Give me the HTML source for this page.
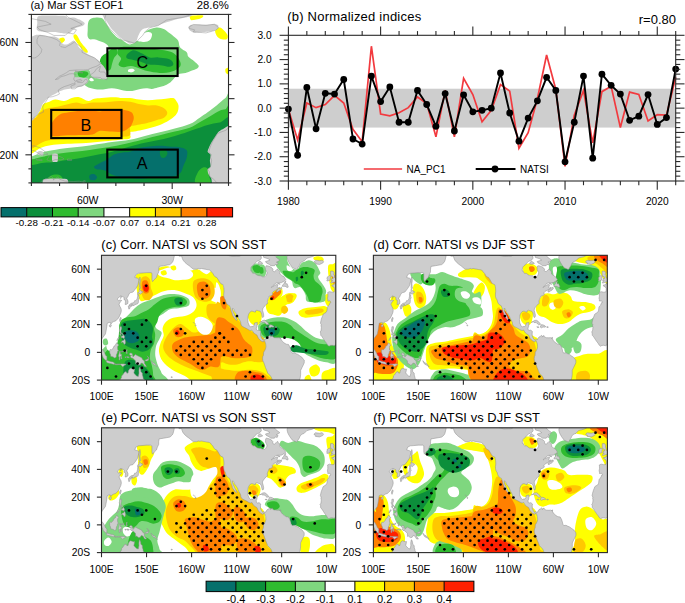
<!DOCTYPE html><html><head><meta charset="utf-8"><style>html,body{margin:0;padding:0;background:#fff;width:685px;height:603px;overflow:hidden}svg{display:block}text{font-family:"Liberation Sans",sans-serif}</style></head><body>
<svg width="685" height="603" viewBox="0 0 685 603">
<rect x="0" y="0" width="685" height="603" fill="#fff"/>
<svg x="31.4" y="14.4" width="197.1" height="168.5" viewBox="280 -70 70 60" preserveAspectRatio="none" overflow="hidden"><rect x="275" y="-75" width="80" height="70" fill="#fff"/><path d="M284.26,-38.09 C284.79,-38.58 285.68,-38.65 286.39,-38.91 C287.1,-39.18 287.64,-39.66 288.52,-39.7 C289.41,-39.74 290.71,-39.07 291.68,-39.16 C292.66,-39.25 293.46,-40.01 294.35,-40.23 C295.24,-40.46 296.04,-40.69 297.01,-40.52 C297.98,-40.34 299.29,-39.25 300.17,-39.16 C301.05,-39.07 301.51,-39.8 302.3,-39.98 C303.1,-40.16 303.78,-40.14 304.93,-40.23 C306.08,-40.32 307.96,-40.52 309.19,-40.52 C310.43,-40.52 311.38,-40.28 312.35,-40.23 C313.32,-40.18 314.04,-40.32 315.02,-40.23 C315.99,-40.14 317.15,-39.83 318.21,-39.7 C319.27,-39.57 320.32,-39.45 321.37,-39.45 C322.43,-39.45 323.51,-39.61 324.57,-39.7 C325.63,-39.79 326.76,-39.89 327.73,-39.98 C328.7,-40.07 329.77,-40.37 330.4,-40.23 C331.02,-40.09 331.15,-39.6 331.46,-39.16 C331.77,-38.72 332.15,-38.21 332.24,-37.6 C332.33,-36.98 332.21,-36.08 331.99,-35.46 C331.77,-34.84 331.46,-34.39 330.93,-33.86 C330.4,-33.32 329.68,-32.79 328.8,-32.26 C327.92,-31.72 326.7,-31.09 325.64,-30.65 C324.58,-30.21 323.51,-29.93 322.44,-29.62 C321.37,-29.31 320.21,-29.03 319.24,-28.8 C318.27,-28.58 317.32,-28.4 316.62,-28.27 C315.91,-28.14 315.28,-28.42 315.02,-28.02 C314.75,-27.62 315.63,-26.33 315.02,-25.88 C314.4,-25.44 312.83,-25.53 311.32,-25.35 C309.82,-25.17 307.77,-24.99 306,-24.81 C304.23,-24.64 302.47,-24.41 300.71,-24.28 C298.94,-24.15 297.18,-24.12 295.41,-24.03 C293.65,-23.94 291.71,-23.88 290.12,-23.74 C288.53,-23.61 287.1,-23.51 285.86,-23.25 C284.62,-22.99 283.63,-22.62 282.7,-22.18 C281.77,-21.73 280.94,-20.83 280.28,-20.58 C279.63,-20.32 279.04,-18.74 278.79,-20.65 C278.54,-22.56 278.46,-30.02 278.79,-32.04 C279.13,-34.07 280.25,-32.4 280.82,-32.79 C281.38,-33.18 281.77,-33.86 282.17,-34.39 C282.56,-34.93 282.85,-35.38 283.2,-35.99 C283.55,-36.61 283.73,-37.61 284.26,-38.09Z" fill="#ffff00"/><path d="M295.06,-62.7 C295.23,-62.87 295.7,-63.09 296.09,-62.7 C296.48,-62.31 297.05,-60.91 297.4,-60.35 C297.75,-59.79 297.8,-59.79 298.18,-59.32 C298.57,-58.84 299.41,-57.98 299.71,-57.5 C300.01,-57.03 300.13,-56.64 299.99,-56.47 C299.86,-56.3 299.32,-56.21 298.93,-56.47 C298.54,-56.73 298.12,-57.43 297.65,-58.04 C297.18,-58.64 296.52,-59.5 296.09,-60.1 C295.66,-60.71 295.23,-61.23 295.06,-61.67 C294.89,-62.1 294.89,-62.53 295.06,-62.7Z" fill="#ffff00"/><path d="M289.8,-61.24 C290.01,-61.51 290.87,-61.83 291.22,-61.77 C291.58,-61.72 291.99,-61.21 291.93,-60.88 C291.87,-60.56 291.19,-59.93 290.87,-59.82 C290.54,-59.7 290.16,-59.93 289.98,-60.17 C289.8,-60.41 289.59,-60.97 289.8,-61.24Z" fill="#ffff00"/><path d="M336.33,-69.43 C336.56,-69.7 337.33,-69.58 338.1,-69.61 C338.87,-69.64 340.56,-69.76 340.94,-69.61 C341.33,-69.46 340.83,-68.96 340.41,-68.72 C340,-68.48 339.08,-68.3 338.46,-68.18 C337.84,-68.07 337.04,-67.8 336.68,-68.01 C336.33,-68.21 336.09,-69.16 336.33,-69.43Z" fill="#ffff00"/><path d="M345.38,-64.45 C345.64,-64.77 346.41,-65.33 346.91,-65.3 C347.41,-65.27 347.95,-64.71 348.4,-64.27 C348.86,-63.83 349.47,-63.17 349.64,-62.66 C349.82,-62.16 349.79,-61.5 349.47,-61.24 C349.14,-60.99 348.25,-61.01 347.69,-61.13 C347.14,-61.25 346.51,-61.58 346.13,-61.95 C345.74,-62.33 345.51,-62.96 345.38,-63.38 C345.26,-63.79 345.13,-64.12 345.38,-64.45Z" fill="#ffff00"/><path d="M348.93,-50.56 C349.11,-50.85 349.97,-51.21 350.18,-50.91 C350.38,-50.62 350.36,-49.07 350.18,-48.78 C350,-48.48 349.32,-48.84 349.11,-49.13 C348.9,-49.43 348.76,-50.26 348.93,-50.56Z" fill="#ffff00"/><path d="M300.24,-67.36 C300.55,-68.1 301.03,-68.46 301.81,-68.68 C302.58,-68.9 304.12,-68.99 304.9,-68.68 C305.67,-68.38 305.85,-67.69 306.46,-66.87 C307.07,-66.04 307.86,-64.6 308.55,-63.73 C309.25,-62.87 310.01,-62.14 310.61,-61.67 C311.22,-61.19 311.44,-61.28 312.18,-60.88 C312.91,-60.49 314.02,-59.28 315.02,-59.32 C316.01,-59.36 317.19,-60.35 318.14,-61.13 C319.1,-61.92 319.7,-63.32 320.74,-64.02 C321.77,-64.71 323.32,-65.18 324.36,-65.3 C325.39,-65.42 326.26,-65.03 326.95,-64.77 C327.64,-64.5 327.91,-64.17 328.51,-63.73 C329.12,-63.3 329.97,-62.68 330.57,-62.17 C331.18,-61.65 331.79,-61.24 332.14,-60.64 C332.48,-60.03 332.37,-59.06 332.63,-58.53 C332.89,-58.01 333.27,-57.85 333.7,-57.5 C334.13,-57.16 334.88,-56.9 335.23,-56.47 C335.57,-56.04 335.33,-55.42 335.76,-54.9 C336.19,-54.38 337.21,-53.86 337.82,-53.34 C338.42,-52.81 339.2,-52.2 339.38,-51.77 C339.56,-51.34 339.32,-51.04 338.88,-50.74 C338.45,-50.43 337.48,-50.21 336.79,-49.95 C336.1,-49.69 335.5,-49.38 334.73,-49.17 C333.95,-48.96 332.83,-49.01 332.14,-48.67 C331.44,-48.33 331.09,-47.63 330.57,-47.1 C330.05,-46.58 329.61,-45.97 329.01,-45.54 C328.41,-45.1 327.64,-44.77 326.95,-44.5 C326.26,-44.24 325.55,-44.14 324.86,-43.97 C324.16,-43.8 323.48,-43.51 322.8,-43.47 C322.11,-43.43 321.43,-43.72 320.74,-43.72 C320.04,-43.72 319.33,-43.6 318.64,-43.47 C317.95,-43.34 317.18,-43.07 316.58,-42.94 C315.98,-42.81 315.67,-42.69 315.02,-42.69 C314.37,-42.69 313.41,-42.81 312.67,-42.94 C311.94,-43.07 311.3,-43.34 310.61,-43.47 C309.93,-43.6 309.25,-43.72 308.55,-43.72 C307.86,-43.72 307.15,-43.55 306.46,-43.47 C305.77,-43.39 305.09,-43.22 304.4,-43.22 C303.71,-43.22 303,-43.35 302.3,-43.47 C301.61,-43.6 300.85,-43.71 300.24,-43.97 C299.64,-44.23 299.07,-44.69 298.68,-45.04 C298.29,-45.39 297.98,-45.73 297.9,-46.07 C297.82,-46.42 298.65,-46.89 298.18,-47.1 C297.72,-47.32 295.64,-46.9 295.13,-47.35 C294.62,-47.81 294.18,-49.43 295.13,-49.85 C296.08,-50.26 299.27,-49.26 300.81,-49.85 C302.36,-50.43 303.72,-52.49 304.4,-53.34 C305.08,-54.18 304.55,-54.47 304.9,-54.9 C305.24,-55.34 306.03,-55.5 306.46,-55.93 C306.89,-56.37 307.4,-56.98 307.49,-57.5 C307.58,-58.02 307.33,-58.64 306.99,-59.07 C306.65,-59.5 305.95,-59.84 305.43,-60.1 C304.91,-60.36 304.39,-60.46 303.87,-60.64 C303.35,-60.81 302.82,-61.05 302.3,-61.13 C301.79,-61.22 301.16,-60.96 300.78,-61.13 C300.39,-61.31 300.13,-61.64 299.99,-62.17 C299.86,-62.69 299.95,-63.4 299.99,-64.27 C300.04,-65.13 299.94,-66.63 300.24,-67.36Z" fill="#7fd77f"/><path d="M295.31,-49.95 C296.22,-50.43 299.86,-50.5 300.78,-49.95 C301.69,-49.4 301.04,-47.34 300.81,-46.64 C300.58,-45.94 300.1,-45.87 299.39,-45.75 C298.68,-45.63 297.23,-45.7 296.55,-45.93 C295.87,-46.15 295.51,-46.43 295.31,-47.1 C295.1,-47.77 294.4,-49.48 295.31,-49.95Z" fill="#7fd77f"/><path d="M278.79,-19.51 C279.04,-21.28 279.46,-19.29 280.28,-19.51 C281.11,-19.73 282.53,-20.47 283.73,-20.82 C284.92,-21.18 285.95,-21.38 287.46,-21.64 C288.96,-21.91 290.99,-22.21 292.75,-22.43 C294.51,-22.65 296.27,-22.74 298.04,-22.96 C299.81,-23.18 301.6,-23.48 303.37,-23.74 C305.14,-24.01 306.72,-24.3 308.66,-24.56 C310.6,-24.83 313.08,-24.99 315.02,-25.35 C316.96,-25.7 318.54,-26.26 320.31,-26.7 C322.08,-27.15 323.87,-27.58 325.64,-28.02 C327.41,-28.46 329.16,-28.85 330.93,-29.34 C332.69,-29.82 334.72,-30.27 336.22,-30.94 C337.72,-31.6 338.85,-32.62 339.91,-33.32 C340.97,-34.03 341.6,-34.46 342.58,-35.18 C343.55,-35.89 344.71,-36.75 345.77,-37.6 C346.83,-38.44 348.02,-39.61 348.93,-40.23 C349.85,-40.85 350.86,-46.52 351.24,-41.3 C351.63,-36.08 363.32,-14.3 351.24,-8.9 C339.17,-3.5 290.87,-7.13 278.79,-8.9 C266.72,-10.66 278.54,-17.74 278.79,-19.51Z" fill="#7fd77f"/><path d="M317.15,-60.88 C316.91,-61.3 317.86,-62.19 318.57,-62.66 C319.28,-63.14 320.7,-63.67 321.41,-63.73 C322.12,-63.79 322.71,-63.5 322.83,-63.02 C322.95,-62.55 322.59,-61.36 322.12,-60.88 C321.65,-60.41 320.82,-60.17 319.99,-60.17 C319.16,-60.17 317.39,-60.47 317.15,-60.88Z" fill="#ffffff"/><path d="M300.53,-46.82 C300.56,-47.02 301.07,-47.48 301.34,-47.42 C301.62,-47.36 302.23,-46.66 302.2,-46.46 C302.17,-46.26 301.45,-46.15 301.17,-46.21 C300.89,-46.27 300.5,-46.62 300.53,-46.82Z" fill="#ffffff"/><path d="M283.48,-35.46 C283.83,-35.73 284.22,-36.02 284.79,-36.24 C285.37,-36.46 286.04,-36.6 286.93,-36.78 C287.81,-36.96 289.06,-37.09 290.12,-37.31 C291.18,-37.53 292.31,-37.88 293.28,-38.09 C294.25,-38.31 295.06,-38.63 295.95,-38.63 C296.83,-38.63 297.6,-38.09 298.57,-38.09 C299.55,-38.09 300.71,-38.54 301.77,-38.63 C302.83,-38.72 303.87,-38.58 304.93,-38.63 C305.99,-38.68 307.06,-38.82 308.13,-38.91 C309.19,-39 310.18,-39.16 311.32,-39.16 C312.47,-39.16 313.87,-39.09 315.02,-38.91 C316.17,-38.74 317.15,-38.31 318.21,-38.09 C319.27,-37.88 320.32,-37.68 321.37,-37.6 C322.43,-37.51 323.6,-37.77 324.57,-37.6 C325.54,-37.42 326.58,-36.97 327.2,-36.53 C327.81,-36.08 328.26,-35.46 328.26,-34.93 C328.26,-34.39 327.73,-33.72 327.2,-33.32 C326.67,-32.93 325.9,-32.81 325.1,-32.54 C324.31,-32.27 323.42,-31.99 322.44,-31.72 C321.46,-31.45 320.21,-31.16 319.24,-30.94 C318.27,-30.72 317.32,-30.58 316.62,-30.4 C315.91,-30.23 315.28,-30.48 315.02,-29.91 C314.75,-29.33 315.46,-27.53 315.02,-26.95 C314.57,-26.37 313.41,-26.55 312.35,-26.42 C311.29,-26.28 310.16,-26.21 308.66,-26.17 C307.16,-26.12 305.14,-26.21 303.37,-26.17 C301.6,-26.12 299.81,-25.97 298.04,-25.88 C296.27,-25.79 294.42,-25.72 292.75,-25.63 C291.07,-25.54 289.32,-25.48 287.99,-25.35 C286.66,-25.21 285.68,-25.08 284.79,-24.81 C283.91,-24.55 283.31,-24.09 282.7,-23.74 C282.08,-23.39 281.75,-22.93 281.1,-22.71 C280.45,-22.49 279.18,-20.93 278.79,-22.43 C278.41,-23.92 278.32,-29.87 278.79,-31.69 C279.27,-33.5 280.98,-32.83 281.63,-33.32 C282.28,-33.82 282.39,-34.28 282.7,-34.64 C283.01,-35 283.13,-35.19 283.48,-35.46Z" fill="#ffc800"/><path d="M311.43,-58.25 C312.24,-58.65 314.05,-58.46 315.37,-58.46 C316.69,-58.46 318.1,-58.36 319.35,-58.25 C320.6,-58.14 321.69,-57.93 322.87,-57.79 C324.04,-57.64 325.28,-57.54 326.38,-57.36 C327.48,-57.18 328.59,-57.05 329.47,-56.68 C330.35,-56.31 331.08,-55.85 331.67,-55.15 C332.27,-54.45 332.95,-53.22 333.02,-52.48 C333.1,-51.74 332.8,-51.25 332.14,-50.74 C331.47,-50.22 330.15,-49.64 329.05,-49.38 C327.95,-49.12 326.85,-49.09 325.53,-49.17 C324.21,-49.25 322.3,-49.58 321.13,-49.85 C319.95,-50.11 319.42,-50.45 318.46,-50.74 C317.5,-51.03 316.33,-51.52 315.37,-51.59 C314.42,-51.66 313.48,-51.09 312.74,-51.16 C312.01,-51.24 311.12,-51.54 310.97,-52.05 C310.82,-52.57 311.93,-53.6 311.86,-54.26 C311.79,-54.93 310.61,-55.38 310.54,-56.04 C310.47,-56.71 310.63,-57.85 311.43,-58.25Z" fill="#2fbb2f"/><path d="M304.4,-53.87 C304.57,-54.48 305,-55 305.43,-55.44 C305.86,-55.87 306.47,-56.08 306.99,-56.47 C307.51,-56.85 308.04,-57.52 308.55,-57.75 C309.06,-57.98 309.71,-58.14 310.05,-57.86 C310.38,-57.57 310.66,-56.61 310.54,-56.04 C310.42,-55.48 309.65,-55.09 309.34,-54.47 C309.02,-53.86 308.86,-53.05 308.63,-52.34 C308.39,-51.63 308.39,-50.56 307.91,-50.2 C307.44,-49.85 306.37,-49.94 305.78,-50.2 C305.2,-50.46 304.63,-51.16 304.4,-51.77 C304.17,-52.38 304.23,-53.26 304.4,-53.87Z" fill="#2fbb2f"/><path d="M296.62,-49.56 C297.04,-49.86 298.79,-49.83 299.39,-49.7 C299.99,-49.57 300.3,-49.12 300.24,-48.78 C300.18,-48.43 299.59,-47.79 299.04,-47.64 C298.48,-47.49 297.31,-47.57 296.91,-47.89 C296.5,-48.21 296.21,-49.26 296.62,-49.56Z" fill="#2fbb2f"/><path d="M278.79,-18.44 C279.04,-20.03 279.46,-18.3 280.28,-18.44 C281.11,-18.58 282.53,-18.99 283.73,-19.26 C284.92,-19.53 285.95,-19.78 287.46,-20.04 C288.96,-20.3 290.99,-20.61 292.75,-20.82 C294.51,-21.04 296.27,-21.13 298.04,-21.36 C299.81,-21.58 301.6,-21.91 303.37,-22.18 C305.14,-22.45 306.72,-22.61 308.66,-22.96 C310.6,-23.31 313.08,-23.83 315.02,-24.28 C316.96,-24.72 318.54,-25.19 320.31,-25.63 C322.08,-26.08 323.87,-26.51 325.64,-26.95 C327.41,-27.39 329.16,-27.82 330.93,-28.27 C332.69,-28.71 334.72,-29.04 336.22,-29.62 C337.72,-30.2 338.68,-31.01 339.91,-31.72 C341.15,-32.43 342.49,-33.19 343.64,-33.86 C344.8,-34.52 345.96,-35.31 346.84,-35.71 C347.72,-36.11 348.2,-36.08 348.93,-36.24 C349.67,-36.4 350.86,-41.23 351.24,-36.67 C351.63,-32.11 363.32,-13.53 351.24,-8.9 C339.17,-4.27 290.87,-7.31 278.79,-8.9 C266.72,-10.49 278.54,-16.85 278.79,-18.44Z" fill="#2fbb2f"/><path d="M287.46,-31.72 C287.95,-32.61 289.15,-33.82 290.12,-34.39 C291.09,-34.97 292.13,-34.96 293.28,-35.18 C294.43,-35.39 295.77,-35.57 297.01,-35.71 C298.25,-35.85 299.47,-36.04 300.71,-35.99 C301.94,-35.95 303.34,-35.42 304.4,-35.46 C305.46,-35.5 305.91,-36.11 307.06,-36.24 C308.22,-36.37 310,-36.37 311.32,-36.24 C312.65,-36.11 314.22,-35.77 315.02,-35.46 C315.81,-35.15 315.86,-34.84 316.08,-34.39 C316.3,-33.95 316.42,-33.41 316.33,-32.79 C316.24,-32.17 315.77,-31.13 315.55,-30.65 C315.33,-30.17 315.55,-30.3 315.02,-29.91 C314.49,-29.51 313.41,-28.54 312.35,-28.27 C311.29,-27.99 309.99,-28.22 308.66,-28.27 C307.33,-28.31 305.55,-28.73 304.4,-28.55 C303.25,-28.37 302.83,-27.45 301.77,-27.2 C300.71,-26.95 299.55,-27.1 298.04,-27.06 C296.54,-27.01 294.51,-27.01 292.75,-26.95 C290.99,-26.89 288.39,-26.34 287.46,-26.7 C286.53,-27.06 287.17,-28.25 287.17,-29.09 C287.17,-29.92 286.97,-30.84 287.46,-31.72Z" fill="#ff8000"/><path d="M313.85,-55.58 C314.14,-56.06 315.21,-56.93 315.83,-57.15 C316.46,-57.36 316.99,-57.08 317.57,-56.9 C318.16,-56.71 318.62,-56.41 319.35,-56.04 C320.08,-55.67 321.03,-54.91 321.98,-54.69 C322.93,-54.46 324.04,-54.76 325.07,-54.69 C326.1,-54.62 327.35,-54.48 328.16,-54.26 C328.97,-54.04 329.57,-53.74 329.93,-53.37 C330.3,-53 330.51,-52.39 330.36,-52.05 C330.21,-51.72 329.71,-51.41 329.05,-51.38 C328.38,-51.34 327.26,-51.73 326.38,-51.84 C325.5,-51.95 324.63,-51.98 323.75,-52.05 C322.88,-52.12 321.93,-52.08 321.13,-52.27 C320.32,-52.45 319.74,-52.9 318.92,-53.16 C318.11,-53.41 317.07,-53.61 316.26,-53.8 C315.45,-53.98 314.46,-53.96 314.06,-54.26 C313.66,-54.56 313.55,-55.1 313.85,-55.58Z" fill="#0c8f3b"/><path d="M278.79,-16.34 C279.04,-17.58 279.46,-16.21 280.28,-16.34 C281.11,-16.47 282.53,-16.95 283.73,-17.12 C284.92,-17.29 285.95,-17.19 287.46,-17.37 C288.96,-17.55 290.99,-17.92 292.75,-18.19 C294.51,-18.46 296.27,-18.66 298.04,-18.97 C299.81,-19.28 301.6,-19.69 303.37,-20.04 C305.14,-20.4 306.72,-20.62 308.66,-21.11 C310.6,-21.6 313.08,-22.43 315.02,-22.96 C316.96,-23.49 318.54,-23.88 320.31,-24.28 C322.08,-24.68 323.87,-24.94 325.64,-25.35 C327.41,-25.75 329.34,-26.26 330.93,-26.7 C332.51,-27.15 333.83,-27.58 335.15,-28.02 C336.48,-28.46 337.65,-28.9 338.88,-29.34 C340.12,-29.77 341.25,-30.3 342.58,-30.65 C343.9,-31.01 345.39,-31.27 346.84,-31.47 C348.28,-31.67 350.51,-35.63 351.24,-31.86 C351.98,-28.1 363.32,-12.72 351.24,-8.9 C339.17,-5.07 290.87,-7.66 278.79,-8.9 C266.72,-10.14 278.54,-15.1 278.79,-16.34Z" fill="#0c8f3b"/><path d="M314.49,-50.38 C314.73,-50.56 315.54,-50.69 315.91,-50.63 C316.27,-50.57 316.72,-50.23 316.69,-50.02 C316.66,-49.82 316.11,-49.46 315.73,-49.38 C315.35,-49.31 314.62,-49.39 314.41,-49.56 C314.21,-49.73 314.24,-50.2 314.49,-50.38Z" fill="#ffffff"/><path d="M285.54,-9.96 C284.71,-10.32 285.78,-11.6 286.25,-12.1 C286.72,-12.61 287.67,-12.93 288.38,-12.99 C289.09,-13.05 290.04,-12.96 290.51,-12.46 C290.99,-11.95 292.05,-10.38 291.22,-9.96 C290.39,-9.55 286.37,-9.61 285.54,-9.96Z" fill="#2fbb2f"/><path d="M338.28,-9.96 C337.54,-10.56 338.55,-12.61 338.99,-13.53 C339.43,-14.45 340.32,-15.25 340.94,-15.48 C341.57,-15.72 342.36,-15.45 342.72,-14.95 C343.07,-14.45 342.96,-13.29 343.07,-12.46 C343.19,-11.63 344.23,-10.38 343.43,-9.96 C342.63,-9.55 339.02,-9.37 338.28,-9.96Z" fill="#2fbb2f"/><path d="M302.3,-15.8 C302.56,-16.16 303.61,-16.68 304.4,-17.12 C305.19,-17.56 306.26,-17.95 307.06,-18.44 C307.86,-18.93 308.31,-19.64 309.19,-20.04 C310.08,-20.44 311.38,-20.65 312.35,-20.82 C313.32,-21 314.04,-20.84 315.02,-21.11 C315.99,-21.38 317.07,-22.12 318.21,-22.43 C319.36,-22.74 320.67,-22.82 321.91,-22.96 C323.14,-23.1 324.49,-23.25 325.64,-23.25 C326.79,-23.25 327.65,-23.05 328.8,-22.96 C329.95,-22.87 331.47,-22.93 332.53,-22.71 C333.59,-22.49 334.72,-22.27 335.15,-21.64 C335.59,-21.02 335.33,-19.86 335.15,-18.97 C334.98,-18.09 334.44,-17.22 334.09,-16.34 C333.73,-15.45 333.55,-14.33 333.02,-13.67 C332.5,-13 331.72,-12.62 330.93,-12.35 C330.14,-12.08 329.59,-12.15 328.26,-12.07 C326.94,-11.98 324.65,-11.91 322.97,-11.82 C321.3,-11.73 319.54,-11.53 318.21,-11.53 C316.89,-11.53 315.99,-11.73 315.02,-11.82 C314.04,-11.91 313.15,-11.98 312.35,-12.07 C311.56,-12.15 310.96,-12.17 310.26,-12.35 C309.55,-12.53 308.75,-12.82 308.13,-13.13 C307.51,-13.44 307.15,-13.93 306.53,-14.2 C305.91,-14.47 305.01,-14.61 304.4,-14.74 C303.78,-14.87 303.19,-14.81 302.84,-14.99 C302.49,-15.16 302.04,-15.45 302.3,-15.8Z" fill="#05706c"/><path d="M300.71,-12.81 C300.94,-13.14 301.8,-13.29 302.23,-13.17 C302.66,-13.05 303.24,-12.46 303.3,-12.1 C303.36,-11.74 303,-11.18 302.59,-11.03 C302.17,-10.88 301.13,-10.91 300.81,-11.21 C300.5,-11.51 300.47,-12.49 300.71,-12.81Z" fill="#05706c"/><path d="M325.67,-21.36 C325.91,-21.77 327,-21.83 327.45,-21.72 C327.89,-21.6 328.34,-21.09 328.34,-20.65 C328.34,-20.2 327.83,-19.28 327.45,-19.04 C327.06,-18.81 326.32,-18.84 326.03,-19.22 C325.73,-19.61 325.44,-20.94 325.67,-21.36Z" fill="#0c8f3b"/><path d="M282.63,-69.47 C283.61,-69.73 290.9,-69.54 291.93,-69.47 C292.97,-69.39 292.69,-68.74 293,-68.68 C293.31,-68.63 294.65,-68.99 295.06,-68.93 C295.47,-68.88 296.73,-68.35 297.12,-68.15 C297.51,-67.94 298.82,-67.1 298.93,-66.87 C299.04,-66.64 298.47,-65.99 298.18,-65.83 C297.9,-65.68 296.45,-65.46 296.09,-65.3 C295.72,-65.14 294.78,-64.47 294.53,-64.27 C294.27,-64.06 293.8,-63.34 293.5,-63.23 C293.19,-63.13 291.95,-63.18 291.44,-63.23 C290.92,-63.28 288.93,-63.68 288.31,-63.73 C287.69,-63.78 285.79,-63.7 285.22,-63.73 C284.65,-63.76 282.97,-63.91 282.63,-64.02 C282.29,-64.12 281.9,-64.48 281.85,-64.77 C281.79,-65.05 282.02,-66.4 282.1,-66.87 C282.17,-67.34 281.64,-69.21 282.63,-69.47Z" fill="#cdcdcd"/><path d="M280.14,-62.17 C280.53,-62.22 281.21,-62.65 281.56,-62.7 C281.91,-62.75 283.19,-62.75 283.66,-62.7 C284.13,-62.65 285.79,-62.23 286.25,-62.17 C286.72,-62.11 287.95,-62.19 288.31,-62.09 C288.67,-62 289.65,-61.44 289.87,-61.24 C290.09,-61.04 290.35,-60.29 290.51,-60.1 C290.68,-59.91 291.29,-59.38 291.54,-59.32 C291.8,-59.26 292.76,-59.37 293.07,-59.5 C293.38,-59.62 294.42,-60.41 294.63,-60.53 C294.84,-60.64 295.02,-60.74 295.16,-60.64 C295.31,-60.53 295.89,-59.76 296.09,-59.5 C296.28,-59.24 296.86,-58.3 297.12,-58.04 C297.38,-57.78 298.37,-57.13 298.68,-56.9 C298.99,-56.66 299.88,-55.91 300.24,-55.69 C300.61,-55.46 301.94,-54.86 302.3,-54.65 C302.67,-54.45 303.63,-53.8 303.87,-53.62 C304.1,-53.44 304.59,-52.99 304.65,-52.84 C304.7,-52.68 304.53,-52.21 304.4,-52.05 C304.27,-51.9 303.63,-51.43 303.37,-51.27 C303.11,-51.11 302.07,-50.59 301.81,-50.49 C301.55,-50.38 301.04,-50.27 300.78,-50.24 C300.52,-50.2 299.58,-50.17 299.21,-50.13 C298.85,-50.09 297.51,-49.88 297.12,-49.81 C296.73,-49.74 295.51,-49.57 295.31,-49.45 C295.1,-49.34 295.03,-48.85 295.06,-48.67 C295.09,-48.49 295.39,-47.74 295.59,-47.64 C295.8,-47.53 296.81,-47.67 297.12,-47.64 C297.43,-47.61 298.39,-47.4 298.68,-47.35 C298.97,-47.31 299.84,-47.32 299.99,-47.21 C300.15,-47.1 300.3,-46.41 300.24,-46.21 C300.18,-46.01 299.62,-45.41 299.39,-45.22 C299.16,-45.03 298.29,-44.45 297.97,-44.33 C297.65,-44.2 296.59,-44.04 296.19,-43.97 C295.8,-43.9 294.49,-43.69 294.06,-43.61 C293.64,-43.54 292.35,-43.36 291.93,-43.26 C291.51,-43.15 290.23,-42.74 289.87,-42.58 C289.52,-42.42 288.71,-41.84 288.38,-41.66 C288.05,-41.47 286.91,-40.96 286.61,-40.77 C286.3,-40.57 285.59,-39.96 285.33,-39.7 C285.07,-39.43 284.23,-38.47 284.01,-38.09 C283.8,-37.72 283.38,-36.36 283.2,-35.99 C283.01,-35.62 282.4,-34.71 282.17,-34.39 C281.93,-34.07 281.01,-33 280.82,-32.79 C280.63,-32.58 280.59,-32.33 280.28,-32.26 C279.98,-32.18 277.98,-29.05 277.73,-32.04 C277.47,-35.03 277.49,-59.15 277.73,-62.17 C277.97,-65.18 279.76,-62.11 280.14,-62.17Z" fill="#cdcdcd"/><path d="M300.78,-49.95 C300.87,-50.16 301.55,-51.04 301.81,-51.27 C302.07,-51.51 303.08,-52.17 303.37,-52.3 C303.65,-52.43 304.44,-52.61 304.65,-52.55 C304.85,-52.5 305.25,-52 305.43,-51.77 C305.61,-51.54 306.3,-50.55 306.46,-50.24 C306.61,-49.93 306.97,-48.98 306.99,-48.67 C307.02,-48.36 306.86,-47.29 306.71,-47.1 C306.55,-46.92 305.71,-46.85 305.43,-46.85 C305.14,-46.85 304.18,-47.05 303.87,-47.1 C303.55,-47.15 302.56,-47.25 302.3,-47.35 C302.04,-47.46 301.42,-47.95 301.27,-48.14 C301.13,-48.32 300.9,-48.99 300.85,-49.17 C300.8,-49.35 300.68,-49.74 300.78,-49.95Z" fill="#cdcdcd"/><path d="M305.43,-69.47 C305.53,-69.1 306.25,-68.21 306.46,-67.9 C306.66,-67.59 307.28,-66.65 307.49,-66.33 C307.7,-66.02 308.29,-65.08 308.55,-64.77 C308.81,-64.46 309.77,-63.54 310.08,-63.23 C310.39,-62.92 311.33,-61.92 311.64,-61.67 C311.96,-61.41 312.9,-60.91 313.21,-60.71 C313.51,-60.5 314.41,-59.74 314.66,-59.64 C314.91,-59.53 315.54,-59.62 315.73,-59.64 C315.92,-59.66 316.42,-59.75 316.58,-59.85 C316.74,-59.95 317.23,-60.4 317.36,-60.64 C317.49,-60.87 317.73,-61.86 317.86,-62.17 C317.99,-62.48 318.46,-63.47 318.64,-63.73 C318.82,-63.99 319.36,-64.61 319.67,-64.77 C319.98,-64.92 321.3,-65.19 321.77,-65.3 C322.23,-65.41 323.84,-65.68 324.36,-65.83 C324.88,-65.99 326.43,-66.68 326.95,-66.87 C327.47,-67.05 329.02,-67.49 329.54,-67.65 C330.06,-67.81 331.62,-68.31 332.14,-68.43 C332.65,-68.56 334.26,-68.83 334.73,-68.93 C335.19,-69.04 336.58,-69.2 336.79,-69.47 C336.99,-69.73 339.92,-71.36 336.79,-71.57 C333.65,-71.78 308.56,-71.78 305.43,-71.57 C302.29,-71.36 305.33,-69.83 305.43,-69.47Z" fill="#cdcdcd"/><path d="M335.76,-65.55 C335.81,-65.76 336.43,-66.24 336.79,-66.33 C337.15,-66.42 338.86,-66.44 339.38,-66.44 C339.9,-66.44 341.4,-66.31 341.97,-66.33 C342.55,-66.35 344.66,-66.64 345.1,-66.62 C345.54,-66.59 346.27,-66.27 346.38,-66.08 C346.48,-65.9 346.36,-64.97 346.13,-64.77 C345.9,-64.56 344.59,-64.12 344.07,-64.02 C343.55,-63.91 341.57,-63.79 340.94,-63.73 C340.32,-63.68 338.28,-63.43 337.82,-63.48 C337.35,-63.54 336.5,-64.06 336.29,-64.27 C336.09,-64.47 335.71,-65.34 335.76,-65.55Z" fill="#cdcdcd"/><path d="M282.17,-21 C282.24,-21.15 282.84,-21.36 283.05,-21.36 C283.26,-21.36 284.16,-21.16 284.26,-21 C284.37,-20.85 284.31,-19.9 284.12,-19.79 C283.93,-19.69 282.54,-19.81 282.34,-19.93 C282.15,-20.06 282.1,-20.86 282.17,-21Z" fill="#cdcdcd"/><path d="M287.46,-20.29 C287.64,-20.55 289.12,-20.55 289.3,-20.29 C289.49,-20.03 289.49,-17.92 289.3,-17.66 C289.12,-17.39 287.64,-17.39 287.46,-17.66 C287.27,-17.92 287.27,-20.03 287.46,-20.29Z" fill="#cdcdcd"/><path d="M284.55,-11.39 C285.34,-11.64 291.71,-11.64 292.5,-11.39 C293.3,-11.14 293.3,-9.15 292.5,-8.9 C291.71,-8.65 285.34,-8.65 284.55,-8.9 C283.75,-9.15 283.75,-11.14 284.55,-11.39Z" fill="#cdcdcd"/><path d="M351.24,-29.62 C350.91,-31.64 348.36,-29.25 347.87,-29.09 C347.38,-28.93 346.57,-28.28 346.31,-28.02 C346.04,-27.75 345.48,-26.79 345.24,-26.42 C345,-26.04 344.1,-24.65 343.89,-24.28 C343.68,-23.91 343.24,-23.03 343.11,-22.71 C342.98,-22.4 342.52,-21.38 342.58,-21.11 C342.63,-20.84 343.56,-20.36 343.64,-20.04 C343.72,-19.72 343.39,-18.33 343.39,-17.91 C343.39,-17.48 343.72,-16.12 343.64,-15.8 C343.56,-15.49 342.66,-15 342.58,-14.74 C342.5,-14.47 342.73,-13.45 342.86,-13.13 C342.99,-12.81 343.71,-11.95 343.89,-11.53 C344.08,-11.11 343.97,-9.16 344.71,-8.9 C345.44,-8.63 350.59,-6.82 351.24,-8.9 C351.9,-10.97 351.58,-27.6 351.24,-29.62Z" fill="#cdcdcd"/><g fill="none" stroke="#8c8c8c" stroke-width="0.45" vector-effect="non-scaling-stroke" stroke-linejoin="round"><path d="M95,-75 L180,-75 L180.8,-69.4 L179.5,-66 L178.5,-64.8 L176,-63.3 L169,-62.5 L164,-62 L163.5,-60 L163.5,-58 L162,-56 L161,-54 L158.5,-52.5 L156.7,-51 L156,-52.5 L156,-57 L155,-57.5 L150,-57.5 L145,-57.2 L141,-57 L138,-56 L137,-54 L140,-53.5 L141.2,-53 L141.5,-52 L140.5,-49 L140,-48 L138,-46 L135,-43.5 L132,-43 L130.7,-42.3 L129.7,-40.8 L129.5,-40.5 L128,-39 L129.4,-37 L129.3,-35.3 L127.5,-34.6 L126.3,-34.5 L126.5,-36 L126.6,-37.5 L125,-38 L125,-39.5 L124.5,-39.9 L122,-40.5 L121.2,-38.8 L121.7,-39.8 L121.5,-40.8 L119.5,-39.8 L118,-39 L117.7,-38.3 L119,-37.2 L120.5,-37.8 L122.5,-37.4 L121,-36.5 L120,-35.5 L119.5,-34.5 L120.5,-33 L121.5,-32 L121.9,-30.9 L122,-30 L121.5,-28.5 L120.5,-27 L119.5,-25.5 L118.5,-24.5 L117,-23.5 L116,-22.8 L114,-22.3 L113.5,-22.2 L111.5,-21.5 L110.5,-20.4 L110,-21.5 L108.5,-21.6 L106.4,-21 L105.5,-17 L104.4,-13.3 L101.1,-10.4 L99,-8 L95,-8 L95,-75Z" vector-effect="non-scaling-stroke"/><path d="M108.6,-19.1 L109.5,-18.2 L110.5,-18.6 L111,-19.6 L110.5,-20.1 L109.6,-20 L108.7,-19.5Z" vector-effect="non-scaling-stroke"/><path d="M120.1,-23 L120.7,-22 L121,-22.5 L121.9,-24.5 L121.5,-25.3 L121,-25 L120.2,-23.8Z" vector-effect="non-scaling-stroke"/><path d="M129.8,-33.3 L130.3,-31.2 L131,-31.3 L131.8,-32.5 L132,-33.5 L131,-33.9 L130.5,-33.9Z" vector-effect="non-scaling-stroke"/><path d="M132.4,-33.3 L133.5,-33.2 L134.7,-33.8 L134.2,-34.3 L133,-34.1Z" vector-effect="non-scaling-stroke"/><path d="M131,-34.3 L132.5,-35.3 L135,-35.7 L136,-35.9 L136.8,-37.3 L138,-37.2 L139.5,-38.5 L140,-40 L140.3,-41.3 L141.4,-41.4 L141.5,-40 L142,-39.4 L141,-38.3 L141,-37 L140.8,-35.7 L140,-35 L139.2,-35.2 L138.7,-34.6 L137,-34.6 L136.8,-34.3 L135.8,-33.5 L135.1,-34.3 L134,-34.6 L132.5,-34.1 L131.2,-33.9Z" vector-effect="non-scaling-stroke"/><path d="M140,-41.6 L141,-41.8 L141.5,-42.6 L143.3,-41.9 L144.5,-42.9 L145.8,-43.3 L145.2,-44.1 L144,-44.1 L142.5,-45.4 L141.7,-45.4 L141.8,-44 L141.3,-43.2 L140.3,-43.3 L140.1,-42.3Z" vector-effect="non-scaling-stroke"/><path d="M142,-46 L143.5,-46.2 L143,-47.5 L142.7,-49.5 L143.2,-51.5 L143,-53.5 L142.6,-54.3 L142.2,-53.4 L141.7,-51 L142,-48 L141.9,-46.6Z" vector-effect="non-scaling-stroke"/><path d="M120.6,-18.5 L122.2,-18.5 L122.3,-17 L121.6,-15.8 L121.6,-14.3 L122.5,-14 L124,-13 L124.2,-12.6 L123.3,-12.9 L122,-13.7 L120.7,-13.8 L120.6,-14.5 L120,-15.3 L119.8,-16.3 L120.4,-16.7Z" vector-effect="non-scaling-stroke"/><path d="M122,-7 L123.5,-7.5 L124,-7.1 L125.4,-5.7 L126.3,-6.3 L126.6,-7.3 L126.2,-9 L125.5,-9.8 L124.5,-8.6 L123.5,-8.6 L122.2,-7.6Z" vector-effect="non-scaling-stroke"/><path d="M124.5,-12.5 L125.7,-11.2 L125,-10 L124.3,-10.2 L123.3,-10.6 L122,-10.5 L121.9,-11.8 L123,-11.7 L124,-12.5Z" vector-effect="non-scaling-stroke"/><path d="M117.2,-8.4 L118.5,-9.3 L119.6,-10.5 L119.3,-11 L118,-10 L117.1,-8.6Z" vector-effect="non-scaling-stroke"/><path d="M120.3,-13.5 L121.5,-13.2 L121.2,-12.2 L120.4,-12.6Z" vector-effect="non-scaling-stroke"/><path d="M109,-1.5 L109.6,-2 L111,-1.7 L113,-3.1 L114,-4.6 L115.3,-5 L116,-6 L117,-7 L117.7,-6.2 L119.2,-5.3 L118,-4.5 L117.8,-3.5 L118,-2 L118.9,-1 L117.8,-0.8 L117.5,0.5 L116.6,1.5 L116.3,3.5 L114.5,4 L113,3.3 L111.5,3 L110.3,2.9 L110,1.5 L109.2,0.5Z" vector-effect="non-scaling-stroke"/><path d="M119.5,5.5 L120.5,5.5 L120.4,3 L121.2,2.8 L121.5,4.6 L122.8,4.7 L122,3 L122.5,1.5 L121,1.4 L120.7,-0.5 L123,-0.5 L124.5,-1 L125.2,-1.5 L124.3,-0.3 L121.5,-0.5 L120,-0.8 L119.7,0.5 L118.8,2.7 L119.5,3.5Z" vector-effect="non-scaling-stroke"/><path d="M95.3,-5.6 L97.5,-5.2 L98.7,-3.8 L100.4,-2.2 L101.5,-1.7 L103.5,0.5 L104.5,2 L106,3 L105.9,5.8 L104.5,5.7 L102,4 L100.5,1.5 L99,-0.2 L97.5,-2.2 L96,-4Z" vector-effect="non-scaling-stroke"/><path d="M105.2,6.8 L106,5.9 L108.3,6.3 L110.5,6.8 L112.6,6.9 L114.5,7.7 L114.4,8.7 L112,8.3 L108.5,7.8 L106.4,7.4 L105.5,6.9Z" vector-effect="non-scaling-stroke"/><path d="M115,8.2 L116.5,8.5 L119,8.3 L121,8.4 L123,8.3 L125,8.3 L127,8.5 L127.2,8.9 L125,9.5 L124,10.2 L123.5,10.3 L121,8.8 L119,8.8 L116.5,9 L115,8.8Z" vector-effect="non-scaling-stroke"/><path d="M127.5,-1.5 L128.5,-2 L128.2,-0.5 L128.7,0.7 L127.5,0.8 L127.7,-0.8Z" vector-effect="non-scaling-stroke"/><path d="M128,3 L130.8,3.3 L130.5,3.8 L128.2,3.7Z" vector-effect="non-scaling-stroke"/><path d="M126,3.2 L127.2,3.3 L127,3.8 L126.1,3.7Z" vector-effect="non-scaling-stroke"/><path d="M131,1 L132.5,0.4 L134,0.8 L135,3.3 L137.5,1.5 L140,2.4 L144.5,3.8 L146,5.5 L147.5,6 L147.7,8 L150,10.2 L148,10.2 L146,8 L144,7.7 L143,9 L141,9.2 L139,8.1 L138,8.4 L137.7,6 L135,4.4 L134,4 L133,4.1 L132,2.9 L133.5,2.2 L132,2 L131,1.4Z" vector-effect="non-scaling-stroke"/><path d="M148.5,5.5 L151,5 L152,4.2 L152.4,5.5 L150.5,6.2 L148.8,6.2Z" vector-effect="non-scaling-stroke"/><path d="M150.5,2.5 L152,3.5 L153,4.6 L152.5,4.5 L151,3Z" vector-effect="non-scaling-stroke"/><path d="M155,6 L157,7.5 L159,8 L161,9.5 L162,10.5 L160,9.5 L157,8.5 L155.5,7Z" vector-effect="non-scaling-stroke"/><path d="M177.5,17.5 L178.6,17.7 L178.4,18.2 L177.3,18.1Z" vector-effect="non-scaling-stroke"/><path d="M113.5,22 L114,21.8 L116.7,20.6 L119,20 L121,19.5 L122.3,18 L122.2,17 L123.5,16.3 L124.5,15.3 L126,14 L127.5,14 L128.2,15 L129.5,14.8 L129.8,13.5 L130.6,12.4 L132,11.5 L133,11.6 L134,11.9 L135.5,12.1 L136.7,12 L136.5,13.3 L135.9,14.8 L137,15.8 L139,17 L140.8,17.4 L141.6,15 L141.5,13 L142,11 L142.5,10.7 L143.5,12.5 L143.7,14 L145.3,14.9 L145.4,16.4 L146.1,17.8 L146.3,19 L148.8,20.3 L149.5,22 L150,23 L145,25 L113,25Z" vector-effect="non-scaling-stroke"/><path d="M204.2,-19.9 L205,-19.5 L204.5,-18.9 L204,-19.3Z" vector-effect="non-scaling-stroke"/><path d="M203.4,-21 L204,-20.7 L203.6,-20.5Z" vector-effect="non-scaling-stroke"/><path d="M201.8,-21.6 L202.3,-21.4 L201.9,-21.3Z" vector-effect="non-scaling-stroke"/><path d="M186,-69.4 L186,-75 L266,-75 L277,-75 L275,-70 L277,-69.5 L277.5,-68 L276.5,-67 L275.3,-66.6 L274.5,-66 L273,-65.8 L272,-65.3 L270.5,-64.5 L269.5,-63.5 L267.5,-62.5 L266,-61.5 L265.5,-60 L265.5,-58.8 L266.5,-58.7 L267,-57.5 L268,-57 L270,-57 L272,-56 L273.5,-55.4 L275,-55.3 L277,-55.2 L278.5,-54.5 L281.3,-54.5 L282.5,-55.3 L283.5,-56.5 L283.7,-57.5 L283,-58.5 L282,-59.7 L282,-61 L282.5,-62.3 L283,-62.5 L285,-62.3 L287,-61.8 L289,-61 L290.3,-60 L290,-59 L290.5,-58.5 L292,-58.2 L293,-58.8 L294,-59.3 L295.5,-60.3 L296,-59.5 L297.5,-58.5 L298,-57.5 L298,-56.5 L299,-56 L300.5,-55.3 L302.5,-54.5 L303.5,-53.5 L304.5,-52.5 L304,-52 L303,-51.5 L301.5,-51 L300,-50.3 L298.5,-50.2 L296,-50.2 L293.5,-50 L292.5,-49.3 L291.5,-48.7 L290,-48 L289,-47.2 L288.5,-46.8 L289.5,-47 L290.5,-47.8 L292,-48.2 L293.5,-48.8 L294.5,-48.9 L295.8,-48.7 L295.3,-47.8 L295,-47 L295.5,-46.2 L296,-46.2 L296.5,-45.8 L298,-45.7 L298.5,-46 L299,-46.8 L299.6,-47 L300,-46 L299,-45.2 L298,-44.6 L296.5,-44.3 L295.5,-43.5 L294.3,-43.5 L294,-44.5 L295.5,-45 L295.5,-45.7 L295,-45.3 L294.5,-45.3 L293.8,-45 L293,-44.7 L291.7,-44.3 L290.5,-43.7 L289.5,-43 L289.8,-42 L290,-41.7 L289,-41.2 L287.5,-40.7 L286,-40.5 L285.5,-39.5 L285,-38.8 L284.5,-38 L284,-37 L284.2,-36 L284.3,-35.2 L282.5,-34.5 L281.5,-33.7 L280,-32.5 L279,-31.5 L278.7,-30.3 L279.5,-28.5 L280,-27 L279.9,-25.8 L279.3,-25.2 L278.5,-25.3 L278,-26.5 L277.7,-27.5 L277.3,-28.5 L275.8,-29.8 L274,-30 L272.5,-30.4 L271,-30 L270.8,-29 L269,-29.3 L268,-29.6 L266.5,-29.7 L265.2,-29.3 L263.7,-28 L263,-27 L262.5,-25.5 L262.3,-23.5 L262.7,-21.3 L264,-19.3 L265.5,-18.3 L266.5,-18.6 L268.3,-18.6 L269.5,-19.8 L269.8,-21.2 L271.5,-21.4 L273,-21.5 L272.5,-18.5 L271.8,-17.5 L272,-16.2 L273,-15.8 L275,-16 L276.8,-15 L276.5,-14 L276.5,-12 L277.5,-10.5 L279,-9 L280,-9.5 L281,-9.2 L282.5,-9.2 L283,-10 L284,-11 L285.5,-11.5 L287,-12.3 L288,-11.5 L287.7,-11 L288.5,-11.6 L289.5,-12.2 L290,-11.3 L292,-10.6 L295,-10.5 L297,-10.6 L298.5,-10.2 L300,-8.6 L301,-7.7 L303,-6.7 L305,-5.9 L307.5,-5.7 L309,-4 L310,-2 L310.5,-0.5 L311.5,0.5 L314,0.3 L316,1 L318,1.5 L320,2.5 L322.7,3.7 L324,5 L325,5.5 L325,7.5 L324,9 L322.5,11 L321,13 L321,16 L320.5,18.5 L319.5,20 L320,25 L289.8,25 L289.7,20 L288.5,18 L287.5,17 L286,16 L284.5,15 L283.5,13.3 L282,11 L281,9 L280.2,7.5 L279,6 L278.7,4.5 L279,3 L279.7,2.2 L279.9,0 L281,-1.2 L282,-2.5 L282.5,-4 L282.3,-6 L281.5,-7.5 L280.8,-8.5 L280,-8.5 L279.5,-7.5 L278,-8 L277,-8.2 L275.5,-9.2 L274.3,-10 L273.5,-11 L272.5,-12.5 L270.5,-13.3 L269,-14 L268,-15 L267,-16.1 L265.5,-15.8 L264,-16 L262,-16.8 L260,-17.5 L258.5,-18 L257,-18.5 L255.5,-19.2 L254.6,-20.5 L254.5,-21.5 L253.5,-23 L252.5,-24 L251.5,-25.5 L251,-26.5 L250,-27.5 L249,-28.5 L248,-29 L247.5,-30 L246.5,-31.5 L245.2,-31.7 L245.5,-30.5 L246.2,-29 L247.5,-27.5 L248,-26.5 L249,-25.5 L249.5,-24.5 L250.5,-23.5 L249.8,-23 L248,-24.3 L246,-26 L245.2,-27 L245,-28 L244,-29.5 L243.5,-31 L242.8,-32.5 L242,-33.7 L241,-34 L239,-35 L238,-36.5 L237.5,-37.8 L236.3,-39 L235.7,-40.4 L235.6,-42 L236,-44 L235.8,-46.2 L235.3,-48.2 L235,-48.8 L232.5,-49.5 L231,-50.8 L229.5,-52.5 L228,-54 L226,-54.5 L224.8,-55.5 L223.5,-57 L222,-58 L221,-59 L219.5,-59.5 L217,-59.7 L215,-60 L213,-60.2 L211,-60.5 L209,-60.2 L208,-60.5 L205.5,-60 L202,-60 L199,-61.5 L197.3,-62.5 L195,-63.5 L192.7,-64.8 L190.5,-66.5 L189.5,-68 L189,-69.4Z" vector-effect="non-scaling-stroke"/><path d="M240,-70 L245,-69.2 L250,-69.3 L253,-69.3 L255,-70 L255,-72 L240,-72Z" vector-effect="non-scaling-stroke"/><path d="M273.5,-64 L275,-65.5 L276,-65.8 L277,-65.2 L279,-64.2 L277.5,-63.8 L276,-63.5 L274,-63.7Z" vector-effect="non-scaling-stroke"/><path d="M279.5,-70 L279.5,-72 L292,-72 L292,-70 L293,-69 L296,-67.5 L298,-66.5 L297,-66 L294,-65 L296,-64.5 L295,-63 L293,-63.5 L292,-62.5 L288,-62.5 L286,-63.5 L283,-64.5 L282,-65.5 L287,-66.5 L285,-67.5 L280,-68.5Z" vector-effect="non-scaling-stroke"/><path d="M300.6,-47.6 L301,-48.5 L302.4,-49.5 L303,-50.5 L304.5,-51.6 L304.4,-51 L304,-49.8 L304.5,-49.5 L306,-49.5 L306.5,-48.5 L307.2,-47.6 L306.8,-46.7 L306,-47 L305.1,-47 L304.5,-47.5 L303.5,-47.6 L302,-47.6Z" vector-effect="non-scaling-stroke"/><path d="M295.5,-49.9 L298.2,-49.3 L298.2,-49.1 L295.6,-49.6Z" vector-effect="non-scaling-stroke"/><path d="M296,-46.5 L297.5,-46.9 L298,-46.4 L296.5,-46.1Z" vector-effect="non-scaling-stroke"/><path d="M306.5,-70 L306,-68.5 L306.5,-67 L307,-66 L308,-64.8 L309.2,-63.5 L310.3,-62.5 L312,-61 L314,-60.5 L316.5,-59.8 L317.5,-60.3 L318,-61 L319.5,-62.5 L320.5,-64 L322,-65.2 L323,-65.5 L325,-66 L328,-68 L331,-68.5 L334,-69 L337,-70 L337,-75 L306,-75Z" vector-effect="non-scaling-stroke"/><path d="M336,-65.5 L337.5,-66.4 L342,-66.1 L345,-66.5 L346.5,-65.3 L345.5,-64.4 L342,-63.4 L337.5,-63.8 L338,-64.5 L336,-65Z" vector-effect="non-scaling-stroke"/><path d="M354.3,-58.6 L356.8,-58.6 L358,-57.6 L358,-57 L357.8,-56 L358.5,-55.5 L358.5,-54 L359.5,-53.5 L360.3,-53 L361.7,-52.8 L361.4,-51.5 L361,-51 L359.5,-50.8 L358,-50.6 L355,-50 L354.3,-50.2 L355.5,-51.3 L356.5,-51.6 L355.5,-51.8 L354.8,-51.7 L355.7,-53 L355.4,-53.4 L357,-53.3 L357,-54 L356.6,-54.5 L355,-54.8 L354.4,-55.8 L354.2,-56.6 L354.2,-57.6Z" vector-effect="non-scaling-stroke"/><path d="M350,-51.7 L351,-51.5 L353.7,-52.1 L354,-53.3 L354.1,-54 L354.4,-54.6 L354,-55.2 L352.5,-55.3 L351.5,-54.6 L350.3,-54.2 L350.7,-53.5 L350,-53.3 L350.6,-52.5Z" vector-effect="non-scaling-stroke"/><path d="M361,-51 L360,-49.7 L358.5,-49.5 L358,-48.7 L355.5,-48.5 L356,-47.7 L357.8,-47.2 L358.8,-46 L358.7,-44.5 L358.2,-43.5 L356,-43.4 L353,-43.8 L351,-43.2 L351.2,-42 L351.2,-40.5 L350.8,-39 L351.2,-38 L351.2,-37 L352,-37 L353.5,-37.2 L354.5,-36.2 L354.6,-36 L354.4,-35.9 L353.5,-35.8 L353.2,-35 L352.5,-34 L351.5,-33.4 L350.7,-32.5 L350.5,-31.5 L350.3,-30.5 L350.2,-30 L349.2,-28.8 L347,-28 L346,-27.5 L345.3,-26.2 L344.5,-25 L344,-24 L343.4,-22.5 L343,-21 L343.9,-20 L343.6,-19.2 L344,-18 L343.8,-16.5 L343.5,-15.5 L342.6,-14.7 L343.2,-14 L343.3,-12.3 L344.5,-11.5 L345.5,-10.5 L346.5,-9.5 L347,-9 L348,-8 L349.5,-6.8 L351,-5.2 L352.5,-4.4 L354,-5 L356,-5.1 L358,-4.8 L360,-5.5 L362,-6 L365,-6 L365,-60 L361,-60Z" vector-effect="non-scaling-stroke"/><path d="M275.5,-21.8 L277,-22 L279,-23 L281,-23.2 L283,-22.5 L285,-21 L285.9,-20.2 L283.5,-19.9 L282.5,-20.5 L281,-21.5 L278.5,-21.5 L277.5,-22.3 L275.6,-21.5Z" vector-effect="non-scaling-stroke"/><path d="M285.5,-18.2 L286.5,-19.9 L288,-19.9 L289.5,-19.6 L291,-19 L291.6,-18.5 L290.5,-18.2 L288.5,-18.3 L287,-17.7 L286,-18Z" vector-effect="non-scaling-stroke"/><path d="M281.6,-18.4 L283.7,-18.4 L283.8,-17.9 L282,-18.1Z" vector-effect="non-scaling-stroke"/><path d="M292.8,-18.5 L294.3,-18.4 L294.3,-18 L292.8,-18Z" vector-effect="non-scaling-stroke"/><path d="M298.4,-10.7 L299.1,-10.8 L299,-10.1 L298.3,-10.1Z" vector-effect="non-scaling-stroke"/></g></svg>
<rect x="107.4" y="48.3" width="70.2" height="27.7" fill="none" stroke="#000" stroke-width="2.1" />
<text x="142.3" y="68.1" font-size="16.2" text-anchor="middle" fill="#000" >C</text>
<rect x="51.2" y="109.9" width="70.3" height="28.2" fill="none" stroke="#000" stroke-width="2.1" />
<text x="85.8" y="130.8" font-size="16.2" text-anchor="middle" fill="#000" >B</text>
<rect x="107.3" y="149.6" width="70.5" height="27.8" fill="none" stroke="#000" stroke-width="2.1" />
<text x="142.2" y="168.7" font-size="16.2" text-anchor="middle" fill="#000" >A</text>
<rect x="31.4" y="14.4" width="197.1" height="168.5" fill="none" stroke="#2a2a2a" stroke-width="1.1" />
<line x1="28.4" y1="182.9" x2="31.4" y2="182.9" stroke="#2a2a2a" stroke-width="1.1" />
<line x1="228.5" y1="182.9" x2="231.5" y2="182.9" stroke="#2a2a2a" stroke-width="1.1" />
<line x1="28.4" y1="168.86" x2="31.4" y2="168.86" stroke="#2a2a2a" stroke-width="1.1" />
<line x1="228.5" y1="168.86" x2="231.5" y2="168.86" stroke="#2a2a2a" stroke-width="1.1" />
<line x1="25.4" y1="154.82" x2="31.4" y2="154.82" stroke="#2a2a2a" stroke-width="1.1" />
<line x1="228.5" y1="154.82" x2="234.5" y2="154.82" stroke="#2a2a2a" stroke-width="1.1" />
<line x1="28.4" y1="140.78" x2="31.4" y2="140.78" stroke="#2a2a2a" stroke-width="1.1" />
<line x1="228.5" y1="140.78" x2="231.5" y2="140.78" stroke="#2a2a2a" stroke-width="1.1" />
<line x1="28.4" y1="126.73" x2="31.4" y2="126.73" stroke="#2a2a2a" stroke-width="1.1" />
<line x1="228.5" y1="126.73" x2="231.5" y2="126.73" stroke="#2a2a2a" stroke-width="1.1" />
<line x1="28.4" y1="112.69" x2="31.4" y2="112.69" stroke="#2a2a2a" stroke-width="1.1" />
<line x1="228.5" y1="112.69" x2="231.5" y2="112.69" stroke="#2a2a2a" stroke-width="1.1" />
<line x1="25.4" y1="98.65" x2="31.4" y2="98.65" stroke="#2a2a2a" stroke-width="1.1" />
<line x1="228.5" y1="98.65" x2="234.5" y2="98.65" stroke="#2a2a2a" stroke-width="1.1" />
<line x1="28.4" y1="84.61" x2="31.4" y2="84.61" stroke="#2a2a2a" stroke-width="1.1" />
<line x1="228.5" y1="84.61" x2="231.5" y2="84.61" stroke="#2a2a2a" stroke-width="1.1" />
<line x1="28.4" y1="70.57" x2="31.4" y2="70.57" stroke="#2a2a2a" stroke-width="1.1" />
<line x1="228.5" y1="70.57" x2="231.5" y2="70.57" stroke="#2a2a2a" stroke-width="1.1" />
<line x1="28.4" y1="56.52" x2="31.4" y2="56.52" stroke="#2a2a2a" stroke-width="1.1" />
<line x1="228.5" y1="56.52" x2="231.5" y2="56.52" stroke="#2a2a2a" stroke-width="1.1" />
<line x1="25.4" y1="42.48" x2="31.4" y2="42.48" stroke="#2a2a2a" stroke-width="1.1" />
<line x1="228.5" y1="42.48" x2="234.5" y2="42.48" stroke="#2a2a2a" stroke-width="1.1" />
<line x1="28.4" y1="28.44" x2="31.4" y2="28.44" stroke="#2a2a2a" stroke-width="1.1" />
<line x1="228.5" y1="28.44" x2="231.5" y2="28.44" stroke="#2a2a2a" stroke-width="1.1" />
<line x1="28.4" y1="14.4" x2="31.4" y2="14.4" stroke="#2a2a2a" stroke-width="1.1" />
<line x1="228.5" y1="14.4" x2="231.5" y2="14.4" stroke="#2a2a2a" stroke-width="1.1" />
<line x1="31.4" y1="182.9" x2="31.4" y2="185.9" stroke="#2a2a2a" stroke-width="1.1" />
<line x1="59.56" y1="182.9" x2="59.56" y2="185.9" stroke="#2a2a2a" stroke-width="1.1" />
<line x1="87.71" y1="182.9" x2="87.71" y2="188.9" stroke="#2a2a2a" stroke-width="1.1" />
<line x1="115.87" y1="182.9" x2="115.87" y2="185.9" stroke="#2a2a2a" stroke-width="1.1" />
<line x1="144.03" y1="182.9" x2="144.03" y2="185.9" stroke="#2a2a2a" stroke-width="1.1" />
<line x1="172.19" y1="182.9" x2="172.19" y2="188.9" stroke="#2a2a2a" stroke-width="1.1" />
<line x1="200.34" y1="182.9" x2="200.34" y2="185.9" stroke="#2a2a2a" stroke-width="1.1" />
<line x1="228.5" y1="182.9" x2="228.5" y2="185.9" stroke="#2a2a2a" stroke-width="1.1" />
<text x="18.3" y="46.18" font-size="10.3" text-anchor="end" fill="#000" >60N</text>
<text x="18.3" y="102.35" font-size="10.3" text-anchor="end" fill="#000" >40N</text>
<text x="18.3" y="158.52" font-size="10.3" text-anchor="end" fill="#000" >20N</text>
<text x="87.71" y="204.3" font-size="10.5" text-anchor="middle" fill="#000" >60W</text>
<text x="172.19" y="204.3" font-size="10.5" text-anchor="middle" fill="#000" >30W</text>
<text x="30.4" y="8.8" font-size="11.2" text-anchor="start" fill="#000" >(a) Mar SST EOF1</text>
<text x="228.8" y="8.8" font-size="11.3" text-anchor="end" fill="#000" >28.6%</text>
<rect x="1" y="207.6" width="25.73" height="9.3" fill="#05706c" stroke="none" stroke-width="1" />
<rect x="26.73" y="207.6" width="25.73" height="9.3" fill="#0c8f3b" stroke="none" stroke-width="1" />
<rect x="52.47" y="207.6" width="25.73" height="9.3" fill="#2fbb2f" stroke="none" stroke-width="1" />
<rect x="78.2" y="207.6" width="25.73" height="9.3" fill="#7fd77f" stroke="none" stroke-width="1" />
<rect x="103.93" y="207.6" width="25.73" height="9.3" fill="#ffffff" stroke="none" stroke-width="1" />
<rect x="129.67" y="207.6" width="25.73" height="9.3" fill="#ffff00" stroke="none" stroke-width="1" />
<rect x="155.4" y="207.6" width="25.73" height="9.3" fill="#ffc800" stroke="none" stroke-width="1" />
<rect x="181.13" y="207.6" width="25.73" height="9.3" fill="#ff8000" stroke="none" stroke-width="1" />
<rect x="206.87" y="207.6" width="25.73" height="9.3" fill="#ff2000" stroke="none" stroke-width="1" />
<line x1="26.73" y1="207.6" x2="26.73" y2="216.9" stroke="#000" stroke-width="1" />
<line x1="52.47" y1="207.6" x2="52.47" y2="216.9" stroke="#000" stroke-width="1" />
<line x1="78.2" y1="207.6" x2="78.2" y2="216.9" stroke="#000" stroke-width="1" />
<line x1="103.93" y1="207.6" x2="103.93" y2="216.9" stroke="#000" stroke-width="1" />
<line x1="129.67" y1="207.6" x2="129.67" y2="216.9" stroke="#000" stroke-width="1" />
<line x1="155.4" y1="207.6" x2="155.4" y2="216.9" stroke="#000" stroke-width="1" />
<line x1="181.13" y1="207.6" x2="181.13" y2="216.9" stroke="#000" stroke-width="1" />
<line x1="206.87" y1="207.6" x2="206.87" y2="216.9" stroke="#000" stroke-width="1" />
<rect x="1" y="207.6" width="231.6" height="9.3" fill="none" stroke="#000" stroke-width="1" />
<text x="26.73" y="226.3" font-size="9.8" text-anchor="middle" fill="#000" >-0.28</text>
<text x="52.47" y="226.3" font-size="9.8" text-anchor="middle" fill="#000" >-0.21</text>
<text x="78.2" y="226.3" font-size="9.8" text-anchor="middle" fill="#000" >-0.14</text>
<text x="103.93" y="226.3" font-size="9.8" text-anchor="middle" fill="#000" >-0.07</text>
<text x="129.67" y="226.3" font-size="9.8" text-anchor="middle" fill="#000" >0.07</text>
<text x="155.4" y="226.3" font-size="9.8" text-anchor="middle" fill="#000" >0.14</text>
<text x="181.13" y="226.3" font-size="9.8" text-anchor="middle" fill="#000" >0.21</text>
<text x="206.87" y="226.3" font-size="9.8" text-anchor="middle" fill="#000" >0.28</text>
<rect x="288.4" y="88.72" width="387.3" height="38.85" fill="#cecece" stroke="none" stroke-width="1" />
<polyline fill="none" stroke="#f23a3f" stroke-width="1.7" stroke-linejoin="miter" points="288.4,109.12 297.62,139.96 306.84,103.05 316.06,107.66 325.29,104.51 334.51,95.28 343.73,103.05 352.95,129.28 362.17,141.66 371.39,46.23 380.61,113.98 389.84,115.92 399.06,112.76 408.28,107.66 417.5,96.98 426.72,103.54 435.94,136.8 445.16,90.42 454.39,136.8 463.61,78.28 472.83,94.55 482.05,121.75 491.27,110.34 500.49,84.6 509.71,91.15 518.94,148.22 528.16,132.68 537.38,98.68 546.6,54.97 555.82,89.45 565.04,166.43 574.26,115.19 583.49,90.42 592.71,142.88 601.93,91.64 611.15,86.29 620.37,127.58 629.59,92.12 638.81,94.55 648.04,121.02 657.26,114.71 666.48,115.19 675.7,77.31"/>
<polyline fill="none" stroke="#000" stroke-width="1.9" stroke-linejoin="miter" points="288.4,109.12 297.62,155.26 306.84,87.51 316.06,128.79 325.29,93.34 334.51,94.07 343.73,79.5 352.95,138.99 362.17,144.09 371.39,76.1 380.61,101.59 389.84,87.02 399.06,122.23 408.28,122.23 417.5,90.42 426.72,104.51 435.94,126.36 445.16,93.58 454.39,130.98 463.61,94.79 472.83,111.79 482.05,110.34 491.27,108.15 500.49,72.94 509.71,113.01 518.94,141.18 528.16,118.11 537.38,100.86 546.6,77.31 555.82,90.42 565.04,161.82 574.26,122.23 583.49,76.1 592.71,158.17 601.93,74.15 611.15,85.32 620.37,94.07 629.59,120.29 638.81,116.16 648.04,94.55 657.26,124.42 666.48,117.62 675.7,69.05"/>
<circle cx="288.4" cy="109.12" r="3.4" fill="#000"/>
<circle cx="297.62" cy="155.26" r="3.4" fill="#000"/>
<circle cx="306.84" cy="87.51" r="3.4" fill="#000"/>
<circle cx="316.06" cy="128.79" r="3.4" fill="#000"/>
<circle cx="325.29" cy="93.34" r="3.4" fill="#000"/>
<circle cx="334.51" cy="94.07" r="3.4" fill="#000"/>
<circle cx="343.73" cy="79.5" r="3.4" fill="#000"/>
<circle cx="352.95" cy="138.99" r="3.4" fill="#000"/>
<circle cx="362.17" cy="144.09" r="3.4" fill="#000"/>
<circle cx="371.39" cy="76.1" r="3.4" fill="#000"/>
<circle cx="380.61" cy="101.59" r="3.4" fill="#000"/>
<circle cx="389.84" cy="87.02" r="3.4" fill="#000"/>
<circle cx="399.06" cy="122.23" r="3.4" fill="#000"/>
<circle cx="408.28" cy="122.23" r="3.4" fill="#000"/>
<circle cx="417.5" cy="90.42" r="3.4" fill="#000"/>
<circle cx="426.72" cy="104.51" r="3.4" fill="#000"/>
<circle cx="435.94" cy="126.36" r="3.4" fill="#000"/>
<circle cx="445.16" cy="93.58" r="3.4" fill="#000"/>
<circle cx="454.39" cy="130.98" r="3.4" fill="#000"/>
<circle cx="463.61" cy="94.79" r="3.4" fill="#000"/>
<circle cx="472.83" cy="111.79" r="3.4" fill="#000"/>
<circle cx="482.05" cy="110.34" r="3.4" fill="#000"/>
<circle cx="491.27" cy="108.15" r="3.4" fill="#000"/>
<circle cx="500.49" cy="72.94" r="3.4" fill="#000"/>
<circle cx="509.71" cy="113.01" r="3.4" fill="#000"/>
<circle cx="518.94" cy="141.18" r="3.4" fill="#000"/>
<circle cx="528.16" cy="118.11" r="3.4" fill="#000"/>
<circle cx="537.38" cy="100.86" r="3.4" fill="#000"/>
<circle cx="546.6" cy="77.31" r="3.4" fill="#000"/>
<circle cx="555.82" cy="90.42" r="3.4" fill="#000"/>
<circle cx="565.04" cy="161.82" r="3.4" fill="#000"/>
<circle cx="574.26" cy="122.23" r="3.4" fill="#000"/>
<circle cx="583.49" cy="76.1" r="3.4" fill="#000"/>
<circle cx="592.71" cy="158.17" r="3.4" fill="#000"/>
<circle cx="601.93" cy="74.15" r="3.4" fill="#000"/>
<circle cx="611.15" cy="85.32" r="3.4" fill="#000"/>
<circle cx="620.37" cy="94.07" r="3.4" fill="#000"/>
<circle cx="629.59" cy="120.29" r="3.4" fill="#000"/>
<circle cx="638.81" cy="116.16" r="3.4" fill="#000"/>
<circle cx="648.04" cy="94.55" r="3.4" fill="#000"/>
<circle cx="657.26" cy="124.42" r="3.4" fill="#000"/>
<circle cx="666.48" cy="117.62" r="3.4" fill="#000"/>
<circle cx="675.7" cy="69.05" r="3.4" fill="#000"/>
<rect x="288.4" y="35.3" width="387.3" height="145.7" fill="none" stroke="#2a2a2a" stroke-width="1.1" />
<line x1="279.6" y1="181" x2="288.4" y2="181" stroke="#2a2a2a" stroke-width="1.1" />
<line x1="675.7" y1="181" x2="684.5" y2="181" stroke="#2a2a2a" stroke-width="1.1" />
<line x1="283.8" y1="176.14" x2="288.4" y2="176.14" stroke="#2a2a2a" stroke-width="1.1" />
<line x1="675.7" y1="176.14" x2="680.3" y2="176.14" stroke="#2a2a2a" stroke-width="1.1" />
<line x1="283.8" y1="171.29" x2="288.4" y2="171.29" stroke="#2a2a2a" stroke-width="1.1" />
<line x1="675.7" y1="171.29" x2="680.3" y2="171.29" stroke="#2a2a2a" stroke-width="1.1" />
<line x1="283.8" y1="166.43" x2="288.4" y2="166.43" stroke="#2a2a2a" stroke-width="1.1" />
<line x1="675.7" y1="166.43" x2="680.3" y2="166.43" stroke="#2a2a2a" stroke-width="1.1" />
<line x1="283.8" y1="161.57" x2="288.4" y2="161.57" stroke="#2a2a2a" stroke-width="1.1" />
<line x1="675.7" y1="161.57" x2="680.3" y2="161.57" stroke="#2a2a2a" stroke-width="1.1" />
<line x1="279.6" y1="156.72" x2="288.4" y2="156.72" stroke="#2a2a2a" stroke-width="1.1" />
<line x1="675.7" y1="156.72" x2="684.5" y2="156.72" stroke="#2a2a2a" stroke-width="1.1" />
<line x1="283.8" y1="151.86" x2="288.4" y2="151.86" stroke="#2a2a2a" stroke-width="1.1" />
<line x1="675.7" y1="151.86" x2="680.3" y2="151.86" stroke="#2a2a2a" stroke-width="1.1" />
<line x1="283.8" y1="147" x2="288.4" y2="147" stroke="#2a2a2a" stroke-width="1.1" />
<line x1="675.7" y1="147" x2="680.3" y2="147" stroke="#2a2a2a" stroke-width="1.1" />
<line x1="283.8" y1="142.15" x2="288.4" y2="142.15" stroke="#2a2a2a" stroke-width="1.1" />
<line x1="675.7" y1="142.15" x2="680.3" y2="142.15" stroke="#2a2a2a" stroke-width="1.1" />
<line x1="283.8" y1="137.29" x2="288.4" y2="137.29" stroke="#2a2a2a" stroke-width="1.1" />
<line x1="675.7" y1="137.29" x2="680.3" y2="137.29" stroke="#2a2a2a" stroke-width="1.1" />
<line x1="279.6" y1="132.43" x2="288.4" y2="132.43" stroke="#2a2a2a" stroke-width="1.1" />
<line x1="675.7" y1="132.43" x2="684.5" y2="132.43" stroke="#2a2a2a" stroke-width="1.1" />
<line x1="283.8" y1="127.58" x2="288.4" y2="127.58" stroke="#2a2a2a" stroke-width="1.1" />
<line x1="675.7" y1="127.58" x2="680.3" y2="127.58" stroke="#2a2a2a" stroke-width="1.1" />
<line x1="283.8" y1="122.72" x2="288.4" y2="122.72" stroke="#2a2a2a" stroke-width="1.1" />
<line x1="675.7" y1="122.72" x2="680.3" y2="122.72" stroke="#2a2a2a" stroke-width="1.1" />
<line x1="283.8" y1="117.86" x2="288.4" y2="117.86" stroke="#2a2a2a" stroke-width="1.1" />
<line x1="675.7" y1="117.86" x2="680.3" y2="117.86" stroke="#2a2a2a" stroke-width="1.1" />
<line x1="283.8" y1="113.01" x2="288.4" y2="113.01" stroke="#2a2a2a" stroke-width="1.1" />
<line x1="675.7" y1="113.01" x2="680.3" y2="113.01" stroke="#2a2a2a" stroke-width="1.1" />
<line x1="279.6" y1="108.15" x2="288.4" y2="108.15" stroke="#2a2a2a" stroke-width="1.1" />
<line x1="675.7" y1="108.15" x2="684.5" y2="108.15" stroke="#2a2a2a" stroke-width="1.1" />
<line x1="283.8" y1="103.29" x2="288.4" y2="103.29" stroke="#2a2a2a" stroke-width="1.1" />
<line x1="675.7" y1="103.29" x2="680.3" y2="103.29" stroke="#2a2a2a" stroke-width="1.1" />
<line x1="283.8" y1="98.44" x2="288.4" y2="98.44" stroke="#2a2a2a" stroke-width="1.1" />
<line x1="675.7" y1="98.44" x2="680.3" y2="98.44" stroke="#2a2a2a" stroke-width="1.1" />
<line x1="283.8" y1="93.58" x2="288.4" y2="93.58" stroke="#2a2a2a" stroke-width="1.1" />
<line x1="675.7" y1="93.58" x2="680.3" y2="93.58" stroke="#2a2a2a" stroke-width="1.1" />
<line x1="283.8" y1="88.72" x2="288.4" y2="88.72" stroke="#2a2a2a" stroke-width="1.1" />
<line x1="675.7" y1="88.72" x2="680.3" y2="88.72" stroke="#2a2a2a" stroke-width="1.1" />
<line x1="279.6" y1="83.87" x2="288.4" y2="83.87" stroke="#2a2a2a" stroke-width="1.1" />
<line x1="675.7" y1="83.87" x2="684.5" y2="83.87" stroke="#2a2a2a" stroke-width="1.1" />
<line x1="283.8" y1="79.01" x2="288.4" y2="79.01" stroke="#2a2a2a" stroke-width="1.1" />
<line x1="675.7" y1="79.01" x2="680.3" y2="79.01" stroke="#2a2a2a" stroke-width="1.1" />
<line x1="283.8" y1="74.15" x2="288.4" y2="74.15" stroke="#2a2a2a" stroke-width="1.1" />
<line x1="675.7" y1="74.15" x2="680.3" y2="74.15" stroke="#2a2a2a" stroke-width="1.1" />
<line x1="283.8" y1="69.3" x2="288.4" y2="69.3" stroke="#2a2a2a" stroke-width="1.1" />
<line x1="675.7" y1="69.3" x2="680.3" y2="69.3" stroke="#2a2a2a" stroke-width="1.1" />
<line x1="283.8" y1="64.44" x2="288.4" y2="64.44" stroke="#2a2a2a" stroke-width="1.1" />
<line x1="675.7" y1="64.44" x2="680.3" y2="64.44" stroke="#2a2a2a" stroke-width="1.1" />
<line x1="279.6" y1="59.58" x2="288.4" y2="59.58" stroke="#2a2a2a" stroke-width="1.1" />
<line x1="675.7" y1="59.58" x2="684.5" y2="59.58" stroke="#2a2a2a" stroke-width="1.1" />
<line x1="283.8" y1="54.73" x2="288.4" y2="54.73" stroke="#2a2a2a" stroke-width="1.1" />
<line x1="675.7" y1="54.73" x2="680.3" y2="54.73" stroke="#2a2a2a" stroke-width="1.1" />
<line x1="283.8" y1="49.87" x2="288.4" y2="49.87" stroke="#2a2a2a" stroke-width="1.1" />
<line x1="675.7" y1="49.87" x2="680.3" y2="49.87" stroke="#2a2a2a" stroke-width="1.1" />
<line x1="283.8" y1="45.01" x2="288.4" y2="45.01" stroke="#2a2a2a" stroke-width="1.1" />
<line x1="675.7" y1="45.01" x2="680.3" y2="45.01" stroke="#2a2a2a" stroke-width="1.1" />
<line x1="283.8" y1="40.16" x2="288.4" y2="40.16" stroke="#2a2a2a" stroke-width="1.1" />
<line x1="675.7" y1="40.16" x2="680.3" y2="40.16" stroke="#2a2a2a" stroke-width="1.1" />
<line x1="279.6" y1="35.3" x2="288.4" y2="35.3" stroke="#2a2a2a" stroke-width="1.1" />
<line x1="675.7" y1="35.3" x2="684.5" y2="35.3" stroke="#2a2a2a" stroke-width="1.1" />
<line x1="288.4" y1="181" x2="288.4" y2="189.8" stroke="#2a2a2a" stroke-width="1.1" />
<line x1="288.4" y1="26.5" x2="288.4" y2="35.3" stroke="#2a2a2a" stroke-width="1.1" />
<line x1="306.84" y1="181" x2="306.84" y2="185.2" stroke="#2a2a2a" stroke-width="1.1" />
<line x1="306.84" y1="31.1" x2="306.84" y2="35.3" stroke="#2a2a2a" stroke-width="1.1" />
<line x1="325.29" y1="181" x2="325.29" y2="185.2" stroke="#2a2a2a" stroke-width="1.1" />
<line x1="325.29" y1="31.1" x2="325.29" y2="35.3" stroke="#2a2a2a" stroke-width="1.1" />
<line x1="343.73" y1="181" x2="343.73" y2="185.2" stroke="#2a2a2a" stroke-width="1.1" />
<line x1="343.73" y1="31.1" x2="343.73" y2="35.3" stroke="#2a2a2a" stroke-width="1.1" />
<line x1="362.17" y1="181" x2="362.17" y2="185.2" stroke="#2a2a2a" stroke-width="1.1" />
<line x1="362.17" y1="31.1" x2="362.17" y2="35.3" stroke="#2a2a2a" stroke-width="1.1" />
<line x1="380.61" y1="181" x2="380.61" y2="189.8" stroke="#2a2a2a" stroke-width="1.1" />
<line x1="380.61" y1="26.5" x2="380.61" y2="35.3" stroke="#2a2a2a" stroke-width="1.1" />
<line x1="399.06" y1="181" x2="399.06" y2="185.2" stroke="#2a2a2a" stroke-width="1.1" />
<line x1="399.06" y1="31.1" x2="399.06" y2="35.3" stroke="#2a2a2a" stroke-width="1.1" />
<line x1="417.5" y1="181" x2="417.5" y2="185.2" stroke="#2a2a2a" stroke-width="1.1" />
<line x1="417.5" y1="31.1" x2="417.5" y2="35.3" stroke="#2a2a2a" stroke-width="1.1" />
<line x1="435.94" y1="181" x2="435.94" y2="185.2" stroke="#2a2a2a" stroke-width="1.1" />
<line x1="435.94" y1="31.1" x2="435.94" y2="35.3" stroke="#2a2a2a" stroke-width="1.1" />
<line x1="454.39" y1="181" x2="454.39" y2="185.2" stroke="#2a2a2a" stroke-width="1.1" />
<line x1="454.39" y1="31.1" x2="454.39" y2="35.3" stroke="#2a2a2a" stroke-width="1.1" />
<line x1="472.83" y1="181" x2="472.83" y2="189.8" stroke="#2a2a2a" stroke-width="1.1" />
<line x1="472.83" y1="26.5" x2="472.83" y2="35.3" stroke="#2a2a2a" stroke-width="1.1" />
<line x1="491.27" y1="181" x2="491.27" y2="185.2" stroke="#2a2a2a" stroke-width="1.1" />
<line x1="491.27" y1="31.1" x2="491.27" y2="35.3" stroke="#2a2a2a" stroke-width="1.1" />
<line x1="509.71" y1="181" x2="509.71" y2="185.2" stroke="#2a2a2a" stroke-width="1.1" />
<line x1="509.71" y1="31.1" x2="509.71" y2="35.3" stroke="#2a2a2a" stroke-width="1.1" />
<line x1="528.16" y1="181" x2="528.16" y2="185.2" stroke="#2a2a2a" stroke-width="1.1" />
<line x1="528.16" y1="31.1" x2="528.16" y2="35.3" stroke="#2a2a2a" stroke-width="1.1" />
<line x1="546.6" y1="181" x2="546.6" y2="185.2" stroke="#2a2a2a" stroke-width="1.1" />
<line x1="546.6" y1="31.1" x2="546.6" y2="35.3" stroke="#2a2a2a" stroke-width="1.1" />
<line x1="565.04" y1="181" x2="565.04" y2="189.8" stroke="#2a2a2a" stroke-width="1.1" />
<line x1="565.04" y1="26.5" x2="565.04" y2="35.3" stroke="#2a2a2a" stroke-width="1.1" />
<line x1="583.49" y1="181" x2="583.49" y2="185.2" stroke="#2a2a2a" stroke-width="1.1" />
<line x1="583.49" y1="31.1" x2="583.49" y2="35.3" stroke="#2a2a2a" stroke-width="1.1" />
<line x1="601.93" y1="181" x2="601.93" y2="185.2" stroke="#2a2a2a" stroke-width="1.1" />
<line x1="601.93" y1="31.1" x2="601.93" y2="35.3" stroke="#2a2a2a" stroke-width="1.1" />
<line x1="620.37" y1="181" x2="620.37" y2="185.2" stroke="#2a2a2a" stroke-width="1.1" />
<line x1="620.37" y1="31.1" x2="620.37" y2="35.3" stroke="#2a2a2a" stroke-width="1.1" />
<line x1="638.81" y1="181" x2="638.81" y2="185.2" stroke="#2a2a2a" stroke-width="1.1" />
<line x1="638.81" y1="31.1" x2="638.81" y2="35.3" stroke="#2a2a2a" stroke-width="1.1" />
<line x1="657.26" y1="181" x2="657.26" y2="189.8" stroke="#2a2a2a" stroke-width="1.1" />
<line x1="657.26" y1="26.5" x2="657.26" y2="35.3" stroke="#2a2a2a" stroke-width="1.1" />
<line x1="675.7" y1="181" x2="675.7" y2="185.2" stroke="#2a2a2a" stroke-width="1.1" />
<line x1="675.7" y1="31.1" x2="675.7" y2="35.3" stroke="#2a2a2a" stroke-width="1.1" />
<text x="271.6" y="38.9" font-size="10.2" text-anchor="end" fill="#000" >3.0</text>
<text x="271.6" y="63.18" font-size="10.2" text-anchor="end" fill="#000" >2.0</text>
<text x="271.6" y="87.47" font-size="10.2" text-anchor="end" fill="#000" >1.0</text>
<text x="271.6" y="111.75" font-size="10.2" text-anchor="end" fill="#000" >0.0</text>
<text x="271.6" y="136.03" font-size="10.2" text-anchor="end" fill="#000" >-1.0</text>
<text x="271.6" y="160.32" font-size="10.2" text-anchor="end" fill="#000" >-2.0</text>
<text x="271.6" y="184.6" font-size="10.2" text-anchor="end" fill="#000" >-3.0</text>
<text x="288.4" y="205.1" font-size="10.2" text-anchor="middle" fill="#000" >1980</text>
<text x="380.61" y="205.1" font-size="10.2" text-anchor="middle" fill="#000" >1990</text>
<text x="472.83" y="205.1" font-size="10.2" text-anchor="middle" fill="#000" >2000</text>
<text x="565.04" y="205.1" font-size="10.2" text-anchor="middle" fill="#000" >2010</text>
<text x="657.26" y="205.1" font-size="10.2" text-anchor="middle" fill="#000" >2020</text>
<text x="287.2" y="20.9" font-size="13" text-anchor="start" fill="#000" letter-spacing="0.22">(b) Normalized indices</text>
<text x="676" y="23.6" font-size="13" text-anchor="end" fill="#000" >r=0.80</text>
<line x1="363.8" y1="169" x2="402.1" y2="169" stroke="#f23a3f" stroke-width="1.7" />
<text x="406.6" y="172.6" font-size="10" text-anchor="start" fill="#000" >NA_PC1</text>
<line x1="475.7" y1="169" x2="515.5" y2="169" stroke="#000" stroke-width="1.9" />
<circle cx="495" cy="169" r="3.4" fill="#000"/>
<text x="520" y="172.6" font-size="10" text-anchor="start" fill="#000" >NATSI</text>
<svg x="101.5" y="255.3" width="234.3" height="124.8" viewBox="100 -70 260 90" preserveAspectRatio="none" overflow="hidden"><rect x="95" y="-75" width="270" height="100" fill="#fff"/><path d="M138.38,-55.63 C139.44,-56.7 141.91,-57.08 144.27,-57.47 C146.62,-57.85 150.16,-57.52 152.51,-57.93 C154.87,-58.33 156.24,-59.33 158.4,-59.92 C160.56,-60.5 162.92,-61.09 165.47,-61.45 C168.02,-61.8 171.36,-62.21 173.71,-62.06 C176.07,-61.91 177.25,-60.63 179.6,-60.53 C181.96,-60.43 184.9,-61.7 187.85,-61.45 C190.79,-61.19 194.13,-59.25 197.27,-59 C200.41,-58.74 203.55,-60.35 206.69,-59.92 C209.83,-59.48 211.99,-57.24 216.11,-56.39 C220.24,-55.55 228.87,-67.82 231.42,-54.86 C233.98,-41.9 235.94,8.66 231.42,21.37 C226.91,34.08 210.81,22.08 204.34,21.37 C197.86,20.66 196.88,18.56 192.56,17.08 C188.24,15.6 182.55,14.28 178.42,12.49 C174.3,10.71 170.26,8.54 167.82,6.37 C165.39,4.2 164.21,1.65 163.82,-0.52 C163.43,-2.69 164.61,-4.73 165.47,-6.64 C166.33,-8.56 168.61,-10.22 169,-12 C169.39,-13.79 167.43,-15.7 167.82,-17.36 C168.22,-19.02 169.39,-20.68 171.36,-21.95 C173.32,-23.23 176.07,-24.3 179.6,-25.01 C183.14,-25.73 188.83,-25.52 192.56,-26.24 C196.29,-26.95 199.82,-27.97 201.98,-29.3 C204.14,-30.63 205.51,-32.49 205.51,-34.2 C205.51,-35.91 204.14,-38.15 201.98,-39.56 C199.82,-40.96 196.09,-41.72 192.56,-42.62 C189.02,-43.51 184.71,-44.66 180.78,-44.91 C176.85,-45.17 172.73,-44.79 169,-44.15 C165.27,-43.51 161.35,-42.03 158.4,-41.09 C155.46,-40.14 153.69,-39.17 151.34,-38.48 C148.98,-37.8 146.04,-36.65 144.27,-36.95 C142.5,-37.26 141.64,-38.74 140.74,-40.32 C139.83,-41.9 139.32,-44.66 138.85,-46.44 C138.38,-48.23 137.99,-49.51 137.91,-51.04 C137.83,-52.57 137.32,-54.56 138.38,-55.63Z" fill="#ffff00"/><path d="M131.31,-28.07 C133.28,-29.35 136.02,-31.39 138.38,-32.67 C140.74,-33.94 142.7,-34.84 145.45,-35.73 C148.19,-36.62 151.73,-37.26 154.87,-38.03 C158.01,-38.79 161.15,-39.68 164.29,-40.32 C167.43,-40.96 170.57,-41.6 173.71,-41.85 C176.85,-42.11 179.99,-42.11 183.14,-41.85 C186.28,-41.6 190.2,-40.96 192.56,-40.32 C194.91,-39.68 196.48,-39.05 197.27,-38.03 C198.05,-37 198.05,-35.09 197.27,-34.2 C196.48,-33.31 194.52,-33.05 192.56,-32.67 C190.59,-32.28 188.24,-32.16 185.49,-31.9 C182.74,-31.65 178.82,-31.77 176.07,-31.14 C173.32,-30.5 171.36,-29.1 169,-28.07 C166.65,-27.05 163.51,-26.29 161.94,-25.01 C160.37,-23.74 159.78,-21.7 159.58,-20.42 C159.38,-19.15 159.58,-18.38 160.76,-17.36 C161.94,-16.34 166.06,-15.57 166.65,-14.3 C167.24,-13.02 165.27,-11.24 164.29,-9.71 C163.31,-8.17 161.54,-6.9 160.76,-5.11 C159.97,-3.33 159.58,-0.78 159.58,1.01 C159.58,2.8 160.17,4.07 160.76,5.6 C161.35,7.13 162.13,8.66 163.11,10.2 C164.09,11.73 165.67,12.93 166.65,14.79 C167.63,16.65 180.39,20.27 169,21.37 C157.62,22.47 110.11,24.51 98.34,21.37 C86.56,18.23 97.55,6.7 98.34,2.54 C99.12,-1.62 101.28,-2.05 103.05,-3.58 C104.81,-5.11 107.37,-5.11 108.94,-6.64 C110.51,-8.17 111.09,-10.98 112.47,-12.77 C113.84,-14.55 115.61,-15.83 117.18,-17.36 C118.75,-18.89 120.32,-20.68 121.89,-21.95 C123.46,-23.23 125.03,-23.99 126.6,-25.01 C128.17,-26.03 129.35,-26.8 131.31,-28.07Z" fill="#7fd77f"/><path d="M227.06,-55.63 C228.24,-67.44 232.36,-51.8 234.13,-49.51 C235.89,-47.21 236.48,-44.15 237.66,-41.85 C238.84,-39.56 239.43,-37.9 241.19,-35.73 C242.96,-33.56 245.71,-31.14 248.26,-28.84 C250.81,-26.54 253.76,-23.99 256.5,-21.95 C259.25,-19.91 261.8,-18.07 264.75,-16.59 C267.69,-15.11 271.62,-14.09 274.17,-13.07 C276.72,-12.05 278.29,-12.05 280.06,-10.47 C281.83,-8.89 283.79,-6.26 284.77,-3.58 C285.75,-0.9 285.36,2.54 285.95,5.6 C286.54,8.66 287.52,12.16 288.3,14.79 C289.09,17.42 300.87,20.27 290.66,21.37 C280.45,22.47 237.66,34.2 227.06,21.37 C216.46,8.54 225.88,-43.82 227.06,-55.63Z" fill="#ffff00"/><path d="M282.41,-34.2 C283,-35.73 285.75,-37.13 288.3,-38.03 C290.86,-38.92 294.98,-38.92 297.73,-39.56 C300.47,-40.19 302.04,-41.34 304.79,-41.85 C307.54,-42.36 312.25,-42.87 314.21,-42.62 C316.18,-42.36 316.96,-41.47 316.57,-40.32 C316.18,-39.17 313.82,-36.75 311.86,-35.73 C309.9,-34.71 306.36,-34.96 304.79,-34.2 C303.22,-33.43 303.61,-32.41 302.44,-31.14 C301.26,-29.86 299.69,-27.18 297.73,-26.54 C295.76,-25.91 292.82,-26.93 290.66,-27.31 C288.5,-27.69 286.14,-27.69 284.77,-28.84 C283.4,-29.99 281.83,-32.67 282.41,-34.2Z" fill="#ffff00"/><path d="M318.93,-29.61 C319.91,-30.5 322.85,-31.39 325.99,-31.9 C329.13,-32.41 334.24,-32.41 337.77,-32.67 C341.3,-32.92 344.84,-33.69 347.19,-33.43 C349.55,-33.18 351.9,-32.16 351.9,-31.14 C351.9,-30.12 349.55,-28.2 347.19,-27.31 C344.84,-26.42 341.3,-26.16 337.77,-25.78 C334.24,-25.4 328.94,-24.89 325.99,-25.01 C323.05,-25.14 321.28,-25.78 320.1,-26.54 C318.93,-27.31 317.94,-28.71 318.93,-29.61Z" fill="#ffff00"/><path d="M347.19,-40.32 C347.78,-41.85 352.3,-42.49 354.26,-42.62 C356.22,-42.75 358.38,-42.49 358.97,-41.09 C359.56,-39.68 359.17,-35.47 357.79,-34.2 C356.42,-32.92 352.49,-32.41 350.73,-33.43 C348.96,-34.45 346.6,-38.79 347.19,-40.32Z" fill="#ffff00"/><path d="M330.7,11.73 C331.49,10.32 335.81,8.66 337.77,8.66 C339.73,8.66 342.09,10.45 342.48,11.73 C342.87,13 341.7,15.43 340.13,16.32 C338.56,17.21 334.63,17.85 333.06,17.08 C331.49,16.32 329.92,13.13 330.7,11.73Z" fill="#ffff00"/><path d="M344.84,14.79 C345.82,13.31 349.35,13 351.9,12.49 C354.46,11.98 358.77,10.25 360.15,11.73 C361.52,13.21 362.5,19.76 360.15,21.37 C357.79,22.98 348.57,22.47 346.01,21.37 C343.46,20.27 343.86,16.27 344.84,14.79Z" fill="#ffff00"/><path d="M325.99,17.85 C326.78,17.01 329.53,15.73 330.7,16.32 C331.88,16.91 333.84,20.53 333.06,21.37 C332.27,22.21 327.17,21.96 325.99,21.37 C324.81,20.78 325.21,18.69 325.99,17.85Z" fill="#ffff00"/><path d="M262.39,-29.91 C263.57,-30.68 267.03,-30.42 269.46,-30.37 C271.89,-30.32 275.62,-30.5 277,-29.61 C278.37,-28.71 277.98,-26.54 277.7,-25.01 C277.43,-23.48 276.72,-21.31 275.35,-20.42 C273.97,-19.53 271.23,-19.4 269.46,-19.66 C267.69,-19.91 265.93,-20.93 264.75,-21.95 C263.57,-22.97 262.79,-24.45 262.39,-25.78 C262,-27.11 261.21,-29.15 262.39,-29.91Z" fill="#ffff00"/><path d="M265.93,-62.52 C266.91,-63.41 269.85,-64.05 271.81,-64.05 C273.78,-64.05 275.94,-63.28 277.7,-62.52 C279.47,-61.75 281.83,-60.6 282.41,-59.46 C283,-58.31 282.41,-56.39 281.24,-55.63 C280.06,-54.86 277.31,-54.74 275.35,-54.86 C273.39,-54.99 271.03,-55.76 269.46,-56.39 C267.89,-57.03 266.51,-57.67 265.93,-58.69 C265.34,-59.71 264.94,-61.63 265.93,-62.52Z" fill="#7fd77f"/><path d="M274.17,-19.66 C274.96,-20.73 276.92,-21.49 278.88,-22.26 C280.84,-23.02 283.2,-23.74 285.95,-24.25 C288.7,-24.76 292.23,-25.19 295.37,-25.32 C298.51,-25.45 301.65,-25.52 304.79,-25.01 C307.93,-24.5 311.47,-23.28 314.21,-22.26 C316.96,-21.24 318.93,-20.17 321.28,-18.89 C323.64,-17.61 325.6,-16.01 328.35,-14.6 C331.1,-13.2 334.24,-11.41 337.77,-10.47 C341.3,-9.53 345.82,-9.27 349.55,-8.94 C353.28,-8.61 358.38,-11.16 360.15,-8.48 C361.91,-5.8 361.91,4.53 360.15,7.13 C358.38,9.74 352.89,7.39 349.55,7.13 C346.21,6.88 343.27,6.32 340.13,5.6 C336.99,4.89 333.26,3.74 330.7,2.85 C328.15,1.95 326.39,1.32 324.81,0.25 C323.24,-0.83 322.26,-2.43 321.28,-3.58 C320.3,-4.73 320.5,-5.62 318.93,-6.64 C317.36,-7.66 315.39,-9.07 311.86,-9.71 C308.33,-10.34 302.44,-10.47 297.73,-10.47 C293.01,-10.47 287.13,-9.45 283.59,-9.71 C280.06,-9.96 278.1,-10.98 276.53,-12 C274.96,-13.02 274.56,-14.55 274.17,-15.83 C273.78,-17.1 273.39,-18.58 274.17,-19.66Z" fill="#7fd77f"/><path d="M293.58,-69.3 C295.05,-69.91 299.16,-69.68 301.16,-69.71 C303.16,-69.73 304.74,-70.08 305.58,-69.46 C306.42,-68.84 305.58,-67.27 306.21,-66.01 C306.84,-64.75 308.11,-62.93 309.37,-61.9 C310.63,-60.88 312.42,-60.19 313.79,-59.85 C315.16,-59.51 316.53,-59.37 317.58,-59.85 C318.64,-60.33 319.27,-61.9 320.11,-62.73 C320.95,-63.55 321.59,-64.3 322.64,-64.78 C323.69,-65.26 325.17,-65.33 326.43,-65.6 C327.69,-65.87 328.75,-66.49 330.22,-66.42 C331.69,-66.35 333.8,-65.81 335.27,-65.19 C336.75,-64.57 338.01,-63.68 339.06,-62.73 C340.12,-61.77 340.96,-60.4 341.59,-59.44 C342.22,-58.48 343.07,-57.8 342.86,-56.98 C342.65,-56.16 340.33,-55.47 340.33,-54.51 C340.33,-53.56 341.8,-52.32 342.86,-51.23 C343.91,-50.13 345.59,-49.04 346.65,-47.94 C347.7,-46.85 348.86,-45.76 349.17,-44.66 C349.49,-43.57 348.96,-42.74 348.54,-41.38 C348.12,-40.01 349.91,-37.27 346.65,-36.45 C343.38,-35.63 332.33,-35.63 328.96,-36.45 C325.59,-37.27 327.27,-40.01 326.43,-41.38 C325.59,-42.74 324.95,-43.7 323.9,-44.66 C322.85,-45.62 321.59,-46.85 320.11,-47.12 C318.64,-47.4 316.32,-46.17 315.06,-46.3 C313.79,-46.44 313.16,-47.12 312.53,-47.94 C311.9,-48.77 312.11,-50.41 311.27,-51.23 C310.42,-52.05 308.74,-52.32 307.48,-52.87 C306.21,-53.42 304.95,-53.83 303.68,-54.51 C302.42,-55.2 301.16,-56.02 299.89,-56.98 C298.63,-57.94 297.16,-59.3 296.1,-60.26 C295.05,-61.22 294.21,-61.77 293.58,-62.73 C292.94,-63.68 292.31,-64.92 292.31,-66.01 C292.31,-67.11 292.1,-68.68 293.58,-69.3Z" fill="#7fd77f"/><path d="M335.27,-68.47 C335.8,-68.88 337.59,-69.23 339.06,-69.3 C340.54,-69.36 342.86,-69.3 344.12,-68.88 C345.38,-68.47 346.65,-67.45 346.65,-66.83 C346.65,-66.22 345.38,-65.26 344.12,-65.19 C342.86,-65.12 340.43,-66.15 339.06,-66.42 C337.7,-66.69 336.54,-66.49 335.91,-66.83 C335.27,-67.17 334.75,-68.06 335.27,-68.47Z" fill="#ffff00"/><path d="M351.7,-62.73 C352.54,-63.96 355.07,-63.48 356.76,-63.55 C358.44,-63.62 360.97,-66.42 361.81,-63.14 C362.65,-59.85 362.86,-46.92 361.81,-43.84 C360.76,-40.76 356.97,-43.57 355.49,-44.66 C354.02,-45.76 353.6,-48.49 352.96,-50.41 C352.33,-52.32 351.91,-54.1 351.7,-56.16 C351.49,-58.21 350.86,-61.49 351.7,-62.73Z" fill="#ffff00"/><path d="M303.68,-41.38 C304.21,-42.4 306,-42.47 307.48,-42.61 C308.95,-42.74 311.48,-42.68 312.53,-42.2 C313.58,-41.72 313.79,-40.69 313.79,-39.73 C313.79,-38.78 314.11,-37 312.53,-36.45 C310.95,-35.9 305.79,-35.63 304.32,-36.45 C302.84,-37.27 303.16,-40.35 303.68,-41.38Z" fill="#ffff00"/><path d="M284.73,-37.76 C285.57,-38.99 287.89,-42.42 289.79,-43.84 C291.68,-45.26 294.31,-46.03 296.1,-46.3 C297.89,-46.58 299.79,-46.3 300.53,-45.48 C301.26,-44.66 301.26,-42.61 300.53,-41.38 C299.79,-40.14 297.26,-38.91 296.1,-38.09 C294.94,-37.27 295.47,-36.72 293.58,-36.45 C291.68,-36.17 286.2,-36.23 284.73,-36.45 C283.26,-36.67 283.89,-36.53 284.73,-37.76Z" fill="#ffff00"/><path d="M275.89,-62.73 C276.52,-64.03 278.62,-63.55 279.68,-63.14 C280.73,-62.73 281.89,-61.56 282.2,-60.26 C282.52,-58.96 282.2,-56.29 281.57,-55.34 C280.94,-54.38 279.36,-54.51 278.41,-54.51 C277.47,-54.51 276.31,-53.97 275.89,-55.34 C275.46,-56.7 275.25,-61.43 275.89,-62.73Z" fill="#7fd77f"/><path d="M227.06,-49.51 C227.65,-52.06 229.73,-49.25 230.59,-47.98 C231.46,-46.7 232.24,-44.15 232.24,-41.85 C232.24,-39.56 231.46,-35.73 230.59,-34.2 C229.73,-32.67 227.65,-30.12 227.06,-32.67 C226.47,-35.22 226.47,-46.95 227.06,-49.51Z" fill="#ffffff"/><path d="M305.58,-62.73 C306,-63.14 307.58,-62.38 308.74,-61.9 C309.9,-61.43 312.32,-60.4 312.53,-59.85 C312.74,-59.3 311.06,-58.69 310,-58.62 C308.95,-58.55 306.95,-58.76 306.21,-59.44 C305.47,-60.13 305.16,-62.32 305.58,-62.73Z" fill="#ffffff"/><path d="M162.16,-58.3 C164.11,-59.22 170.8,-60.62 175.12,-61.25 C179.44,-61.88 184.19,-62.45 188.08,-62.09 C191.97,-61.74 196.18,-60.2 198.45,-59.15 C200.72,-58.09 201.91,-56.83 201.69,-55.78 C201.47,-54.72 199.42,-53.42 197.15,-52.83 C194.89,-52.24 190.67,-52.38 188.08,-52.24 C185.49,-52.1 183.76,-51.82 181.6,-51.99 C179.44,-52.16 177.28,-52.9 175.12,-53.25 C172.96,-53.6 170.59,-53.67 168.64,-54.09 C166.7,-54.51 164.54,-55.08 163.46,-55.78 C162.38,-56.48 160.22,-57.39 162.16,-58.3Z" fill="#ffffff"/><path d="M219.19,-45.67 C220.05,-46.93 223.61,-46.51 225.67,-46.51 C227.72,-46.51 230.53,-47.21 231.5,-45.67 C232.47,-44.13 232.47,-38.79 231.5,-37.25 C230.53,-35.7 227.5,-36.13 225.67,-36.41 C223.83,-36.69 221.56,-37.39 220.48,-38.93 C219.4,-40.48 218.32,-44.41 219.19,-45.67Z" fill="#ffffff"/><path d="M166.05,-58.3 C166.76,-58.75 169.51,-59.43 170.59,-59.15 C171.67,-58.87 172.85,-57.25 172.53,-56.62 C172.21,-55.99 169.68,-55.38 168.64,-55.36 C167.61,-55.33 166.74,-55.96 166.31,-56.45 C165.88,-56.94 165.34,-57.85 166.05,-58.3Z" fill="#ffff00"/><path d="M176.42,-61.67 C176.85,-62.23 180.52,-62.8 181.6,-62.52 C182.68,-62.23 183.33,-60.55 182.9,-59.99 C182.47,-59.43 180.09,-58.87 179.01,-59.15 C177.93,-59.43 175.99,-61.11 176.42,-61.67Z" fill="#ffff00"/><path d="M144.27,-53.33 C145.25,-54.48 147.41,-54.99 148.98,-54.86 C150.55,-54.74 152.71,-53.97 153.69,-52.57 C154.67,-51.16 154.28,-48.23 154.87,-46.44 C155.46,-44.66 157.42,-43.26 157.22,-41.85 C157.03,-40.45 155.26,-38.66 153.69,-38.03 C152.12,-37.39 149.37,-37.26 147.8,-38.03 C146.23,-38.79 145.05,-40.96 144.27,-42.62 C143.48,-44.28 143.09,-46.19 143.09,-47.98 C143.09,-49.76 143.29,-52.19 144.27,-53.33Z" fill="#ffc800"/><path d="M201.98,-51.04 C203.16,-52.57 206.3,-53.08 209.05,-53.33 C211.79,-53.59 215.92,-53.33 218.47,-52.57 C221.02,-51.8 223.18,-50.4 224.36,-48.74 C225.54,-47.08 225.93,-44.4 225.54,-42.62 C225.14,-40.83 223.97,-39.05 222,-38.03 C220.04,-37 216.51,-36.37 213.76,-36.49 C211.01,-36.62 207.48,-37.51 205.51,-38.79 C203.55,-40.07 202.57,-42.11 201.98,-44.15 C201.39,-46.19 200.8,-49.51 201.98,-51.04Z" fill="#ffc800"/><path d="M217.29,-34.2 C218.67,-35.6 223.18,-34.96 225.54,-34.96 C227.89,-34.96 230.44,-36.62 231.42,-34.2 C232.41,-31.77 232.8,-22.46 231.42,-20.42 C230.05,-18.38 225.54,-20.93 223.18,-21.95 C220.82,-22.97 218.27,-24.5 217.29,-26.54 C216.31,-28.59 215.92,-32.79 217.29,-34.2Z" fill="#ffc800"/><path d="M169,-6.64 C169.79,-8.43 171.75,-10.85 173.71,-12.77 C175.68,-14.68 178.42,-16.85 180.78,-18.12 C183.14,-19.4 185.49,-20.55 187.85,-20.42 C190.2,-20.29 192.56,-18.38 194.91,-17.36 C197.27,-16.34 199.23,-14.55 201.98,-14.3 C204.73,-14.04 208.26,-15.32 211.4,-15.83 C214.54,-16.34 217.49,-16.85 220.82,-17.36 C224.16,-17.87 229.66,-25.01 231.42,-18.89 C233.19,-12.77 233.19,13.38 231.42,19.38 C229.66,25.38 224.16,17.85 220.82,17.08 C217.49,16.32 214.54,15.55 211.4,14.79 C208.26,14.02 205.12,13.26 201.98,12.49 C198.84,11.73 195.7,11.09 192.56,10.2 C189.42,9.3 186.28,8.41 183.14,7.13 C179.99,5.86 176.07,4.07 173.71,2.54 C171.36,1.01 169.79,-0.52 169,-2.05 C168.22,-3.58 168.22,-4.86 169,-6.64Z" fill="#ffc800"/><path d="M120.71,-21.95 C121.89,-23.74 124.05,-24.38 126.6,-25.01 C129.15,-25.65 133.28,-25.27 136.02,-25.78 C138.77,-26.29 140.34,-27.18 143.09,-28.07 C145.84,-28.97 149.77,-29.99 152.51,-31.14 C155.26,-32.28 156.83,-33.69 159.58,-34.96 C162.33,-36.24 165.47,-37.9 169,-38.79 C172.54,-39.68 177.25,-40.19 180.78,-40.32 C184.31,-40.45 187.85,-40.19 190.2,-39.56 C192.56,-38.92 194.72,-37.51 194.91,-36.49 C195.11,-35.47 193.74,-34.07 191.38,-33.43 C189.02,-32.79 184.12,-33.1 180.78,-32.67 C177.44,-32.23 174.11,-31.85 171.36,-30.83 C168.61,-29.81 165.86,-28.02 164.29,-26.54 C162.72,-25.06 162.92,-23.48 161.94,-21.95 C160.95,-20.42 158.79,-18.89 158.4,-17.36 C158.01,-15.83 159.58,-14.55 159.58,-12.77 C159.58,-10.98 159.19,-8.43 158.4,-6.64 C157.62,-4.86 155.65,-3.84 154.87,-2.05 C154.08,-0.27 153.49,2.03 153.69,4.07 C153.89,6.11 155.46,8.15 156.05,10.2 C156.64,12.24 157.42,14.46 157.22,16.32 C157.03,18.18 164.68,20.53 154.87,21.37 C145.05,22.21 107.76,24 98.34,21.37 C88.91,18.74 97.55,9 98.34,5.6 C99.12,2.21 101.48,2.29 103.05,1.01 C104.62,-0.27 105.79,-1.29 107.76,-2.05 C109.72,-2.82 113.06,-2.56 114.82,-3.58 C116.59,-4.6 117.57,-6.39 118.36,-8.17 C119.14,-9.96 119.14,-12 119.54,-14.3 C119.93,-16.59 119.54,-20.17 120.71,-21.95Z" fill="#2fbb2f"/><path d="M227.06,-32.67 C227.84,-39.56 230.2,-34.71 231.77,-35.73 C233.34,-36.75 235.11,-39.05 236.48,-38.79 C237.86,-38.54 238.64,-35.73 240.01,-34.2 C241.39,-32.67 243.16,-31.14 244.73,-29.61 C246.3,-28.07 247.67,-26.54 249.44,-25.01 C251.2,-23.48 253.17,-21.82 255.33,-20.42 C257.49,-19.02 259.84,-17.74 262.39,-16.59 C264.94,-15.45 268.09,-14.43 270.64,-13.53 C273.19,-12.64 275.94,-12.13 277.7,-11.24 C279.47,-10.34 280.45,-9.96 281.24,-8.17 C282.02,-6.39 282.41,-2.82 282.41,-0.52 C282.41,1.78 282.61,4.33 281.24,5.6 C279.86,6.88 276.92,7.01 274.17,7.13 C271.42,7.26 267.5,6.37 264.75,6.37 C262,6.37 260.04,6.75 257.68,7.13 C255.33,7.52 253.36,8.41 250.61,8.66 C247.87,8.92 243.94,8.92 241.19,8.66 C238.44,8.41 236.48,7.64 234.13,7.13 C231.77,6.62 228.24,12.24 227.06,5.6 C225.88,-1.03 226.27,-25.78 227.06,-32.67Z" fill="#ffc800"/><path d="M227.06,11.73 C229.02,10.25 234.91,12.24 238.84,12.49 C242.76,12.75 246.69,13.26 250.61,13.26 C254.54,13.26 258.47,12.49 262.39,12.49 C266.32,12.49 270.64,12.62 274.17,13.26 C277.7,13.89 281.63,14.97 283.59,16.32 C285.56,17.67 295.37,20.53 285.95,21.37 C276.53,22.21 236.87,22.98 227.06,21.37 C217.24,19.76 225.1,13.21 227.06,11.73Z" fill="#ffc800"/><path d="M300.08,-32.67 C300.95,-33.36 303.61,-33.82 304.79,-33.43 C305.97,-33.05 307.34,-31.32 307.15,-30.37 C306.95,-29.43 304.87,-27.95 303.61,-27.77 C302.36,-27.59 300.2,-28.48 299.61,-29.3 C299.02,-30.12 299.22,-31.98 300.08,-32.67Z" fill="#ffc800"/><path d="M304.79,-41.09 C305.46,-41.65 308.13,-42.29 309.5,-42.16 C310.88,-42.03 313.04,-41.01 313.04,-40.32 C313.04,-39.63 310.76,-38.28 309.5,-38.03 C308.25,-37.77 306.28,-38.28 305.5,-38.79 C304.71,-39.3 304.13,-40.53 304.79,-41.09Z" fill="#ffc800"/><path d="M325.99,-29.91 C327.17,-30.55 332.27,-30.88 335.41,-31.14 C338.56,-31.39 343.07,-31.75 344.84,-31.44 C346.6,-31.14 347.19,-29.94 346.01,-29.3 C344.84,-28.66 340.71,-27.95 337.77,-27.62 C334.83,-27.28 330.31,-26.93 328.35,-27.31 C326.39,-27.69 324.81,-29.27 325.99,-29.91Z" fill="#ffc800"/><path d="M267.57,-61.75 C268.09,-62.59 271.42,-63.13 272.99,-62.98 C274.56,-62.82 276.6,-61.75 277,-60.83 C277.39,-59.92 276.53,-57.95 275.35,-57.47 C274.17,-56.98 271.23,-57.21 269.93,-57.93 C268.63,-58.64 267.06,-60.91 267.57,-61.75Z" fill="#2fbb2f"/><path d="M276.53,-18.89 C277.51,-20.17 280.84,-20.62 283.59,-21.19 C286.34,-21.75 289.87,-22.13 293.01,-22.26 C296.16,-22.39 299.69,-22.39 302.44,-21.95 C305.19,-21.52 307.54,-20.55 309.5,-19.66 C311.47,-18.76 312.25,-17.61 314.21,-16.59 C316.18,-15.57 318.53,-14.68 321.28,-13.53 C324.03,-12.38 327.56,-10.85 330.7,-9.71 C333.84,-8.56 336.99,-7.28 340.13,-6.64 C343.27,-6.01 346.21,-6.01 349.55,-5.88 C352.89,-5.75 358.38,-7.54 360.15,-5.88 C361.91,-4.22 361.91,2.29 360.15,4.07 C358.38,5.86 352.89,4.97 349.55,4.84 C346.21,4.71 343.27,3.94 340.13,3.31 C336.99,2.67 333.45,1.9 330.7,1.01 C327.96,0.12 325.4,-0.9 323.64,-2.05 C321.87,-3.2 321.67,-4.73 320.1,-5.88 C318.53,-7.03 316.77,-8.17 314.21,-8.94 C311.66,-9.71 308.33,-10.22 304.79,-10.47 C301.26,-10.73 296.55,-10.47 293.01,-10.47 C289.48,-10.47 286.14,-9.96 283.59,-10.47 C281.04,-10.98 278.88,-12.13 277.7,-13.53 C276.53,-14.94 275.54,-17.61 276.53,-18.89Z" fill="#2fbb2f"/><path d="M301.16,-58.62 C301.79,-59.03 304.32,-58.76 306.21,-58.62 C308.11,-58.48 310.84,-57.66 312.53,-57.8 C314.21,-57.94 314.85,-58.89 316.32,-59.44 C317.79,-59.99 319.69,-60.74 321.37,-61.08 C323.06,-61.43 324.74,-61.49 326.43,-61.49 C328.11,-61.49 329.8,-61.43 331.48,-61.08 C333.17,-60.74 335.91,-60.4 336.54,-59.44 C337.17,-58.48 335.27,-56.57 335.27,-55.34 C335.27,-54.1 335.7,-53.01 336.54,-52.05 C337.38,-51.09 339.06,-50.41 340.33,-49.59 C341.59,-48.77 343.28,-48.08 344.12,-47.12 C344.96,-46.17 345.38,-44.93 345.38,-43.84 C345.38,-42.74 344.75,-41.79 344.12,-40.55 C343.49,-39.32 343.7,-37.13 341.59,-36.45 C339.49,-35.76 333.59,-35.9 331.48,-36.45 C329.38,-37 329.8,-38.64 328.96,-39.73 C328.11,-40.83 327.48,-41.92 326.43,-43.02 C325.38,-44.11 323.9,-45.34 322.64,-46.3 C321.37,-47.26 320.11,-48.22 318.85,-48.77 C317.58,-49.31 316.11,-49.18 315.06,-49.59 C314,-50 313.58,-50.68 312.53,-51.23 C311.48,-51.78 310,-52.32 308.74,-52.87 C307.48,-53.42 306,-53.97 304.95,-54.51 C303.9,-55.06 303.05,-55.47 302.42,-56.16 C301.79,-56.84 300.53,-58.21 301.16,-58.62Z" fill="#2fbb2f"/><path d="M305.58,-40.14 C306,-40.96 307.69,-41.31 308.74,-41.38 C309.79,-41.44 311.48,-41.38 311.9,-40.55 C312.32,-39.73 312.21,-37.13 311.27,-36.45 C310.32,-35.76 307.16,-35.83 306.21,-36.45 C305.26,-37.06 305.16,-39.32 305.58,-40.14Z" fill="#ffc800"/><path d="M275.89,-61.08 C276.41,-61.77 278.41,-61.7 279.04,-61.08 C279.68,-60.47 280.2,-58.07 279.68,-57.39 C279.15,-56.7 276.52,-56.36 275.89,-56.98 C275.25,-57.59 275.36,-60.4 275.89,-61.08Z" fill="#2fbb2f"/><path d="M203.61,-23.56 C204.16,-25.17 207.75,-25.71 210.23,-25.71 C212.72,-25.71 216.3,-24.63 218.51,-23.56 C220.72,-22.48 223.21,-20.87 223.48,-19.25 C223.76,-17.64 221.83,-14.95 220.17,-13.87 C218.51,-12.79 215.75,-12.43 213.54,-12.79 C211.34,-13.15 208.58,-14.23 206.92,-16.02 C205.26,-17.82 203.05,-21.94 203.61,-23.56Z" fill="#ffffff"/><path d="M107.39,-18.15 C108.7,-19.62 111.54,-20.77 113.43,-21.09 C115.31,-21.42 117.7,-21.09 118.71,-20.11 C119.71,-19.13 119.59,-17.17 119.46,-15.21 C119.34,-13.25 118.58,-10.47 117.95,-8.34 C117.32,-6.22 116.7,-3.77 115.69,-2.46 C114.68,-1.15 113.3,-0.66 111.92,-0.5 C110.53,-0.34 108.52,-0.66 107.39,-1.48 C106.26,-2.3 105.43,-3.6 105.13,-5.4 C104.82,-7.2 105.2,-10.14 105.58,-12.27 C105.96,-14.39 106.08,-16.68 107.39,-18.15Z" fill="#ffffff"/><path d="M102.11,-9.32 C102.81,-9.9 105,-10.31 105.88,-9.82 C106.76,-9.32 107.64,-7.2 107.39,-6.38 C107.14,-5.57 105.33,-4.91 104.37,-4.91 C103.42,-4.91 102.03,-5.65 101.66,-6.38 C101.28,-7.12 101.4,-8.75 102.11,-9.32Z" fill="#7fd77f"/><path d="M206.69,-49.51 C207.95,-50.65 211.6,-51.29 213.76,-51.04 C215.92,-50.78 218.47,-49.51 219.65,-47.98 C220.82,-46.44 221.41,-43.38 220.82,-41.85 C220.24,-40.32 218.08,-39.17 216.11,-38.79 C214.15,-38.41 210.7,-38.66 209.05,-39.56 C207.4,-40.45 206.61,-42.49 206.22,-44.15 C205.83,-45.81 205.43,-48.36 206.69,-49.51Z" fill="#ff8000"/><path d="M179.6,-6.64 C181.17,-7.79 184.9,-8.94 187.85,-9.71 C190.79,-10.47 193.74,-10.85 197.27,-11.24 C200.8,-11.62 205.12,-11.75 209.05,-12 C212.97,-12.26 217.09,-12.51 220.82,-12.77 C224.55,-13.02 229.66,-17.1 231.42,-13.53 C233.19,-9.96 233.19,4.71 231.42,8.66 C229.66,12.62 223.77,9.56 220.82,10.2 C217.88,10.83 216.11,12.24 213.76,12.49 C211.4,12.75 209.44,12.49 206.69,11.73 C203.94,10.96 200.41,9.05 197.27,7.9 C194.13,6.75 190.59,5.99 187.85,4.84 C185.1,3.69 182.35,2.29 180.78,1.01 C179.21,-0.27 178.62,-1.54 178.42,-2.82 C178.23,-4.09 178.03,-5.5 179.6,-6.64Z" fill="#ff8000"/><path d="M179.6,-15.83 C179.99,-16.98 183.53,-18.12 185.49,-18.12 C187.45,-18.12 190.59,-16.85 191.38,-15.83 C192.17,-14.81 191.58,-12.77 190.2,-12 C188.83,-11.24 184.9,-10.6 183.14,-11.24 C181.37,-11.87 179.21,-14.68 179.6,-15.83Z" fill="#ff8000"/><path d="M145.45,-51.04 C146.31,-51.93 148.9,-52.31 150.16,-51.8 C151.41,-51.29 152.59,-49.38 152.98,-47.98 C153.38,-46.57 153.38,-44.28 152.51,-43.38 C151.65,-42.49 149.06,-42.11 147.8,-42.62 C146.55,-43.13 145.37,-45.04 144.98,-46.44 C144.58,-47.85 144.58,-50.14 145.45,-51.04Z" fill="#ff8000"/><path d="M121.89,-20.42 C123.07,-22.08 126.21,-22.21 128.96,-22.72 C131.71,-23.23 135.24,-23.23 138.38,-23.48 C141.52,-23.74 145.25,-24.5 147.8,-24.25 C150.35,-23.99 152.12,-23.1 153.69,-21.95 C155.26,-20.8 156.83,-19.15 157.22,-17.36 C157.62,-15.57 156.05,-13.02 156.05,-11.24 C156.05,-9.45 157.81,-8.17 157.22,-6.64 C156.64,-5.11 154.48,-3.07 152.51,-2.05 C150.55,-1.03 147.8,-0.52 145.45,-0.52 C143.09,-0.52 140.74,-1.54 138.38,-2.05 C136.02,-2.56 133.67,-2.82 131.31,-3.58 C128.96,-4.35 125.82,-5.11 124.25,-6.64 C122.68,-8.17 122.28,-10.47 121.89,-12.77 C121.5,-15.06 120.71,-18.76 121.89,-20.42Z" fill="#0c8f3b"/><path d="M180.78,-38.03 C181.17,-38.92 183.92,-39.56 185.49,-39.56 C187.06,-39.56 189.61,-38.92 190.2,-38.03 C190.79,-37.13 190.2,-34.84 189.02,-34.2 C187.85,-33.56 184.51,-33.56 183.14,-34.2 C181.76,-34.84 180.39,-37.13 180.78,-38.03Z" fill="#0c8f3b"/><path d="M126.6,6.37 C128.57,4.84 133.28,5.22 136.02,5.6 C138.77,5.99 140.74,7.64 143.09,8.66 C145.45,9.69 148.19,10.45 150.16,11.73 C152.12,13 153.89,14.71 154.87,16.32 C155.85,17.93 160.76,20.53 156.05,21.37 C151.34,22.21 131.9,22.47 126.6,21.37 C121.3,20.27 124.25,17.29 124.25,14.79 C124.25,12.29 124.64,7.9 126.6,6.37Z" fill="#0c8f3b"/><path d="M227.06,-21.95 C228.24,-26.54 231.77,-25.01 234.13,-25.01 C236.48,-25.01 238.84,-22.97 241.19,-21.95 C243.55,-20.93 246.3,-19.91 248.26,-18.89 C250.22,-17.87 251.4,-17.36 252.97,-15.83 C254.54,-14.3 256.11,-11.24 257.68,-9.71 C259.25,-8.17 260.82,-7.66 262.39,-6.64 C263.96,-5.62 266.51,-5.11 267.1,-3.58 C267.69,-2.05 267.89,1.27 265.93,2.54 C263.96,3.82 258.66,3.82 255.33,4.07 C251.99,4.33 249.04,4.33 245.9,4.07 C242.76,3.82 239.62,2.8 236.48,2.54 C233.34,2.29 228.63,6.62 227.06,2.54 C225.49,-1.54 225.88,-17.36 227.06,-21.95Z" fill="#ff8000"/><path d="M250.61,14.79 C252.19,13.44 256.9,13.38 260.04,13.26 C263.18,13.13 266.32,13.64 269.46,14.02 C272.6,14.41 276.53,14.66 278.88,15.55 C281.24,16.45 282.81,18.41 283.59,19.38 C284.38,20.35 289.09,21.04 283.59,21.37 C278.1,21.7 256.11,22.47 250.61,21.37 C245.12,20.27 249.04,16.14 250.61,14.79Z" fill="#ff8000"/><path d="M231.77,-39.56 C232.24,-40.83 235.3,-40.96 236.48,-40.32 C237.66,-39.68 238.64,-37.26 238.84,-35.73 C239.03,-34.2 238.52,-31.65 237.66,-31.14 C236.8,-30.63 234.64,-31.26 233.65,-32.67 C232.67,-34.07 231.3,-38.28 231.77,-39.56Z" fill="#ff8000"/><path d="M280.06,-18.12 C281.04,-18.89 283.79,-19.53 285.95,-19.66 C288.11,-19.78 291.05,-19.4 293.01,-18.89 C294.98,-18.38 297.33,-17.61 297.73,-16.59 C298.12,-15.57 296.94,-13.66 295.37,-12.77 C293.8,-11.87 290.46,-11.36 288.3,-11.24 C286.14,-11.11 283.79,-11.36 282.41,-12 C281.04,-12.64 280.45,-14.04 280.06,-15.06 C279.67,-16.08 279.08,-17.36 280.06,-18.12Z" fill="#0c8f3b"/><path d="M309.5,-3.58 C310.29,-4.35 313.82,-5.24 316.57,-5.11 C319.32,-4.99 322.85,-3.33 325.99,-2.82 C329.13,-2.31 332.27,-2.31 335.41,-2.05 C338.56,-1.8 342.09,-1.54 344.84,-1.29 C347.59,-1.03 351.12,-1.03 351.9,-0.52 C352.69,-0.01 351.51,1.39 349.55,1.78 C347.59,2.16 343.27,1.9 340.13,1.78 C336.99,1.65 333.84,1.27 330.7,1.01 C327.56,0.76 324.42,0.5 321.28,0.25 C318.14,-0.01 313.82,0.12 311.86,-0.52 C309.9,-1.16 308.72,-2.82 309.5,-3.58Z" fill="#0c8f3b"/><path d="M321.37,-58.21 C321.75,-58.72 323.12,-58.99 323.65,-58.78 C324.18,-58.58 324.66,-57.58 324.53,-56.98 C324.41,-56.38 323.42,-55.38 322.89,-55.17 C322.36,-54.97 321.63,-55.24 321.37,-55.75 C321.12,-56.25 321,-57.7 321.37,-58.21Z" fill="#0c8f3b"/><path d="M315.69,-54.1 C316,-54.49 317.16,-54.79 317.58,-54.51 C318.01,-54.24 318.38,-53.04 318.22,-52.46 C318.05,-51.89 316.99,-51.11 316.57,-51.07 C316.15,-51.02 315.84,-51.71 315.69,-52.21 C315.54,-52.72 315.37,-53.72 315.69,-54.1Z" fill="#0c8f3b"/><path d="M355.74,-55.34 C356.06,-56.29 358.06,-56.57 358.65,-55.75 C359.24,-54.92 359.6,-51.37 359.28,-50.41 C358.97,-49.45 357.34,-49.18 356.76,-50 C356.17,-50.82 355.43,-54.38 355.74,-55.34Z" fill="#ff8000"/><path d="M287.26,-39.73 C287.89,-40.61 289.57,-42.13 291.05,-43.02 C292.52,-43.91 294.73,-44.8 296.1,-45.07 C297.47,-45.34 298.84,-45.14 299.26,-44.66 C299.68,-44.18 299.37,-43.02 298.63,-42.2 C297.89,-41.38 296.1,-40.47 294.84,-39.73 C293.58,-38.99 292.31,-38.09 291.05,-37.76 C289.79,-37.43 287.89,-37.43 287.26,-37.76 C286.63,-38.09 286.63,-38.86 287.26,-39.73Z" fill="#ff8000"/><path d="M181.96,-15.06 C182.19,-15.62 184.23,-16.08 185.02,-15.83 C185.81,-15.57 186.9,-14.09 186.67,-13.53 C186.43,-12.97 184.39,-12.21 183.61,-12.46 C182.82,-12.72 181.72,-14.5 181.96,-15.06Z" fill="#ff2000"/><path d="M146.62,-47.98 C147.13,-48.79 149.18,-49.76 150.16,-49.51 C151.14,-49.25 152.43,-47.41 152.51,-46.44 C152.59,-45.48 151.53,-44 150.63,-43.69 C149.73,-43.38 147.76,-43.89 147.1,-44.61 C146.43,-45.32 146.11,-47.16 146.62,-47.98Z" fill="#ff2000"/><path d="M125.42,-14.3 C126.01,-15.57 129.15,-15.7 131.31,-15.83 C133.47,-15.96 136.61,-15.7 138.38,-15.06 C140.15,-14.43 141.52,-13.15 141.91,-12 C142.31,-10.85 142.11,-9.07 140.74,-8.17 C139.36,-7.28 135.83,-6.64 133.67,-6.64 C131.51,-6.64 129.15,-6.9 127.78,-8.17 C126.41,-9.45 124.84,-13.02 125.42,-14.3Z" fill="#05706c"/><path d="M265.93,17.08 C266.91,16.19 270.83,15.88 272.99,16.01 C275.15,16.14 277.7,16.96 278.88,17.85 C280.06,18.74 282.02,20.78 280.06,21.37 C278.1,21.96 269.46,22.08 267.1,21.37 C264.75,20.66 264.94,17.98 265.93,17.08Z" fill="#ff2000"/><path d="M285.48,-15.83 C285.99,-16.54 288.3,-17.18 289.48,-17.05 C290.66,-16.93 292.35,-15.83 292.54,-15.06 C292.74,-14.3 291.68,-12.84 290.66,-12.46 C289.64,-12.08 287.28,-12.21 286.42,-12.77 C285.56,-13.33 284.97,-15.11 285.48,-15.83Z" fill="#05706c"/><path d="M287.89,-38.5 C287.78,-38.88 289.15,-40.16 289.79,-40.39 C290.42,-40.62 291.58,-40.28 291.68,-39.9 C291.79,-39.51 291.05,-38.32 290.42,-38.09 C289.79,-37.86 287.99,-38.12 287.89,-38.5Z" fill="#ff2000"/><g fill="#cdcdcd" stroke="#8c8c8c" stroke-width="0.5" vector-effect="non-scaling-stroke" stroke-linejoin="round"><path d="M95,-75 L180,-75 L180.8,-69.4 L179.5,-66 L178.5,-64.8 L176,-63.3 L169,-62.5 L164,-62 L163.5,-60 L163.5,-58 L162,-56 L161,-54 L158.5,-52.5 L156.7,-51 L156,-52.5 L156,-57 L155,-57.5 L150,-57.5 L145,-57.2 L141,-57 L138,-56 L137,-54 L140,-53.5 L141.2,-53 L141.5,-52 L140.5,-49 L140,-48 L138,-46 L135,-43.5 L132,-43 L130.7,-42.3 L129.7,-40.8 L129.5,-40.5 L128,-39 L129.4,-37 L129.3,-35.3 L127.5,-34.6 L126.3,-34.5 L126.5,-36 L126.6,-37.5 L125,-38 L125,-39.5 L124.5,-39.9 L122,-40.5 L121.2,-38.8 L121.7,-39.8 L121.5,-40.8 L119.5,-39.8 L118,-39 L117.7,-38.3 L119,-37.2 L120.5,-37.8 L122.5,-37.4 L121,-36.5 L120,-35.5 L119.5,-34.5 L120.5,-33 L121.5,-32 L121.9,-30.9 L122,-30 L121.5,-28.5 L120.5,-27 L119.5,-25.5 L118.5,-24.5 L117,-23.5 L116,-22.8 L114,-22.3 L113.5,-22.2 L111.5,-21.5 L110.5,-20.4 L110,-21.5 L108.5,-21.6 L106.4,-21 L105.5,-17 L104.4,-13.3 L101.1,-10.4 L99,-8 L95,-8 L95,-75Z" vector-effect="non-scaling-stroke"/><path d="M108.6,-19.1 L109.5,-18.2 L110.5,-18.6 L111,-19.6 L110.5,-20.1 L109.6,-20 L108.7,-19.5Z" vector-effect="non-scaling-stroke"/><path d="M120.1,-23 L120.7,-22 L121,-22.5 L121.9,-24.5 L121.5,-25.3 L121,-25 L120.2,-23.8Z" vector-effect="non-scaling-stroke"/><path d="M129.8,-33.3 L130.3,-31.2 L131,-31.3 L131.8,-32.5 L132,-33.5 L131,-33.9 L130.5,-33.9Z" vector-effect="non-scaling-stroke"/><path d="M132.4,-33.3 L133.5,-33.2 L134.7,-33.8 L134.2,-34.3 L133,-34.1Z" vector-effect="non-scaling-stroke"/><path d="M131,-34.3 L132.5,-35.3 L135,-35.7 L136,-35.9 L136.8,-37.3 L138,-37.2 L139.5,-38.5 L140,-40 L140.3,-41.3 L141.4,-41.4 L141.5,-40 L142,-39.4 L141,-38.3 L141,-37 L140.8,-35.7 L140,-35 L139.2,-35.2 L138.7,-34.6 L137,-34.6 L136.8,-34.3 L135.8,-33.5 L135.1,-34.3 L134,-34.6 L132.5,-34.1 L131.2,-33.9Z" vector-effect="non-scaling-stroke"/><path d="M140,-41.6 L141,-41.8 L141.5,-42.6 L143.3,-41.9 L144.5,-42.9 L145.8,-43.3 L145.2,-44.1 L144,-44.1 L142.5,-45.4 L141.7,-45.4 L141.8,-44 L141.3,-43.2 L140.3,-43.3 L140.1,-42.3Z" vector-effect="non-scaling-stroke"/><path d="M142,-46 L143.5,-46.2 L143,-47.5 L142.7,-49.5 L143.2,-51.5 L143,-53.5 L142.6,-54.3 L142.2,-53.4 L141.7,-51 L142,-48 L141.9,-46.6Z" vector-effect="non-scaling-stroke"/><path d="M120.6,-18.5 L122.2,-18.5 L122.3,-17 L121.6,-15.8 L121.6,-14.3 L122.5,-14 L124,-13 L124.2,-12.6 L123.3,-12.9 L122,-13.7 L120.7,-13.8 L120.6,-14.5 L120,-15.3 L119.8,-16.3 L120.4,-16.7Z" vector-effect="non-scaling-stroke"/><path d="M122,-7 L123.5,-7.5 L124,-7.1 L125.4,-5.7 L126.3,-6.3 L126.6,-7.3 L126.2,-9 L125.5,-9.8 L124.5,-8.6 L123.5,-8.6 L122.2,-7.6Z" vector-effect="non-scaling-stroke"/><path d="M124.5,-12.5 L125.7,-11.2 L125,-10 L124.3,-10.2 L123.3,-10.6 L122,-10.5 L121.9,-11.8 L123,-11.7 L124,-12.5Z" vector-effect="non-scaling-stroke"/><path d="M117.2,-8.4 L118.5,-9.3 L119.6,-10.5 L119.3,-11 L118,-10 L117.1,-8.6Z" vector-effect="non-scaling-stroke"/><path d="M120.3,-13.5 L121.5,-13.2 L121.2,-12.2 L120.4,-12.6Z" vector-effect="non-scaling-stroke"/><path d="M109,-1.5 L109.6,-2 L111,-1.7 L113,-3.1 L114,-4.6 L115.3,-5 L116,-6 L117,-7 L117.7,-6.2 L119.2,-5.3 L118,-4.5 L117.8,-3.5 L118,-2 L118.9,-1 L117.8,-0.8 L117.5,0.5 L116.6,1.5 L116.3,3.5 L114.5,4 L113,3.3 L111.5,3 L110.3,2.9 L110,1.5 L109.2,0.5Z" vector-effect="non-scaling-stroke"/><path d="M119.5,5.5 L120.5,5.5 L120.4,3 L121.2,2.8 L121.5,4.6 L122.8,4.7 L122,3 L122.5,1.5 L121,1.4 L120.7,-0.5 L123,-0.5 L124.5,-1 L125.2,-1.5 L124.3,-0.3 L121.5,-0.5 L120,-0.8 L119.7,0.5 L118.8,2.7 L119.5,3.5Z" vector-effect="non-scaling-stroke"/><path d="M95.3,-5.6 L97.5,-5.2 L98.7,-3.8 L100.4,-2.2 L101.5,-1.7 L103.5,0.5 L104.5,2 L106,3 L105.9,5.8 L104.5,5.7 L102,4 L100.5,1.5 L99,-0.2 L97.5,-2.2 L96,-4Z" vector-effect="non-scaling-stroke"/><path d="M105.2,6.8 L106,5.9 L108.3,6.3 L110.5,6.8 L112.6,6.9 L114.5,7.7 L114.4,8.7 L112,8.3 L108.5,7.8 L106.4,7.4 L105.5,6.9Z" vector-effect="non-scaling-stroke"/><path d="M115,8.2 L116.5,8.5 L119,8.3 L121,8.4 L123,8.3 L125,8.3 L127,8.5 L127.2,8.9 L125,9.5 L124,10.2 L123.5,10.3 L121,8.8 L119,8.8 L116.5,9 L115,8.8Z" vector-effect="non-scaling-stroke"/><path d="M127.5,-1.5 L128.5,-2 L128.2,-0.5 L128.7,0.7 L127.5,0.8 L127.7,-0.8Z" vector-effect="non-scaling-stroke"/><path d="M128,3 L130.8,3.3 L130.5,3.8 L128.2,3.7Z" vector-effect="non-scaling-stroke"/><path d="M126,3.2 L127.2,3.3 L127,3.8 L126.1,3.7Z" vector-effect="non-scaling-stroke"/><path d="M131,1 L132.5,0.4 L134,0.8 L135,3.3 L137.5,1.5 L140,2.4 L144.5,3.8 L146,5.5 L147.5,6 L147.7,8 L150,10.2 L148,10.2 L146,8 L144,7.7 L143,9 L141,9.2 L139,8.1 L138,8.4 L137.7,6 L135,4.4 L134,4 L133,4.1 L132,2.9 L133.5,2.2 L132,2 L131,1.4Z" vector-effect="non-scaling-stroke"/><path d="M148.5,5.5 L151,5 L152,4.2 L152.4,5.5 L150.5,6.2 L148.8,6.2Z" vector-effect="non-scaling-stroke"/><path d="M150.5,2.5 L152,3.5 L153,4.6 L152.5,4.5 L151,3Z" vector-effect="non-scaling-stroke"/><path d="M155,6 L157,7.5 L159,8 L161,9.5 L162,10.5 L160,9.5 L157,8.5 L155.5,7Z" vector-effect="non-scaling-stroke"/><path d="M177.5,17.5 L178.6,17.7 L178.4,18.2 L177.3,18.1Z" vector-effect="non-scaling-stroke"/><path d="M113.5,22 L114,21.8 L116.7,20.6 L119,20 L121,19.5 L122.3,18 L122.2,17 L123.5,16.3 L124.5,15.3 L126,14 L127.5,14 L128.2,15 L129.5,14.8 L129.8,13.5 L130.6,12.4 L132,11.5 L133,11.6 L134,11.9 L135.5,12.1 L136.7,12 L136.5,13.3 L135.9,14.8 L137,15.8 L139,17 L140.8,17.4 L141.6,15 L141.5,13 L142,11 L142.5,10.7 L143.5,12.5 L143.7,14 L145.3,14.9 L145.4,16.4 L146.1,17.8 L146.3,19 L148.8,20.3 L149.5,22 L150,23 L145,25 L113,25Z" vector-effect="non-scaling-stroke"/><path d="M204.2,-19.9 L205,-19.5 L204.5,-18.9 L204,-19.3Z" vector-effect="non-scaling-stroke"/><path d="M203.4,-21 L204,-20.7 L203.6,-20.5Z" vector-effect="non-scaling-stroke"/><path d="M201.8,-21.6 L202.3,-21.4 L201.9,-21.3Z" vector-effect="non-scaling-stroke"/><path d="M186,-69.4 L186,-75 L266,-75 L277,-75 L275,-70 L277,-69.5 L277.5,-68 L276.5,-67 L275.3,-66.6 L274.5,-66 L273,-65.8 L272,-65.3 L270.5,-64.5 L269.5,-63.5 L267.5,-62.5 L266,-61.5 L265.5,-60 L265.5,-58.8 L266.5,-58.7 L267,-57.5 L268,-57 L270,-57 L272,-56 L273.5,-55.4 L275,-55.3 L277,-55.2 L278.5,-54.5 L281.3,-54.5 L282.5,-55.3 L283.5,-56.5 L283.7,-57.5 L283,-58.5 L282,-59.7 L282,-61 L282.5,-62.3 L283,-62.5 L285,-62.3 L287,-61.8 L289,-61 L290.3,-60 L290,-59 L290.5,-58.5 L292,-58.2 L293,-58.8 L294,-59.3 L295.5,-60.3 L296,-59.5 L297.5,-58.5 L298,-57.5 L298,-56.5 L299,-56 L300.5,-55.3 L302.5,-54.5 L303.5,-53.5 L304.5,-52.5 L304,-52 L303,-51.5 L301.5,-51 L300,-50.3 L298.5,-50.2 L296,-50.2 L293.5,-50 L292.5,-49.3 L291.5,-48.7 L290,-48 L289,-47.2 L288.5,-46.8 L289.5,-47 L290.5,-47.8 L292,-48.2 L293.5,-48.8 L294.5,-48.9 L295.8,-48.7 L295.3,-47.8 L295,-47 L295.5,-46.2 L296,-46.2 L296.5,-45.8 L298,-45.7 L298.5,-46 L299,-46.8 L299.6,-47 L300,-46 L299,-45.2 L298,-44.6 L296.5,-44.3 L295.5,-43.5 L294.3,-43.5 L294,-44.5 L295.5,-45 L295.5,-45.7 L295,-45.3 L294.5,-45.3 L293.8,-45 L293,-44.7 L291.7,-44.3 L290.5,-43.7 L289.5,-43 L289.8,-42 L290,-41.7 L289,-41.2 L287.5,-40.7 L286,-40.5 L285.5,-39.5 L285,-38.8 L284.5,-38 L284,-37 L284.2,-36 L284.3,-35.2 L282.5,-34.5 L281.5,-33.7 L280,-32.5 L279,-31.5 L278.7,-30.3 L279.5,-28.5 L280,-27 L279.9,-25.8 L279.3,-25.2 L278.5,-25.3 L278,-26.5 L277.7,-27.5 L277.3,-28.5 L275.8,-29.8 L274,-30 L272.5,-30.4 L271,-30 L270.8,-29 L269,-29.3 L268,-29.6 L266.5,-29.7 L265.2,-29.3 L263.7,-28 L263,-27 L262.5,-25.5 L262.3,-23.5 L262.7,-21.3 L264,-19.3 L265.5,-18.3 L266.5,-18.6 L268.3,-18.6 L269.5,-19.8 L269.8,-21.2 L271.5,-21.4 L273,-21.5 L272.5,-18.5 L271.8,-17.5 L272,-16.2 L273,-15.8 L275,-16 L276.8,-15 L276.5,-14 L276.5,-12 L277.5,-10.5 L279,-9 L280,-9.5 L281,-9.2 L282.5,-9.2 L283,-10 L284,-11 L285.5,-11.5 L287,-12.3 L288,-11.5 L287.7,-11 L288.5,-11.6 L289.5,-12.2 L290,-11.3 L292,-10.6 L295,-10.5 L297,-10.6 L298.5,-10.2 L300,-8.6 L301,-7.7 L303,-6.7 L305,-5.9 L307.5,-5.7 L309,-4 L310,-2 L310.5,-0.5 L311.5,0.5 L314,0.3 L316,1 L318,1.5 L320,2.5 L322.7,3.7 L324,5 L325,5.5 L325,7.5 L324,9 L322.5,11 L321,13 L321,16 L320.5,18.5 L319.5,20 L320,25 L289.8,25 L289.7,20 L288.5,18 L287.5,17 L286,16 L284.5,15 L283.5,13.3 L282,11 L281,9 L280.2,7.5 L279,6 L278.7,4.5 L279,3 L279.7,2.2 L279.9,0 L281,-1.2 L282,-2.5 L282.5,-4 L282.3,-6 L281.5,-7.5 L280.8,-8.5 L280,-8.5 L279.5,-7.5 L278,-8 L277,-8.2 L275.5,-9.2 L274.3,-10 L273.5,-11 L272.5,-12.5 L270.5,-13.3 L269,-14 L268,-15 L267,-16.1 L265.5,-15.8 L264,-16 L262,-16.8 L260,-17.5 L258.5,-18 L257,-18.5 L255.5,-19.2 L254.6,-20.5 L254.5,-21.5 L253.5,-23 L252.5,-24 L251.5,-25.5 L251,-26.5 L250,-27.5 L249,-28.5 L248,-29 L247.5,-30 L246.5,-31.5 L245.2,-31.7 L245.5,-30.5 L246.2,-29 L247.5,-27.5 L248,-26.5 L249,-25.5 L249.5,-24.5 L250.5,-23.5 L249.8,-23 L248,-24.3 L246,-26 L245.2,-27 L245,-28 L244,-29.5 L243.5,-31 L242.8,-32.5 L242,-33.7 L241,-34 L239,-35 L238,-36.5 L237.5,-37.8 L236.3,-39 L235.7,-40.4 L235.6,-42 L236,-44 L235.8,-46.2 L235.3,-48.2 L235,-48.8 L232.5,-49.5 L231,-50.8 L229.5,-52.5 L228,-54 L226,-54.5 L224.8,-55.5 L223.5,-57 L222,-58 L221,-59 L219.5,-59.5 L217,-59.7 L215,-60 L213,-60.2 L211,-60.5 L209,-60.2 L208,-60.5 L205.5,-60 L202,-60 L199,-61.5 L197.3,-62.5 L195,-63.5 L192.7,-64.8 L190.5,-66.5 L189.5,-68 L189,-69.4Z" vector-effect="non-scaling-stroke"/><path d="M240,-70 L245,-69.2 L250,-69.3 L253,-69.3 L255,-70 L255,-72 L240,-72Z" vector-effect="non-scaling-stroke"/><path d="M273.5,-64 L275,-65.5 L276,-65.8 L277,-65.2 L279,-64.2 L277.5,-63.8 L276,-63.5 L274,-63.7Z" vector-effect="non-scaling-stroke"/><path d="M279.5,-70 L279.5,-72 L292,-72 L292,-70 L293,-69 L296,-67.5 L298,-66.5 L297,-66 L294,-65 L296,-64.5 L295,-63 L293,-63.5 L292,-62.5 L288,-62.5 L286,-63.5 L283,-64.5 L282,-65.5 L287,-66.5 L285,-67.5 L280,-68.5Z" vector-effect="non-scaling-stroke"/><path d="M300.6,-47.6 L301,-48.5 L302.4,-49.5 L303,-50.5 L304.5,-51.6 L304.4,-51 L304,-49.8 L304.5,-49.5 L306,-49.5 L306.5,-48.5 L307.2,-47.6 L306.8,-46.7 L306,-47 L305.1,-47 L304.5,-47.5 L303.5,-47.6 L302,-47.6Z" vector-effect="non-scaling-stroke"/><path d="M295.5,-49.9 L298.2,-49.3 L298.2,-49.1 L295.6,-49.6Z" vector-effect="non-scaling-stroke"/><path d="M296,-46.5 L297.5,-46.9 L298,-46.4 L296.5,-46.1Z" vector-effect="non-scaling-stroke"/><path d="M306.5,-70 L306,-68.5 L306.5,-67 L307,-66 L308,-64.8 L309.2,-63.5 L310.3,-62.5 L312,-61 L314,-60.5 L316.5,-59.8 L317.5,-60.3 L318,-61 L319.5,-62.5 L320.5,-64 L322,-65.2 L323,-65.5 L325,-66 L328,-68 L331,-68.5 L334,-69 L337,-70 L337,-75 L306,-75Z" vector-effect="non-scaling-stroke"/><path d="M336,-65.5 L337.5,-66.4 L342,-66.1 L345,-66.5 L346.5,-65.3 L345.5,-64.4 L342,-63.4 L337.5,-63.8 L338,-64.5 L336,-65Z" vector-effect="non-scaling-stroke"/><path d="M354.3,-58.6 L356.8,-58.6 L358,-57.6 L358,-57 L357.8,-56 L358.5,-55.5 L358.5,-54 L359.5,-53.5 L360.3,-53 L361.7,-52.8 L361.4,-51.5 L361,-51 L359.5,-50.8 L358,-50.6 L355,-50 L354.3,-50.2 L355.5,-51.3 L356.5,-51.6 L355.5,-51.8 L354.8,-51.7 L355.7,-53 L355.4,-53.4 L357,-53.3 L357,-54 L356.6,-54.5 L355,-54.8 L354.4,-55.8 L354.2,-56.6 L354.2,-57.6Z" vector-effect="non-scaling-stroke"/><path d="M350,-51.7 L351,-51.5 L353.7,-52.1 L354,-53.3 L354.1,-54 L354.4,-54.6 L354,-55.2 L352.5,-55.3 L351.5,-54.6 L350.3,-54.2 L350.7,-53.5 L350,-53.3 L350.6,-52.5Z" vector-effect="non-scaling-stroke"/><path d="M361,-51 L360,-49.7 L358.5,-49.5 L358,-48.7 L355.5,-48.5 L356,-47.7 L357.8,-47.2 L358.8,-46 L358.7,-44.5 L358.2,-43.5 L356,-43.4 L353,-43.8 L351,-43.2 L351.2,-42 L351.2,-40.5 L350.8,-39 L351.2,-38 L351.2,-37 L352,-37 L353.5,-37.2 L354.5,-36.2 L354.6,-36 L354.4,-35.9 L353.5,-35.8 L353.2,-35 L352.5,-34 L351.5,-33.4 L350.7,-32.5 L350.5,-31.5 L350.3,-30.5 L350.2,-30 L349.2,-28.8 L347,-28 L346,-27.5 L345.3,-26.2 L344.5,-25 L344,-24 L343.4,-22.5 L343,-21 L343.9,-20 L343.6,-19.2 L344,-18 L343.8,-16.5 L343.5,-15.5 L342.6,-14.7 L343.2,-14 L343.3,-12.3 L344.5,-11.5 L345.5,-10.5 L346.5,-9.5 L347,-9 L348,-8 L349.5,-6.8 L351,-5.2 L352.5,-4.4 L354,-5 L356,-5.1 L358,-4.8 L360,-5.5 L362,-6 L365,-6 L365,-60 L361,-60Z" vector-effect="non-scaling-stroke"/><path d="M275.5,-21.8 L277,-22 L279,-23 L281,-23.2 L283,-22.5 L285,-21 L285.9,-20.2 L283.5,-19.9 L282.5,-20.5 L281,-21.5 L278.5,-21.5 L277.5,-22.3 L275.6,-21.5Z" vector-effect="non-scaling-stroke"/><path d="M285.5,-18.2 L286.5,-19.9 L288,-19.9 L289.5,-19.6 L291,-19 L291.6,-18.5 L290.5,-18.2 L288.5,-18.3 L287,-17.7 L286,-18Z" vector-effect="non-scaling-stroke"/><path d="M281.6,-18.4 L283.7,-18.4 L283.8,-17.9 L282,-18.1Z" vector-effect="non-scaling-stroke"/><path d="M292.8,-18.5 L294.3,-18.4 L294.3,-18 L292.8,-18Z" vector-effect="non-scaling-stroke"/><path d="M298.4,-10.7 L299.1,-10.8 L299,-10.1 L298.3,-10.1Z" vector-effect="non-scaling-stroke"/></g></svg><circle cx="146.26" cy="285.8" r="1.35" fill="#000"/><circle cx="180.82" cy="303.08" r="1.35" fill="#000"/><circle cx="202.42" cy="290.12" r="1.35" fill="#000"/><circle cx="206.74" cy="285.8" r="1.35" fill="#000"/><circle cx="206.74" cy="294.44" r="1.35" fill="#000"/><circle cx="202.42" cy="298.76" r="1.35" fill="#000"/><circle cx="124.66" cy="324.68" r="1.35" fill="#000"/><circle cx="128.98" cy="329" r="1.35" fill="#000"/><circle cx="133.3" cy="333.32" r="1.35" fill="#000"/><circle cx="124.66" cy="333.32" r="1.35" fill="#000"/><circle cx="141.94" cy="324.68" r="1.35" fill="#000"/><circle cx="146.26" cy="320.36" r="1.35" fill="#000"/><circle cx="137.62" cy="337.64" r="1.35" fill="#000"/><circle cx="146.26" cy="337.64" r="1.35" fill="#000"/><circle cx="150.58" cy="341.96" r="1.35" fill="#000"/><circle cx="141.94" cy="341.96" r="1.35" fill="#000"/><circle cx="137.62" cy="346.28" r="1.35" fill="#000"/><circle cx="146.26" cy="346.28" r="1.35" fill="#000"/><circle cx="124.66" cy="350.6" r="1.35" fill="#000"/><circle cx="128.98" cy="363.56" r="1.35" fill="#000"/><circle cx="137.62" cy="363.56" r="1.35" fill="#000"/><circle cx="133.3" cy="367.88" r="1.35" fill="#000"/><circle cx="141.94" cy="367.88" r="1.35" fill="#000"/><circle cx="107.38" cy="367.88" r="1.35" fill="#000"/><circle cx="146.26" cy="372.2" r="1.35" fill="#000"/><circle cx="150.58" cy="376.52" r="1.35" fill="#000"/><circle cx="116.02" cy="376.52" r="1.35" fill="#000"/><circle cx="180.82" cy="329" r="1.35" fill="#000"/><circle cx="176.5" cy="333.32" r="1.35" fill="#000"/><circle cx="185.14" cy="333.32" r="1.35" fill="#000"/><circle cx="219.7" cy="333.32" r="1.35" fill="#000"/><circle cx="193.78" cy="341.96" r="1.35" fill="#000"/><circle cx="202.42" cy="341.96" r="1.35" fill="#000"/><circle cx="211.06" cy="341.96" r="1.35" fill="#000"/><circle cx="215.38" cy="337.64" r="1.35" fill="#000"/><circle cx="180.82" cy="346.28" r="1.35" fill="#000"/><circle cx="189.46" cy="346.28" r="1.35" fill="#000"/><circle cx="198.1" cy="346.28" r="1.35" fill="#000"/><circle cx="206.74" cy="346.28" r="1.35" fill="#000"/><circle cx="215.38" cy="346.28" r="1.35" fill="#000"/><circle cx="176.5" cy="350.6" r="1.35" fill="#000"/><circle cx="185.14" cy="350.6" r="1.35" fill="#000"/><circle cx="193.78" cy="350.6" r="1.35" fill="#000"/><circle cx="202.42" cy="350.6" r="1.35" fill="#000"/><circle cx="211.06" cy="350.6" r="1.35" fill="#000"/><circle cx="219.7" cy="350.6" r="1.35" fill="#000"/><circle cx="180.82" cy="354.92" r="1.35" fill="#000"/><circle cx="189.46" cy="354.92" r="1.35" fill="#000"/><circle cx="198.1" cy="354.92" r="1.35" fill="#000"/><circle cx="206.74" cy="354.92" r="1.35" fill="#000"/><circle cx="215.38" cy="354.92" r="1.35" fill="#000"/><circle cx="193.78" cy="359.24" r="1.35" fill="#000"/><circle cx="202.42" cy="359.24" r="1.35" fill="#000"/><circle cx="211.06" cy="359.24" r="1.35" fill="#000"/><circle cx="198.1" cy="363.56" r="1.35" fill="#000"/><circle cx="206.74" cy="363.56" r="1.35" fill="#000"/><circle cx="202.42" cy="367.88" r="1.35" fill="#000"/><circle cx="224.02" cy="303.08" r="1.35" fill="#000"/><circle cx="236.98" cy="316.04" r="1.35" fill="#000"/><circle cx="232.66" cy="329" r="1.35" fill="#000"/><circle cx="219.7" cy="333.32" r="1.35" fill="#000"/><circle cx="224.02" cy="337.64" r="1.35" fill="#000"/><circle cx="228.34" cy="341.96" r="1.35" fill="#000"/><circle cx="219.7" cy="341.96" r="1.35" fill="#000"/><circle cx="219.7" cy="350.6" r="1.35" fill="#000"/><circle cx="228.34" cy="350.6" r="1.35" fill="#000"/><circle cx="236.98" cy="350.6" r="1.35" fill="#000"/><circle cx="245.62" cy="350.6" r="1.35" fill="#000"/><circle cx="224.02" cy="354.92" r="1.35" fill="#000"/><circle cx="232.66" cy="354.92" r="1.35" fill="#000"/><circle cx="241.3" cy="354.92" r="1.35" fill="#000"/><circle cx="249.94" cy="354.92" r="1.35" fill="#000"/><circle cx="249.94" cy="372.2" r="1.35" fill="#000"/><circle cx="245.62" cy="376.52" r="1.35" fill="#000"/><circle cx="254.26" cy="376.52" r="1.35" fill="#000"/><circle cx="262.9" cy="376.52" r="1.35" fill="#000"/><circle cx="267.22" cy="329" r="1.35" fill="#000"/><circle cx="275.86" cy="329" r="1.35" fill="#000"/><circle cx="271.54" cy="333.32" r="1.35" fill="#000"/><circle cx="267.22" cy="337.64" r="1.35" fill="#000"/><circle cx="284.5" cy="337.64" r="1.35" fill="#000"/><circle cx="293.14" cy="337.64" r="1.35" fill="#000"/><circle cx="293.14" cy="346.28" r="1.35" fill="#000"/><circle cx="306.1" cy="350.6" r="1.35" fill="#000"/><circle cx="314.74" cy="350.6" r="1.35" fill="#000"/><circle cx="301.78" cy="277.16" r="1.35" fill="#000"/><circle cx="306.1" cy="272.84" r="1.35" fill="#000"/><circle cx="271.54" cy="298.76" r="1.35" fill="#000"/>
<rect x="101.5" y="255.3" width="234.3" height="124.8" fill="none" stroke="#2a2a2a" stroke-width="1.1" />
<line x1="96.9" y1="269.17" x2="101.5" y2="269.17" stroke="#2a2a2a" stroke-width="1.1" />
<text x="90.2" y="272.87" font-size="10.3" text-anchor="end" fill="#000" >60N</text>
<line x1="96.9" y1="296.9" x2="101.5" y2="296.9" stroke="#2a2a2a" stroke-width="1.1" />
<text x="90.2" y="300.6" font-size="10.3" text-anchor="end" fill="#000" >40N</text>
<line x1="96.9" y1="324.63" x2="101.5" y2="324.63" stroke="#2a2a2a" stroke-width="1.1" />
<text x="90.2" y="328.33" font-size="10.3" text-anchor="end" fill="#000" >20N</text>
<line x1="96.9" y1="352.37" x2="101.5" y2="352.37" stroke="#2a2a2a" stroke-width="1.1" />
<text x="90.2" y="356.07" font-size="10.3" text-anchor="end" fill="#000" >0</text>
<line x1="96.9" y1="380.1" x2="101.5" y2="380.1" stroke="#2a2a2a" stroke-width="1.1" />
<text x="90.2" y="383.8" font-size="10.3" text-anchor="end" fill="#000" >20S</text>
<line x1="101.5" y1="380.1" x2="101.5" y2="384.7" stroke="#2a2a2a" stroke-width="1.1" />
<text x="101.5" y="399.6" font-size="10.3" text-anchor="middle" fill="#000" >100E</text>
<line x1="146.56" y1="380.1" x2="146.56" y2="384.7" stroke="#2a2a2a" stroke-width="1.1" />
<text x="146.56" y="399.6" font-size="10.3" text-anchor="middle" fill="#000" >150E</text>
<line x1="191.62" y1="380.1" x2="191.62" y2="384.7" stroke="#2a2a2a" stroke-width="1.1" />
<text x="191.62" y="399.6" font-size="10.3" text-anchor="middle" fill="#000" >160W</text>
<line x1="236.67" y1="380.1" x2="236.67" y2="384.7" stroke="#2a2a2a" stroke-width="1.1" />
<text x="236.67" y="399.6" font-size="10.3" text-anchor="middle" fill="#000" >110W</text>
<line x1="281.73" y1="380.1" x2="281.73" y2="384.7" stroke="#2a2a2a" stroke-width="1.1" />
<text x="281.73" y="399.6" font-size="10.3" text-anchor="middle" fill="#000" >60W</text>
<line x1="326.79" y1="380.1" x2="326.79" y2="384.7" stroke="#2a2a2a" stroke-width="1.1" />
<text x="326.79" y="399.6" font-size="10.3" text-anchor="middle" fill="#000" >10W</text>
<text x="101.3" y="249.4" font-size="12.9" text-anchor="start" fill="#000" letter-spacing="0.06">(c) Corr. NATSI vs SON SST</text>
<svg x="373.4" y="255.3" width="233.9" height="124.8" viewBox="100 -70 260 90" preserveAspectRatio="none" overflow="hidden"><rect x="95" y="-75" width="270" height="100" fill="#fff"/><path d="M100.33,-23.48 C101.9,-22.97 105.64,-22.33 107.88,-21.95 C110.12,-21.57 112.21,-21.95 113.78,-21.19 C115.35,-20.42 116.34,-19.02 117.32,-17.36 C118.3,-15.7 119.09,-13.28 119.68,-11.24 C120.27,-9.19 119.68,-6.9 120.86,-5.11 C122.04,-3.33 124.79,-2.05 126.76,-0.52 C128.73,1.01 131.48,2.29 132.66,4.07 C133.84,5.86 134.03,8.15 133.84,10.2 C133.64,12.24 133.05,14.66 131.48,16.32 C129.9,17.98 127.55,19.38 124.4,20.15 C121.25,20.91 116.53,20.78 112.6,20.91 C108.67,21.04 103.16,21.42 100.8,20.91 C98.44,20.4 98.84,25.5 98.44,17.85 C98.05,10.2 98.13,-18.12 98.44,-25.01 C98.76,-31.9 98.76,-23.99 100.33,-23.48Z" fill="#ffff00"/><path d="M119.68,-39.56 C120.35,-40.58 121.84,-41.09 123.22,-41.09 C124.6,-41.09 126.96,-40.45 127.94,-39.56 C128.92,-38.66 129.32,-37 129.12,-35.73 C128.92,-34.45 127.94,-32.67 126.76,-31.9 C125.58,-31.14 123.3,-30.63 122.04,-31.14 C120.78,-31.65 119.6,-33.56 119.21,-34.96 C118.81,-36.37 119.01,-38.54 119.68,-39.56Z" fill="#ffff00"/><path d="M144.46,-47.98 C145.24,-49.51 147.41,-49.76 149.17,-49.51 C150.94,-49.25 153.5,-47.98 155.07,-46.44 C156.65,-44.91 158.22,-42.36 158.61,-40.32 C159.01,-38.28 158.61,-35.6 157.43,-34.2 C156.25,-32.79 153.3,-31.9 151.53,-31.9 C149.76,-31.9 148,-32.79 146.82,-34.2 C145.64,-35.6 144.85,-38.03 144.46,-40.32 C144.06,-42.62 143.67,-46.44 144.46,-47.98Z" fill="#ffff00"/><path d="M132.66,-34.2 C133.52,-35.09 136.98,-35.35 138.56,-34.96 C140.13,-34.58 141.7,-33.31 142.1,-31.9 C142.49,-30.5 141.9,-27.56 140.92,-26.54 C139.93,-25.52 137.46,-25.27 136.2,-25.78 C134.94,-26.29 133.96,-28.2 133.37,-29.61 C132.78,-31.01 131.79,-33.31 132.66,-34.2Z" fill="#ffff00"/><path d="M194.01,-56.39 C194.79,-57.36 199.32,-59.07 202.27,-59.92 C205.22,-60.76 208.56,-61.27 211.7,-61.45 C214.85,-61.63 218.39,-61.57 221.14,-60.99 C223.9,-60.4 226.45,-58.69 228.22,-57.93 C229.99,-57.16 231.17,-57.42 231.76,-56.39 C232.35,-55.37 232.74,-52.24 231.76,-51.8 C230.78,-51.37 228.42,-53.46 225.86,-53.79 C223.31,-54.12 219.57,-53.74 216.42,-53.79 C213.28,-53.84 210.13,-54.05 206.98,-54.1 C203.84,-54.15 199.71,-53.72 197.55,-54.1 C195.38,-54.48 193.22,-55.43 194.01,-56.39Z" fill="#ffff00"/><path d="M210.29,-40.32 C209.5,-41.44 212.45,-44.76 214.06,-46.44 C215.68,-48.13 218.35,-50.17 219.96,-50.42 C221.57,-50.68 223.23,-49.15 223.74,-47.98 C224.25,-46.8 223.86,-44.76 223.03,-43.38 C222.2,-42.01 220.91,-40.22 218.78,-39.71 C216.66,-39.2 211.07,-39.2 210.29,-40.32Z" fill="#ffff00"/><path d="M160.97,-5.11 C162.35,-5.88 164.32,-6.26 166.87,-6.64 C169.43,-7.03 172.77,-7.03 176.31,-7.41 C179.85,-7.79 184.18,-8.43 188.11,-8.94 C192.04,-9.45 195.97,-9.96 199.91,-10.47 C203.84,-10.98 208.16,-11.49 211.7,-12 C215.24,-12.51 218.78,-13.02 221.14,-13.53 C223.5,-14.04 224.09,-14.68 225.86,-15.06 C227.63,-15.45 230.78,-20.8 231.76,-15.83 C232.74,-10.85 233.53,9.69 231.76,14.79 C229.99,19.89 224.48,15.04 221.14,14.79 C217.8,14.53 214.85,13.64 211.7,13.26 C208.56,12.87 205.41,12.75 202.27,12.49 C199.12,12.24 196.37,11.85 192.83,11.73 C189.29,11.6 184.96,11.6 181.03,11.73 C177.1,11.85 172.38,12.49 169.23,12.49 C166.09,12.49 163.92,12.87 162.15,11.73 C160.38,10.58 159.2,7.9 158.61,5.6 C158.02,3.31 158.22,-0.27 158.61,-2.05 C159.01,-3.84 159.6,-4.35 160.97,-5.11Z" fill="#ffff00"/><path d="M166.87,14.79 C168.05,13.31 171.2,12.87 173.95,12.49 C176.7,12.11 180.24,12.24 183.39,12.49 C186.53,12.75 189.68,13.51 192.83,14.02 C195.97,14.53 199.51,15.04 202.27,15.55 C205.02,16.06 207.77,16.11 209.34,17.08 C210.92,18.05 218.78,20.66 211.7,21.37 C204.63,22.08 174.34,22.47 166.87,21.37 C159.4,20.27 165.69,16.27 166.87,14.79Z" fill="#7fd77f"/><path d="M120.86,-9.71 C120.86,-11.24 121.06,-10.98 122.04,-12.77 C123.02,-14.55 124.4,-18.38 126.76,-20.42 C129.12,-22.46 133.05,-23.48 136.2,-25.01 C139.34,-26.54 142.49,-28.33 145.64,-29.61 C148.78,-30.88 152.32,-31.65 155.07,-32.67 C157.83,-33.69 160.19,-34.45 162.15,-35.73 C164.12,-37 165.69,-38.54 166.87,-40.32 C168.05,-42.11 169.23,-44.4 169.23,-46.44 C169.23,-48.49 168.44,-51.29 166.87,-52.57 C165.3,-53.84 161.76,-53.59 159.79,-54.1 C157.83,-54.61 154.68,-55.25 155.07,-55.63 C155.47,-56.01 159.79,-56.27 162.15,-56.39 C164.51,-56.52 166.87,-56.14 169.23,-56.39 C171.59,-56.65 173.95,-57.93 176.31,-57.93 C178.67,-57.93 180.64,-57.03 183.39,-56.39 C186.14,-55.76 190.07,-54.74 192.83,-54.1 C195.58,-53.46 197.55,-53.08 199.91,-52.57 C202.27,-52.06 205.02,-51.8 206.98,-51.04 C208.95,-50.27 211.31,-49.25 211.7,-47.98 C212.1,-46.7 209.34,-44.91 209.34,-43.38 C209.34,-41.85 210.52,-40.32 211.7,-38.79 C212.88,-37.26 214.85,-35.47 216.42,-34.2 C218,-32.92 220.36,-32.41 221.14,-31.14 C221.93,-29.86 222.32,-27.56 221.14,-26.54 C219.96,-25.52 216.82,-25.52 214.06,-25.01 C211.31,-24.5 207.38,-24.25 204.63,-23.48 C201.87,-22.72 200.3,-21.31 197.55,-20.42 C194.79,-19.53 191.25,-18.51 188.11,-18.12 C184.96,-17.74 181.82,-18.51 178.67,-18.12 C175.52,-17.74 171.98,-16.98 169.23,-15.83 C166.48,-14.68 163.73,-12.77 162.15,-11.24 C160.58,-9.71 160.58,-7.92 159.79,-6.64 C159.01,-5.37 158.22,-4.86 157.43,-3.58 C156.65,-2.31 155.86,-0.52 155.07,1.01 C154.29,2.54 153.5,4.33 152.71,5.6 C151.93,6.88 151.53,7.64 150.35,8.66 C149.17,9.69 147.21,11.22 145.64,11.73 C144.06,12.24 142.88,12.24 140.92,11.73 C138.95,11.22 135.8,9.69 133.84,8.66 C131.87,7.64 130.69,6.88 129.12,5.6 C127.55,4.33 125.58,2.54 124.4,1.01 C123.22,-0.52 122.63,-1.8 122.04,-3.58 C121.45,-5.37 120.86,-8.17 120.86,-9.71Z" fill="#7fd77f"/><path d="M212.17,-55.87 C212.76,-57.05 224.06,-56.95 227.39,-56.39 C230.71,-55.84 230.73,-53.97 232.11,-52.57 C233.48,-51.16 234.66,-49.76 235.65,-47.98 C236.63,-46.19 237.02,-43.89 238.01,-41.85 C238.99,-39.81 240.17,-37.51 241.55,-35.73 C242.92,-33.94 244.69,-32.67 246.26,-31.14 C247.84,-29.61 249.21,-28.07 250.98,-26.54 C252.75,-25.01 254.92,-23.35 256.88,-21.95 C258.85,-20.55 260.82,-19.2 262.78,-18.12 C264.75,-17.05 266.71,-16.36 268.68,-15.52 C270.65,-14.68 272.81,-13.79 274.58,-13.07 C276.35,-12.36 277.92,-11.8 279.3,-11.24 C280.68,-10.67 282.05,-10.98 282.84,-9.71 C283.62,-8.43 283.62,-6.13 284.02,-3.58 C284.41,-1.03 284.8,2.54 285.2,5.6 C285.59,8.66 285.79,12.16 286.38,14.79 C286.97,17.42 301.32,20.27 288.74,21.37 C276.15,22.47 223.85,26.93 210.87,21.37 C197.89,15.81 209.53,-6.39 210.87,-12 C212.21,-17.61 216.18,-11.62 218.89,-12.31 C221.61,-13 225.09,-14.78 227.15,-16.13 C229.22,-17.49 230.32,-18.81 231.28,-20.42 C232.24,-22.03 232.8,-23.99 232.93,-25.78 C233.06,-27.56 232.34,-29.35 232.06,-31.14 C231.78,-32.92 231.82,-34.71 231.28,-36.49 C230.74,-38.28 230.04,-39.71 228.8,-41.85 C227.56,-44 226.62,-47.02 223.85,-49.35 C221.08,-51.69 211.58,-54.7 212.17,-55.87Z" fill="#ffff00"/><path d="M282.84,-35.73 C284.02,-37.39 285.79,-39.94 287.56,-41.09 C289.33,-42.23 291.29,-42.49 293.46,-42.62 C295.62,-42.75 298.18,-41.72 300.53,-41.85 C302.89,-41.98 305.25,-43.26 307.61,-43.38 C309.97,-43.51 312.73,-43.13 314.69,-42.62 C316.66,-42.11 318.23,-41.21 319.41,-40.32 C320.59,-39.43 320.2,-37.9 321.77,-37.26 C323.34,-36.62 326.1,-36.7 328.85,-36.49 C331.6,-36.29 335.54,-36.37 338.29,-36.04 C341.04,-35.7 343.99,-35.27 345.37,-34.5 C346.74,-33.74 347.33,-32.31 346.55,-31.44 C345.76,-30.58 343.2,-29.86 340.65,-29.3 C338.09,-28.74 333.57,-28.53 331.21,-28.07 C328.85,-27.62 328.06,-27.18 326.49,-26.54 C324.92,-25.91 323.34,-25.01 321.77,-24.25 C320.2,-23.48 319.41,-22.59 317.05,-21.95 C314.69,-21.31 310.76,-20.42 307.61,-20.42 C304.47,-20.42 300.93,-21.19 298.18,-21.95 C295.42,-22.72 293.46,-24.25 291.1,-25.01 C288.74,-25.78 285.79,-25.52 284.02,-26.54 C282.25,-27.56 280.68,-29.61 280.48,-31.14 C280.28,-32.67 281.66,-34.07 282.84,-35.73Z" fill="#ffff00"/><path d="M262.78,-29.61 C263.96,-30.37 267.5,-30.37 269.86,-30.37 C272.22,-30.37 275.76,-30.5 276.94,-29.61 C278.12,-28.71 277.33,-26.54 276.94,-25.01 C276.55,-23.48 275.76,-21.31 274.58,-20.42 C273.4,-19.53 271.43,-19.4 269.86,-19.66 C268.29,-19.91 266.32,-20.93 265.14,-21.95 C263.96,-22.97 263.17,-24.5 262.78,-25.78 C262.39,-27.05 261.6,-28.84 262.78,-29.61Z" fill="#ffff00"/><path d="M266.32,-62.52 C267.3,-63.28 270.25,-63.92 272.22,-64.05 C274.19,-64.18 276.35,-63.92 278.12,-63.28 C279.89,-62.65 282.44,-61.37 282.84,-60.22 C283.23,-59.07 281.85,-57.16 280.48,-56.39 C279.1,-55.63 276.55,-55.63 274.58,-55.63 C272.61,-55.63 270.06,-55.76 268.68,-56.39 C267.3,-57.03 266.71,-58.44 266.32,-59.46 C265.93,-60.48 265.34,-61.75 266.32,-62.52Z" fill="#ffff00"/><path d="M321.77,5.6 C322.95,2.46 326.1,3.31 328.85,2.54 C331.6,1.78 334.75,1.27 338.29,1.01 C341.83,0.76 346.35,1.27 350.09,1.01 C353.82,0.76 358.93,-3.91 360.7,-0.52 C362.47,2.87 367.19,17.72 360.7,21.37 C354.22,25.02 328.26,24 321.77,21.37 C315.28,18.74 320.59,8.74 321.77,5.6Z" fill="#ffff00"/><path d="M317.05,-67.88 C317.45,-68.64 326.49,-68.9 331.21,-69.41 C335.93,-69.92 340.45,-70.68 345.37,-70.94 C350.28,-71.19 358.15,-74.51 360.7,-70.94 C363.26,-67.37 361.49,-52.57 360.7,-49.51 C359.92,-46.44 357.75,-51.04 355.99,-52.57 C354.22,-54.1 352.64,-56.91 350.09,-58.69 C347.53,-60.48 344.19,-62.26 340.65,-63.28 C337.11,-64.3 332.78,-64.05 328.85,-64.81 C324.92,-65.58 316.66,-67.11 317.05,-67.88Z" fill="#ffff00"/><path d="M295.82,-64.81 C297,-67.11 300.14,-67.62 302.89,-67.88 C305.65,-68.13 309.19,-66.86 312.33,-66.35 C315.48,-65.83 318.23,-65.32 321.77,-64.81 C325.31,-64.3 329.64,-63.67 333.57,-63.28 C337.5,-62.9 342.42,-63.16 345.37,-62.52 C348.32,-61.88 350.09,-60.86 351.27,-59.46 C352.45,-58.05 352.17,-55.76 352.45,-54.1 C352.72,-52.44 353.11,-51.42 352.92,-49.51 C352.72,-47.59 352.52,-44.02 351.27,-42.62 C350.01,-41.21 347.92,-41.21 345.37,-41.09 C342.81,-40.96 339.07,-41.34 335.93,-41.85 C332.78,-42.36 329.64,-43.69 326.49,-44.15 C323.34,-44.61 319.8,-44.86 317.05,-44.61 C314.3,-44.35 311.94,-42.95 309.97,-42.62 C308.01,-42.29 306.83,-41.72 305.25,-42.62 C303.68,-43.51 302.11,-46.06 300.53,-47.98 C298.96,-49.89 296.6,-51.29 295.82,-54.1 C295.03,-56.91 294.64,-62.52 295.82,-64.81Z" fill="#7fd77f"/><path d="M302.89,-9.71 C303.68,-10.73 307.61,-11.49 309.97,-12.77 C312.33,-14.04 314.69,-16.08 317.05,-17.36 C319.41,-18.63 321.77,-19.53 324.13,-20.42 C326.49,-21.31 328.46,-22.21 331.21,-22.72 C333.96,-23.23 337.9,-22.97 340.65,-23.48 C343.4,-23.99 346.15,-26.03 347.73,-25.78 C349.3,-25.52 350.48,-23.1 350.09,-21.95 C349.69,-20.8 347.33,-19.66 345.37,-18.89 C343.4,-18.12 340.65,-18.12 338.29,-17.36 C335.93,-16.59 333.18,-15.57 331.21,-14.3 C329.24,-13.02 327.67,-11.24 326.49,-9.71 C325.31,-8.17 325.7,-6.39 324.13,-5.11 C322.56,-3.84 319.41,-2.31 317.05,-2.05 C314.69,-1.8 311.94,-2.82 309.97,-3.58 C308.01,-4.35 306.43,-5.62 305.25,-6.64 C304.07,-7.66 302.11,-8.68 302.89,-9.71Z" fill="#7fd77f"/><path d="M321.77,-6.64 C322.16,-8.05 324.92,-8.3 326.49,-8.17 C328.06,-8.05 330.62,-7.15 331.21,-5.88 C331.8,-4.6 331.21,-1.54 330.03,-0.52 C328.85,0.5 325.51,1.27 324.13,0.25 C322.75,-0.78 321.38,-5.24 321.77,-6.64Z" fill="#7fd77f"/><path d="M312.33,-3.58 C312.92,-4.47 315.68,-5.37 317.05,-5.11 C318.43,-4.86 320.39,-3.07 320.59,-2.05 C320.79,-1.03 319.41,0.63 318.23,1.01 C317.05,1.39 314.5,1.01 313.51,0.25 C312.53,-0.52 311.74,-2.69 312.33,-3.58Z" fill="#7fd77f"/><path d="M141.25,-57.46 C142.12,-58.16 145.8,-58.44 147.74,-58.3 C149.69,-58.16 151.64,-57.74 152.94,-56.62 C154.23,-55.5 155.53,-52.83 155.53,-51.57 C155.53,-50.3 154.23,-49.18 152.94,-49.04 C151.64,-48.9 149.47,-49.88 147.74,-50.72 C146.01,-51.57 143.63,-52.97 142.55,-54.09 C141.47,-55.22 140.39,-56.76 141.25,-57.46Z" fill="#7fd77f"/><path d="M176.31,-30.83 C177.1,-31.65 179.77,-31.9 181.03,-31.44 C182.29,-30.98 184.06,-29.15 183.86,-28.07 C183.66,-27 181.11,-25.27 179.85,-25.01 C178.59,-24.76 176.9,-25.57 176.31,-26.54 C175.72,-27.51 175.52,-30.01 176.31,-30.83Z" fill="#ffffff"/><path d="M295.82,-34.96 C296.52,-35.65 299.16,-36.29 300.53,-36.04 C301.91,-35.78 304.07,-34.3 304.07,-33.43 C304.07,-32.57 301.83,-31.09 300.53,-30.83 C299.24,-30.58 297.07,-31.21 296.29,-31.9 C295.5,-32.59 295.11,-34.27 295.82,-34.96Z" fill="#ffffff"/><path d="M328.85,-32.67 C329.05,-33.2 332.39,-33.64 333.57,-33.43 C334.75,-33.23 336.13,-31.98 335.93,-31.44 C335.73,-30.91 333.57,-30.01 332.39,-30.22 C331.21,-30.42 328.65,-32.13 328.85,-32.67Z" fill="#ffffff"/><path d="M299.36,-60.22 C299.55,-61.75 301.71,-62.26 302.89,-61.75 C304.07,-61.24 306.04,-58.82 306.43,-57.16 C306.83,-55.5 306.04,-52.57 305.25,-51.8 C304.47,-51.04 302.7,-51.16 301.71,-52.57 C300.73,-53.97 299.16,-58.69 299.36,-60.22Z" fill="#ffffff"/><path d="M148,-43.38 C148.9,-44.4 152.52,-43.51 153.89,-42.62 C155.27,-41.72 156.45,-39.3 156.25,-38.03 C156.06,-36.75 154.01,-35.22 152.71,-34.96 C151.42,-34.71 149.25,-35.09 148.47,-36.49 C147.68,-37.9 147.09,-42.36 148,-43.38Z" fill="#ffc800"/><path d="M223.5,-56.39 C224.29,-57.03 230.38,-56.78 231.76,-55.63 C233.14,-54.48 232.55,-50.14 231.76,-49.51 C230.97,-48.87 228.42,-50.65 227.04,-51.8 C225.66,-52.95 222.72,-55.76 223.5,-56.39Z" fill="#ffc800"/><path d="M162.15,-3.58 C163.33,-4.6 166.09,-4.6 169.23,-5.11 C172.38,-5.62 177.1,-6.13 181.03,-6.64 C184.96,-7.15 188.89,-7.66 192.83,-8.17 C196.76,-8.68 200.69,-9.19 204.63,-9.71 C208.56,-10.22 212.88,-10.6 216.42,-11.24 C219.96,-11.87 223.31,-13.02 225.86,-13.53 C228.42,-14.04 230.78,-19.02 231.76,-14.3 C232.74,-9.58 233.53,10.07 231.76,14.79 C229.99,19.51 224.48,14.41 221.14,14.02 C217.8,13.64 214.85,12.87 211.7,12.49 C208.56,12.11 205.41,12.11 202.27,11.73 C199.12,11.34 196.37,10.58 192.83,10.2 C189.29,9.81 184.96,9.69 181.03,9.43 C177.1,9.17 171.98,9.3 169.23,8.66 C166.48,8.03 165.69,6.88 164.51,5.6 C163.33,4.33 162.55,2.54 162.15,1.01 C161.76,-0.52 160.97,-2.56 162.15,-3.58Z" fill="#ffc800"/><path d="M169.23,16.62 C170.8,15.53 175.52,14.97 178.67,14.79 C181.82,14.61 184.96,15.17 188.11,15.55 C191.25,15.94 195.19,16.11 197.55,17.08 C199.91,18.05 206.98,20.66 202.27,21.37 C197.55,22.08 174.74,22.16 169.23,21.37 C163.73,20.58 167.66,17.72 169.23,16.62Z" fill="#2fbb2f"/><path d="M124.4,-9.71 C124.01,-10.98 123.61,-11.24 124.4,-12.77 C125.19,-14.3 126.76,-17.1 129.12,-18.89 C131.48,-20.68 135.41,-22.21 138.56,-23.48 C141.7,-24.76 144.85,-25.52 148,-26.54 C151.14,-27.56 154.68,-28.59 157.43,-29.61 C160.19,-30.63 162.55,-31.39 164.51,-32.67 C166.48,-33.94 168.05,-35.47 169.23,-37.26 C170.41,-39.05 170.8,-41.6 171.59,-43.38 C172.38,-45.17 172.77,-46.95 173.95,-47.98 C175.13,-49 176.7,-49.51 178.67,-49.51 C180.64,-49.51 183.39,-48.23 185.75,-47.98 C188.11,-47.72 190.47,-48.23 192.83,-47.98 C195.19,-47.72 198.33,-47.47 199.91,-46.44 C201.48,-45.42 201.87,-43.64 202.27,-41.85 C202.66,-40.07 201.48,-37.51 202.27,-35.73 C203.05,-33.94 206.2,-32.67 206.98,-31.14 C207.77,-29.61 208.16,-27.56 206.98,-26.54 C205.8,-25.52 202.66,-25.52 199.91,-25.01 C197.15,-24.5 193.61,-23.99 190.47,-23.48 C187.32,-22.97 184.18,-22.72 181.03,-21.95 C177.88,-21.19 174.34,-19.91 171.59,-18.89 C168.84,-17.87 166.09,-17.1 164.51,-15.83 C162.94,-14.55 163.14,-12.77 162.15,-11.24 C161.17,-9.71 159.79,-8.17 158.61,-6.64 C157.43,-5.11 156.06,-3.58 155.07,-2.05 C154.09,-0.52 153.89,1.52 152.71,2.54 C151.53,3.56 149.96,4.07 148,4.07 C146.03,4.07 143.28,3.31 140.92,2.54 C138.56,1.78 136.2,0.76 133.84,-0.52 C131.48,-1.8 128.33,-3.58 126.76,-5.11 C125.19,-6.64 124.79,-8.43 124.4,-9.71Z" fill="#2fbb2f"/><path d="M152.71,-54.1 C153.3,-54.99 157.83,-55.12 159.79,-54.86 C161.76,-54.61 164.12,-53.46 164.51,-52.57 C164.91,-51.67 163.53,-50.02 162.15,-49.51 C160.78,-49 157.83,-48.74 156.25,-49.51 C154.68,-50.27 152.12,-53.21 152.71,-54.1Z" fill="#2fbb2f"/><path d="M228.8,-15.06 C231.05,-16.47 232.66,-18.63 233.76,-20.42 C234.86,-22.21 234.86,-23.99 235.41,-25.78 C235.96,-27.56 236.24,-30.06 237.06,-31.14 C237.89,-32.21 239.23,-32.97 240.37,-32.21 C241.51,-31.44 242.53,-28 243.9,-26.54 C245.28,-25.09 247.05,-24.5 248.62,-23.48 C250.2,-22.46 251.77,-21.44 253.34,-20.42 C254.92,-19.4 256.49,-18.38 258.06,-17.36 C259.64,-16.34 261.01,-15.19 262.78,-14.3 C264.55,-13.4 266.71,-12.64 268.68,-12 C270.65,-11.36 273.01,-11.11 274.58,-10.47 C276.15,-9.83 277.14,-9.32 278.12,-8.17 C279.1,-7.03 279.89,-5.37 280.48,-3.58 C281.07,-1.8 281.46,0.5 281.66,2.54 C281.85,4.58 281.26,6.62 281.66,8.66 C282.05,10.71 283.23,12.67 284.02,14.79 C284.8,16.91 298.57,20.27 286.38,21.37 C274.19,22.47 223.46,26.8 210.87,21.37 C198.29,15.94 209.3,-5.67 210.87,-11.24 C212.44,-16.8 217.32,-11.36 220.31,-12 C223.3,-12.64 226.56,-13.66 228.8,-15.06Z" fill="#ffc800"/><path d="M288.74,-40.32 C289.72,-41.47 292.28,-41.47 293.46,-41.09 C294.64,-40.7 296.01,-39.3 295.82,-38.03 C295.62,-36.75 293.65,-34.07 292.28,-33.43 C290.9,-32.79 288.15,-33.05 287.56,-34.2 C286.97,-35.35 287.75,-39.17 288.74,-40.32Z" fill="#ffc800"/><path d="M300.53,-37.26 C301.52,-38.28 305.84,-39.05 307.61,-38.79 C309.38,-38.54 311.15,-36.88 311.15,-35.73 C311.15,-34.58 309.19,-32.41 307.61,-31.9 C306.04,-31.39 302.89,-31.77 301.71,-32.67 C300.53,-33.56 299.55,-36.24 300.53,-37.26Z" fill="#ffc800"/><path d="M309.97,-29.61 C310.76,-30.63 315.09,-31.26 317.05,-31.14 C319.02,-31.01 321.57,-29.86 321.77,-28.84 C321.97,-27.82 319.8,-25.65 318.23,-25.01 C316.66,-24.38 313.71,-24.25 312.33,-25.01 C310.96,-25.78 309.19,-28.59 309.97,-29.61Z" fill="#ffc800"/><path d="M265.14,-28.07 C265.73,-28.97 269.47,-29.1 271.04,-28.84 C272.61,-28.59 274.38,-27.44 274.58,-26.54 C274.78,-25.65 273.4,-23.99 272.22,-23.48 C271.04,-22.97 268.68,-22.72 267.5,-23.48 C266.32,-24.25 264.55,-27.18 265.14,-28.07Z" fill="#ffc800"/><path d="M326.49,14.79 C328.06,13.44 333.57,13 335.93,13.26 C338.29,13.51 340.25,14.97 340.65,16.32 C341.04,17.67 340.65,20.53 338.29,21.37 C335.93,22.21 328.46,22.47 326.49,21.37 C324.52,20.27 324.92,16.14 326.49,14.79Z" fill="#ffc800"/><path d="M338.29,-68.64 C339.86,-69.41 346.35,-69.92 350.09,-70.17 C353.82,-70.43 358.93,-72.34 360.7,-70.17 C362.47,-68 361.69,-58.82 360.7,-57.16 C359.72,-55.5 356.97,-59.07 354.81,-60.22 C352.64,-61.37 350.09,-63.16 347.73,-64.05 C345.37,-64.94 342.22,-64.81 340.65,-65.58 C339.07,-66.35 336.72,-67.88 338.29,-68.64Z" fill="#ffc800"/><path d="M305.25,-61.75 C307.42,-62.39 313.12,-62.39 317.05,-62.52 C320.98,-62.65 324.92,-62.7 328.85,-62.52 C332.78,-62.34 337.11,-61.88 340.65,-61.45 C344.19,-61.01 348.43,-60.89 350.09,-59.92 C351.74,-58.95 350.48,-56.98 350.56,-55.63 C350.64,-54.28 351.23,-53.21 350.56,-51.8 C349.89,-50.4 348.99,-48.1 346.55,-47.21 C344.11,-46.32 339.27,-46.44 335.93,-46.44 C332.59,-46.44 329.24,-47.16 326.49,-47.21 C323.74,-47.26 321.77,-47.13 319.41,-46.75 C317.05,-46.37 314.5,-44.96 312.33,-44.91 C310.17,-44.86 308.01,-45.17 306.43,-46.44 C304.86,-47.72 303.29,-50.53 302.89,-52.57 C302.5,-54.61 303.68,-57.16 304.07,-58.69 C304.47,-60.22 303.09,-61.11 305.25,-61.75Z" fill="#2fbb2f"/><path d="M152.94,-55.78 C153.58,-56.48 156.18,-56.9 157.48,-56.62 C158.78,-56.34 158.89,-54.72 160.73,-54.09 C162.56,-53.46 167.43,-53.67 168.51,-52.83 C169.6,-51.99 168.3,-49.81 167.22,-49.04 C166.13,-48.27 163.97,-48.06 162.02,-48.2 C160.08,-48.34 156.94,-49.18 155.53,-49.88 C154.13,-50.58 154.02,-51.43 153.58,-52.41 C153.15,-53.39 152.29,-55.08 152.94,-55.78Z" fill="#2fbb2f"/><path d="M191.88,-45.67 C193.4,-46.65 197.07,-46.65 199.67,-46.51 C202.27,-46.37 205.3,-45.53 207.46,-44.83 C209.62,-44.13 210.71,-42.58 212.65,-42.3 C214.6,-42.02 218.06,-44.69 219.14,-43.14 C220.23,-41.6 220.66,-34.58 219.14,-33.04 C217.63,-31.49 212.87,-33.46 210.06,-33.88 C207.24,-34.3 204.86,-35 202.27,-35.56 C199.67,-36.13 196.43,-36.41 194.48,-37.25 C192.53,-38.09 191.02,-39.21 190.58,-40.62 C190.15,-42.02 190.37,-44.69 191.88,-45.67Z" fill="#7fd77f"/><path d="M197.07,-43.14 C197.51,-43.92 200.54,-44.27 202.27,-43.99 C204,-43.71 207.03,-42.3 207.46,-41.46 C207.89,-40.62 206.16,-39.28 204.86,-38.93 C203.57,-38.58 200.97,-38.65 199.67,-39.35 C198.37,-40.06 196.64,-42.37 197.07,-43.14Z" fill="#ffffff"/><path d="M210.06,-38.93 C210.49,-39.63 213.74,-39.92 215.25,-39.78 C216.76,-39.63 218.5,-38.93 219.14,-38.09 C219.79,-37.25 220.23,-35.14 219.14,-34.72 C218.06,-34.3 214.17,-34.86 212.65,-35.56 C211.14,-36.27 209.62,-38.23 210.06,-38.93Z" fill="#ffffff"/><path d="M100.8,-21.95 C102.18,-22.08 104.93,-21.57 106.7,-21.19 C108.47,-20.8 110.24,-20.68 111.42,-19.66 C112.6,-18.63 113.19,-16.72 113.78,-15.06 C114.37,-13.4 114.37,-11.62 114.96,-9.71 C115.55,-7.79 116.14,-5.37 117.32,-3.58 C118.5,-1.8 120.47,-0.39 122.04,1.01 C123.61,2.41 125.97,3.31 126.76,4.84 C127.55,6.37 127.55,8.54 126.76,10.2 C125.97,11.85 124.4,13.89 122.04,14.79 C119.68,15.68 115.75,15.55 112.6,15.55 C109.46,15.55 105.52,15.43 103.16,14.79 C100.8,14.15 99.23,17.59 98.44,11.73 C97.66,5.86 98.05,-14.81 98.44,-20.42 C98.84,-26.03 99.43,-21.82 100.8,-21.95Z" fill="#ff8000"/><path d="M150.35,-39.56 C150.75,-40.14 153.19,-39.99 153.89,-39.56 C154.6,-39.12 155,-37.54 154.6,-36.95 C154.21,-36.37 152.24,-35.6 151.53,-36.04 C150.83,-36.47 149.96,-38.97 150.35,-39.56Z" fill="#ff8000"/><path d="M164.51,-1.29 C165.69,-2.31 170.41,-2.94 173.95,-3.58 C177.49,-4.22 181.82,-4.6 185.75,-5.11 C189.68,-5.62 193.61,-6.13 197.55,-6.64 C201.48,-7.15 205.41,-7.66 209.34,-8.17 C213.28,-8.68 217.41,-9.19 221.14,-9.71 C224.88,-10.22 229.99,-15.19 231.76,-11.24 C233.53,-7.28 233.53,10.07 231.76,14.02 C229.99,17.98 224.48,13 221.14,12.49 C217.8,11.98 214.85,11.47 211.7,10.96 C208.56,10.45 205.41,9.81 202.27,9.43 C199.12,9.05 196.37,9.17 192.83,8.66 C189.29,8.15 184.57,7.01 181.03,6.37 C177.49,5.73 173.95,5.48 171.59,4.84 C169.23,4.2 168.05,3.56 166.87,2.54 C165.69,1.52 163.33,-0.27 164.51,-1.29Z" fill="#ff8000"/><path d="M171.59,18.16 C172.77,17.31 176.31,16.42 178.67,16.32 C181.03,16.22 183.98,16.7 185.75,17.54 C187.52,18.39 191.65,20.73 189.29,21.37 C186.93,22.01 174.54,21.91 171.59,21.37 C168.64,20.83 170.41,19 171.59,18.16Z" fill="#0c8f3b"/><path d="M126.76,-14.3 C127.74,-16.08 131.08,-17.61 133.84,-18.89 C136.59,-20.17 140.13,-20.93 143.28,-21.95 C146.42,-22.97 149.57,-24.12 152.71,-25.01 C155.86,-25.91 159.6,-27.05 162.15,-27.31 C164.71,-27.56 167.27,-27.44 168.05,-26.54 C168.84,-25.65 167.85,-23.48 166.87,-21.95 C165.89,-20.42 163.33,-18.89 162.15,-17.36 C160.97,-15.83 160.38,-14.55 159.79,-12.77 C159.2,-10.98 159.6,-8.3 158.61,-6.64 C157.63,-4.99 155.66,-3.84 153.89,-2.82 C152.12,-1.8 150.16,-0.78 148,-0.52 C145.83,-0.27 143.28,-0.78 140.92,-1.29 C138.56,-1.8 136,-2.43 133.84,-3.58 C131.67,-4.73 129.12,-6.39 127.94,-8.17 C126.76,-9.96 125.78,-12.51 126.76,-14.3Z" fill="#0c8f3b"/><path d="M175.13,-44.15 C175.52,-45.04 178.28,-45.81 179.85,-45.68 C181.42,-45.55 183.98,-44.28 184.57,-43.38 C185.16,-42.49 184.57,-40.83 183.39,-40.32 C182.21,-39.81 178.87,-39.68 177.49,-40.32 C176.11,-40.96 174.74,-43.26 175.13,-44.15Z" fill="#0c8f3b"/><path d="M230.38,-16.13 C232.51,-17.49 234.14,-18.1 235.41,-19.35 C236.68,-20.6 237.46,-21.85 238.01,-23.64 C238.56,-25.42 238.05,-28.81 238.71,-30.06 C239.38,-31.32 240.64,-31.49 242.02,-31.14 C243.39,-30.78 245.48,-29.45 246.97,-27.92 C248.47,-26.39 249.53,-23.71 250.98,-21.95 C252.44,-20.19 254.52,-18.89 255.7,-17.36 C256.88,-15.83 256.49,-14.04 258.06,-12.77 C259.64,-11.49 262.78,-10.73 265.14,-9.71 C267.5,-8.68 270.65,-7.92 272.22,-6.64 C273.79,-5.37 274.58,-3.58 274.58,-2.05 C274.58,-0.52 273.79,1.52 272.22,2.54 C270.65,3.56 267.89,3.56 265.14,4.07 C262.39,4.58 258.06,4.84 255.7,5.6 C253.34,6.37 251.38,7.64 250.98,8.66 C250.59,9.69 251.38,10.96 253.34,11.73 C255.31,12.49 259.64,12.87 262.78,13.26 C265.93,13.64 269.86,13.26 272.22,14.02 C274.58,14.79 275.76,16.62 276.94,17.85 C278.12,19.07 290.31,20.78 279.3,21.37 C268.29,21.96 222.28,26.55 210.87,21.37 C199.47,16.19 208.9,-4.27 210.87,-9.71 C212.84,-15.14 219.42,-10.16 222.67,-11.24 C225.92,-12.31 228.26,-14.78 230.38,-16.13Z" fill="#ff8000"/><path d="M314.69,-28.07 C314.97,-28.66 317.45,-29.1 318.23,-28.84 C319.02,-28.59 319.69,-27.13 319.41,-26.54 C319.14,-25.96 317.37,-25.06 316.58,-25.32 C315.79,-25.57 314.42,-27.49 314.69,-28.07Z" fill="#ff8000"/><path d="M273.4,-61.75 C274.19,-62.14 277.14,-62.14 278.12,-61.75 C279.1,-61.37 279.69,-60.09 279.3,-59.46 C278.91,-58.82 276.74,-57.93 275.76,-57.93 C274.78,-57.93 273.79,-58.82 273.4,-59.46 C273.01,-60.09 272.61,-61.37 273.4,-61.75Z" fill="#ff8000"/><path d="M345.37,-69.41 C346.35,-70.04 352.25,-70.04 354.81,-70.17 C357.36,-70.3 359.72,-71.58 360.7,-70.17 C361.69,-68.77 361.69,-62.77 360.7,-61.75 C359.72,-60.73 356.77,-63.28 354.81,-64.05 C352.84,-64.81 350.48,-65.45 348.91,-66.35 C347.33,-67.24 344.38,-68.77 345.37,-69.41Z" fill="#ff8000"/><path d="M308.79,-59.46 C310.17,-60.35 314.1,-60.09 317.05,-60.22 C320,-60.35 323.34,-60.35 326.49,-60.22 C329.64,-60.09 333.18,-59.97 335.93,-59.46 C338.68,-58.95 342.02,-58.31 343.01,-57.16 C343.99,-56.01 343.4,-53.72 341.83,-52.57 C340.25,-51.42 336.52,-50.78 333.57,-50.27 C330.62,-49.76 326.88,-49.76 324.13,-49.51 C321.38,-49.25 319.21,-48.49 317.05,-48.74 C314.89,-49 312.53,-50.02 311.15,-51.04 C309.78,-52.06 309.19,-53.46 308.79,-54.86 C308.4,-56.27 307.42,-58.56 308.79,-59.46Z" fill="#0c8f3b"/><path d="M103.16,1.01 C104.15,-0.14 107.88,-0.01 110.24,0.25 C112.6,0.5 114.96,1.9 117.32,2.54 C119.68,3.18 123.22,3.18 124.4,4.07 C125.58,4.97 125.58,7.01 124.4,7.9 C123.22,8.79 119.68,9.3 117.32,9.43 C114.96,9.56 112.4,9.05 110.24,8.66 C108.08,8.28 105.52,8.41 104.34,7.13 C103.16,5.86 102.18,2.16 103.16,1.01Z" fill="#ff2000"/><path d="M176.31,-2.82 C177.49,-3.71 182.21,-3.96 185.75,-4.35 C189.29,-4.73 193.61,-4.86 197.55,-5.11 C201.48,-5.37 205.41,-5.37 209.34,-5.88 C213.28,-6.39 217.41,-7.66 221.14,-8.17 C224.88,-8.68 229.99,-11.24 231.76,-8.94 C233.53,-6.64 232.74,3.05 231.76,5.6 C230.78,8.15 228.02,6.62 225.86,6.37 C223.7,6.11 221.14,4.2 218.78,4.07 C216.42,3.94 214.06,5.35 211.7,5.6 C209.34,5.86 206.98,5.73 204.63,5.6 C202.27,5.48 199.91,5.09 197.55,4.84 C195.19,4.58 192.83,4.45 190.47,4.07 C188.11,3.69 185.36,3.05 183.39,2.54 C181.42,2.03 179.85,1.9 178.67,1.01 C177.49,0.12 175.13,-1.92 176.31,-2.82Z" fill="#ff2000"/><path d="M131.48,-15.83 C132.66,-16.85 136.2,-17.87 138.56,-18.89 C140.92,-19.91 143.28,-21.19 145.64,-21.95 C148,-22.72 150.75,-23.35 152.71,-23.48 C154.68,-23.61 156.84,-23.48 157.43,-22.72 C158.02,-21.95 157.04,-20.29 156.25,-18.89 C155.47,-17.49 154.09,-15.57 152.71,-14.3 C151.34,-13.02 149.57,-11.87 148,-11.24 C146.42,-10.6 145.24,-10.47 143.28,-10.47 C141.31,-10.47 138.16,-10.85 136.2,-11.24 C134.23,-11.62 132.26,-12 131.48,-12.77 C130.69,-13.53 130.3,-14.81 131.48,-15.83Z" fill="#05706c"/><path d="M227.39,-12.77 C228.57,-14.81 232.11,-14.3 234.47,-14.3 C236.83,-14.3 239.58,-13.79 241.55,-12.77 C243.51,-11.75 246.26,-9.71 246.26,-8.17 C246.26,-6.64 243.51,-4.6 241.55,-3.58 C239.58,-2.56 236.83,-2.31 234.47,-2.05 C232.11,-1.8 228.57,-0.27 227.39,-2.05 C226.21,-3.84 226.21,-10.73 227.39,-12.77Z" fill="#ff2000"/><path d="M241.55,12.49 C244.3,11.47 247.84,11.47 250.98,11.73 C254.13,11.98 257.67,13.26 260.42,14.02 C263.17,14.79 265.93,15.09 267.5,16.32 C269.07,17.54 274.97,20.53 269.86,21.37 C264.75,22.21 242.73,21.96 236.83,21.37 C230.93,20.78 233.68,19.33 234.47,17.85 C235.25,16.37 238.79,13.51 241.55,12.49Z" fill="#ff2000"/><path d="M240.37,-29.61 C240.76,-30.5 243.51,-30.88 245.08,-30.37 C246.66,-29.86 248.62,-27.95 249.8,-26.54 C250.98,-25.14 252.56,-22.84 252.16,-21.95 C251.77,-21.06 249.02,-20.68 247.44,-21.19 C245.87,-21.7 243.9,-23.61 242.73,-25.01 C241.55,-26.42 239.97,-28.71 240.37,-29.61Z" fill="#ff2000"/><path d="M351.27,-70.17 C352.05,-70.94 359.13,-71.83 360.7,-70.94 C362.28,-70.04 361.49,-65.58 360.7,-64.81 C359.92,-64.05 357.56,-65.45 355.99,-66.35 C354.41,-67.24 350.48,-69.41 351.27,-70.17Z" fill="#ff2000"/><path d="M312.33,-57.16 C313.51,-58.18 318.63,-58.44 321.77,-58.69 C324.92,-58.95 328.46,-59.07 331.21,-58.69 C333.96,-58.31 337.31,-57.42 338.29,-56.39 C339.27,-55.37 338.68,-53.33 337.11,-52.57 C335.54,-51.8 331.41,-51.93 328.85,-51.8 C326.29,-51.67 324.13,-51.67 321.77,-51.8 C319.41,-51.93 316.27,-51.67 314.69,-52.57 C313.12,-53.46 311.15,-56.14 312.33,-57.16Z" fill="#05706c"/><g fill="#cdcdcd" stroke="#8c8c8c" stroke-width="0.5" vector-effect="non-scaling-stroke" stroke-linejoin="round"><path d="M95,-75 L180,-75 L180.8,-69.4 L179.5,-66 L178.5,-64.8 L176,-63.3 L169,-62.5 L164,-62 L163.5,-60 L163.5,-58 L162,-56 L161,-54 L158.5,-52.5 L156.7,-51 L156,-52.5 L156,-57 L155,-57.5 L150,-57.5 L145,-57.2 L141,-57 L138,-56 L137,-54 L140,-53.5 L141.2,-53 L141.5,-52 L140.5,-49 L140,-48 L138,-46 L135,-43.5 L132,-43 L130.7,-42.3 L129.7,-40.8 L129.5,-40.5 L128,-39 L129.4,-37 L129.3,-35.3 L127.5,-34.6 L126.3,-34.5 L126.5,-36 L126.6,-37.5 L125,-38 L125,-39.5 L124.5,-39.9 L122,-40.5 L121.2,-38.8 L121.7,-39.8 L121.5,-40.8 L119.5,-39.8 L118,-39 L117.7,-38.3 L119,-37.2 L120.5,-37.8 L122.5,-37.4 L121,-36.5 L120,-35.5 L119.5,-34.5 L120.5,-33 L121.5,-32 L121.9,-30.9 L122,-30 L121.5,-28.5 L120.5,-27 L119.5,-25.5 L118.5,-24.5 L117,-23.5 L116,-22.8 L114,-22.3 L113.5,-22.2 L111.5,-21.5 L110.5,-20.4 L110,-21.5 L108.5,-21.6 L106.4,-21 L105.5,-17 L104.4,-13.3 L101.1,-10.4 L99,-8 L95,-8 L95,-75Z" vector-effect="non-scaling-stroke"/><path d="M108.6,-19.1 L109.5,-18.2 L110.5,-18.6 L111,-19.6 L110.5,-20.1 L109.6,-20 L108.7,-19.5Z" vector-effect="non-scaling-stroke"/><path d="M120.1,-23 L120.7,-22 L121,-22.5 L121.9,-24.5 L121.5,-25.3 L121,-25 L120.2,-23.8Z" vector-effect="non-scaling-stroke"/><path d="M129.8,-33.3 L130.3,-31.2 L131,-31.3 L131.8,-32.5 L132,-33.5 L131,-33.9 L130.5,-33.9Z" vector-effect="non-scaling-stroke"/><path d="M132.4,-33.3 L133.5,-33.2 L134.7,-33.8 L134.2,-34.3 L133,-34.1Z" vector-effect="non-scaling-stroke"/><path d="M131,-34.3 L132.5,-35.3 L135,-35.7 L136,-35.9 L136.8,-37.3 L138,-37.2 L139.5,-38.5 L140,-40 L140.3,-41.3 L141.4,-41.4 L141.5,-40 L142,-39.4 L141,-38.3 L141,-37 L140.8,-35.7 L140,-35 L139.2,-35.2 L138.7,-34.6 L137,-34.6 L136.8,-34.3 L135.8,-33.5 L135.1,-34.3 L134,-34.6 L132.5,-34.1 L131.2,-33.9Z" vector-effect="non-scaling-stroke"/><path d="M140,-41.6 L141,-41.8 L141.5,-42.6 L143.3,-41.9 L144.5,-42.9 L145.8,-43.3 L145.2,-44.1 L144,-44.1 L142.5,-45.4 L141.7,-45.4 L141.8,-44 L141.3,-43.2 L140.3,-43.3 L140.1,-42.3Z" vector-effect="non-scaling-stroke"/><path d="M142,-46 L143.5,-46.2 L143,-47.5 L142.7,-49.5 L143.2,-51.5 L143,-53.5 L142.6,-54.3 L142.2,-53.4 L141.7,-51 L142,-48 L141.9,-46.6Z" vector-effect="non-scaling-stroke"/><path d="M120.6,-18.5 L122.2,-18.5 L122.3,-17 L121.6,-15.8 L121.6,-14.3 L122.5,-14 L124,-13 L124.2,-12.6 L123.3,-12.9 L122,-13.7 L120.7,-13.8 L120.6,-14.5 L120,-15.3 L119.8,-16.3 L120.4,-16.7Z" vector-effect="non-scaling-stroke"/><path d="M122,-7 L123.5,-7.5 L124,-7.1 L125.4,-5.7 L126.3,-6.3 L126.6,-7.3 L126.2,-9 L125.5,-9.8 L124.5,-8.6 L123.5,-8.6 L122.2,-7.6Z" vector-effect="non-scaling-stroke"/><path d="M124.5,-12.5 L125.7,-11.2 L125,-10 L124.3,-10.2 L123.3,-10.6 L122,-10.5 L121.9,-11.8 L123,-11.7 L124,-12.5Z" vector-effect="non-scaling-stroke"/><path d="M117.2,-8.4 L118.5,-9.3 L119.6,-10.5 L119.3,-11 L118,-10 L117.1,-8.6Z" vector-effect="non-scaling-stroke"/><path d="M120.3,-13.5 L121.5,-13.2 L121.2,-12.2 L120.4,-12.6Z" vector-effect="non-scaling-stroke"/><path d="M109,-1.5 L109.6,-2 L111,-1.7 L113,-3.1 L114,-4.6 L115.3,-5 L116,-6 L117,-7 L117.7,-6.2 L119.2,-5.3 L118,-4.5 L117.8,-3.5 L118,-2 L118.9,-1 L117.8,-0.8 L117.5,0.5 L116.6,1.5 L116.3,3.5 L114.5,4 L113,3.3 L111.5,3 L110.3,2.9 L110,1.5 L109.2,0.5Z" vector-effect="non-scaling-stroke"/><path d="M119.5,5.5 L120.5,5.5 L120.4,3 L121.2,2.8 L121.5,4.6 L122.8,4.7 L122,3 L122.5,1.5 L121,1.4 L120.7,-0.5 L123,-0.5 L124.5,-1 L125.2,-1.5 L124.3,-0.3 L121.5,-0.5 L120,-0.8 L119.7,0.5 L118.8,2.7 L119.5,3.5Z" vector-effect="non-scaling-stroke"/><path d="M95.3,-5.6 L97.5,-5.2 L98.7,-3.8 L100.4,-2.2 L101.5,-1.7 L103.5,0.5 L104.5,2 L106,3 L105.9,5.8 L104.5,5.7 L102,4 L100.5,1.5 L99,-0.2 L97.5,-2.2 L96,-4Z" vector-effect="non-scaling-stroke"/><path d="M105.2,6.8 L106,5.9 L108.3,6.3 L110.5,6.8 L112.6,6.9 L114.5,7.7 L114.4,8.7 L112,8.3 L108.5,7.8 L106.4,7.4 L105.5,6.9Z" vector-effect="non-scaling-stroke"/><path d="M115,8.2 L116.5,8.5 L119,8.3 L121,8.4 L123,8.3 L125,8.3 L127,8.5 L127.2,8.9 L125,9.5 L124,10.2 L123.5,10.3 L121,8.8 L119,8.8 L116.5,9 L115,8.8Z" vector-effect="non-scaling-stroke"/><path d="M127.5,-1.5 L128.5,-2 L128.2,-0.5 L128.7,0.7 L127.5,0.8 L127.7,-0.8Z" vector-effect="non-scaling-stroke"/><path d="M128,3 L130.8,3.3 L130.5,3.8 L128.2,3.7Z" vector-effect="non-scaling-stroke"/><path d="M126,3.2 L127.2,3.3 L127,3.8 L126.1,3.7Z" vector-effect="non-scaling-stroke"/><path d="M131,1 L132.5,0.4 L134,0.8 L135,3.3 L137.5,1.5 L140,2.4 L144.5,3.8 L146,5.5 L147.5,6 L147.7,8 L150,10.2 L148,10.2 L146,8 L144,7.7 L143,9 L141,9.2 L139,8.1 L138,8.4 L137.7,6 L135,4.4 L134,4 L133,4.1 L132,2.9 L133.5,2.2 L132,2 L131,1.4Z" vector-effect="non-scaling-stroke"/><path d="M148.5,5.5 L151,5 L152,4.2 L152.4,5.5 L150.5,6.2 L148.8,6.2Z" vector-effect="non-scaling-stroke"/><path d="M150.5,2.5 L152,3.5 L153,4.6 L152.5,4.5 L151,3Z" vector-effect="non-scaling-stroke"/><path d="M155,6 L157,7.5 L159,8 L161,9.5 L162,10.5 L160,9.5 L157,8.5 L155.5,7Z" vector-effect="non-scaling-stroke"/><path d="M177.5,17.5 L178.6,17.7 L178.4,18.2 L177.3,18.1Z" vector-effect="non-scaling-stroke"/><path d="M113.5,22 L114,21.8 L116.7,20.6 L119,20 L121,19.5 L122.3,18 L122.2,17 L123.5,16.3 L124.5,15.3 L126,14 L127.5,14 L128.2,15 L129.5,14.8 L129.8,13.5 L130.6,12.4 L132,11.5 L133,11.6 L134,11.9 L135.5,12.1 L136.7,12 L136.5,13.3 L135.9,14.8 L137,15.8 L139,17 L140.8,17.4 L141.6,15 L141.5,13 L142,11 L142.5,10.7 L143.5,12.5 L143.7,14 L145.3,14.9 L145.4,16.4 L146.1,17.8 L146.3,19 L148.8,20.3 L149.5,22 L150,23 L145,25 L113,25Z" vector-effect="non-scaling-stroke"/><path d="M204.2,-19.9 L205,-19.5 L204.5,-18.9 L204,-19.3Z" vector-effect="non-scaling-stroke"/><path d="M203.4,-21 L204,-20.7 L203.6,-20.5Z" vector-effect="non-scaling-stroke"/><path d="M201.8,-21.6 L202.3,-21.4 L201.9,-21.3Z" vector-effect="non-scaling-stroke"/><path d="M186,-69.4 L186,-75 L266,-75 L277,-75 L275,-70 L277,-69.5 L277.5,-68 L276.5,-67 L275.3,-66.6 L274.5,-66 L273,-65.8 L272,-65.3 L270.5,-64.5 L269.5,-63.5 L267.5,-62.5 L266,-61.5 L265.5,-60 L265.5,-58.8 L266.5,-58.7 L267,-57.5 L268,-57 L270,-57 L272,-56 L273.5,-55.4 L275,-55.3 L277,-55.2 L278.5,-54.5 L281.3,-54.5 L282.5,-55.3 L283.5,-56.5 L283.7,-57.5 L283,-58.5 L282,-59.7 L282,-61 L282.5,-62.3 L283,-62.5 L285,-62.3 L287,-61.8 L289,-61 L290.3,-60 L290,-59 L290.5,-58.5 L292,-58.2 L293,-58.8 L294,-59.3 L295.5,-60.3 L296,-59.5 L297.5,-58.5 L298,-57.5 L298,-56.5 L299,-56 L300.5,-55.3 L302.5,-54.5 L303.5,-53.5 L304.5,-52.5 L304,-52 L303,-51.5 L301.5,-51 L300,-50.3 L298.5,-50.2 L296,-50.2 L293.5,-50 L292.5,-49.3 L291.5,-48.7 L290,-48 L289,-47.2 L288.5,-46.8 L289.5,-47 L290.5,-47.8 L292,-48.2 L293.5,-48.8 L294.5,-48.9 L295.8,-48.7 L295.3,-47.8 L295,-47 L295.5,-46.2 L296,-46.2 L296.5,-45.8 L298,-45.7 L298.5,-46 L299,-46.8 L299.6,-47 L300,-46 L299,-45.2 L298,-44.6 L296.5,-44.3 L295.5,-43.5 L294.3,-43.5 L294,-44.5 L295.5,-45 L295.5,-45.7 L295,-45.3 L294.5,-45.3 L293.8,-45 L293,-44.7 L291.7,-44.3 L290.5,-43.7 L289.5,-43 L289.8,-42 L290,-41.7 L289,-41.2 L287.5,-40.7 L286,-40.5 L285.5,-39.5 L285,-38.8 L284.5,-38 L284,-37 L284.2,-36 L284.3,-35.2 L282.5,-34.5 L281.5,-33.7 L280,-32.5 L279,-31.5 L278.7,-30.3 L279.5,-28.5 L280,-27 L279.9,-25.8 L279.3,-25.2 L278.5,-25.3 L278,-26.5 L277.7,-27.5 L277.3,-28.5 L275.8,-29.8 L274,-30 L272.5,-30.4 L271,-30 L270.8,-29 L269,-29.3 L268,-29.6 L266.5,-29.7 L265.2,-29.3 L263.7,-28 L263,-27 L262.5,-25.5 L262.3,-23.5 L262.7,-21.3 L264,-19.3 L265.5,-18.3 L266.5,-18.6 L268.3,-18.6 L269.5,-19.8 L269.8,-21.2 L271.5,-21.4 L273,-21.5 L272.5,-18.5 L271.8,-17.5 L272,-16.2 L273,-15.8 L275,-16 L276.8,-15 L276.5,-14 L276.5,-12 L277.5,-10.5 L279,-9 L280,-9.5 L281,-9.2 L282.5,-9.2 L283,-10 L284,-11 L285.5,-11.5 L287,-12.3 L288,-11.5 L287.7,-11 L288.5,-11.6 L289.5,-12.2 L290,-11.3 L292,-10.6 L295,-10.5 L297,-10.6 L298.5,-10.2 L300,-8.6 L301,-7.7 L303,-6.7 L305,-5.9 L307.5,-5.7 L309,-4 L310,-2 L310.5,-0.5 L311.5,0.5 L314,0.3 L316,1 L318,1.5 L320,2.5 L322.7,3.7 L324,5 L325,5.5 L325,7.5 L324,9 L322.5,11 L321,13 L321,16 L320.5,18.5 L319.5,20 L320,25 L289.8,25 L289.7,20 L288.5,18 L287.5,17 L286,16 L284.5,15 L283.5,13.3 L282,11 L281,9 L280.2,7.5 L279,6 L278.7,4.5 L279,3 L279.7,2.2 L279.9,0 L281,-1.2 L282,-2.5 L282.5,-4 L282.3,-6 L281.5,-7.5 L280.8,-8.5 L280,-8.5 L279.5,-7.5 L278,-8 L277,-8.2 L275.5,-9.2 L274.3,-10 L273.5,-11 L272.5,-12.5 L270.5,-13.3 L269,-14 L268,-15 L267,-16.1 L265.5,-15.8 L264,-16 L262,-16.8 L260,-17.5 L258.5,-18 L257,-18.5 L255.5,-19.2 L254.6,-20.5 L254.5,-21.5 L253.5,-23 L252.5,-24 L251.5,-25.5 L251,-26.5 L250,-27.5 L249,-28.5 L248,-29 L247.5,-30 L246.5,-31.5 L245.2,-31.7 L245.5,-30.5 L246.2,-29 L247.5,-27.5 L248,-26.5 L249,-25.5 L249.5,-24.5 L250.5,-23.5 L249.8,-23 L248,-24.3 L246,-26 L245.2,-27 L245,-28 L244,-29.5 L243.5,-31 L242.8,-32.5 L242,-33.7 L241,-34 L239,-35 L238,-36.5 L237.5,-37.8 L236.3,-39 L235.7,-40.4 L235.6,-42 L236,-44 L235.8,-46.2 L235.3,-48.2 L235,-48.8 L232.5,-49.5 L231,-50.8 L229.5,-52.5 L228,-54 L226,-54.5 L224.8,-55.5 L223.5,-57 L222,-58 L221,-59 L219.5,-59.5 L217,-59.7 L215,-60 L213,-60.2 L211,-60.5 L209,-60.2 L208,-60.5 L205.5,-60 L202,-60 L199,-61.5 L197.3,-62.5 L195,-63.5 L192.7,-64.8 L190.5,-66.5 L189.5,-68 L189,-69.4Z" vector-effect="non-scaling-stroke"/><path d="M240,-70 L245,-69.2 L250,-69.3 L253,-69.3 L255,-70 L255,-72 L240,-72Z" vector-effect="non-scaling-stroke"/><path d="M273.5,-64 L275,-65.5 L276,-65.8 L277,-65.2 L279,-64.2 L277.5,-63.8 L276,-63.5 L274,-63.7Z" vector-effect="non-scaling-stroke"/><path d="M279.5,-70 L279.5,-72 L292,-72 L292,-70 L293,-69 L296,-67.5 L298,-66.5 L297,-66 L294,-65 L296,-64.5 L295,-63 L293,-63.5 L292,-62.5 L288,-62.5 L286,-63.5 L283,-64.5 L282,-65.5 L287,-66.5 L285,-67.5 L280,-68.5Z" vector-effect="non-scaling-stroke"/><path d="M300.6,-47.6 L301,-48.5 L302.4,-49.5 L303,-50.5 L304.5,-51.6 L304.4,-51 L304,-49.8 L304.5,-49.5 L306,-49.5 L306.5,-48.5 L307.2,-47.6 L306.8,-46.7 L306,-47 L305.1,-47 L304.5,-47.5 L303.5,-47.6 L302,-47.6Z" vector-effect="non-scaling-stroke"/><path d="M295.5,-49.9 L298.2,-49.3 L298.2,-49.1 L295.6,-49.6Z" vector-effect="non-scaling-stroke"/><path d="M296,-46.5 L297.5,-46.9 L298,-46.4 L296.5,-46.1Z" vector-effect="non-scaling-stroke"/><path d="M306.5,-70 L306,-68.5 L306.5,-67 L307,-66 L308,-64.8 L309.2,-63.5 L310.3,-62.5 L312,-61 L314,-60.5 L316.5,-59.8 L317.5,-60.3 L318,-61 L319.5,-62.5 L320.5,-64 L322,-65.2 L323,-65.5 L325,-66 L328,-68 L331,-68.5 L334,-69 L337,-70 L337,-75 L306,-75Z" vector-effect="non-scaling-stroke"/><path d="M336,-65.5 L337.5,-66.4 L342,-66.1 L345,-66.5 L346.5,-65.3 L345.5,-64.4 L342,-63.4 L337.5,-63.8 L338,-64.5 L336,-65Z" vector-effect="non-scaling-stroke"/><path d="M354.3,-58.6 L356.8,-58.6 L358,-57.6 L358,-57 L357.8,-56 L358.5,-55.5 L358.5,-54 L359.5,-53.5 L360.3,-53 L361.7,-52.8 L361.4,-51.5 L361,-51 L359.5,-50.8 L358,-50.6 L355,-50 L354.3,-50.2 L355.5,-51.3 L356.5,-51.6 L355.5,-51.8 L354.8,-51.7 L355.7,-53 L355.4,-53.4 L357,-53.3 L357,-54 L356.6,-54.5 L355,-54.8 L354.4,-55.8 L354.2,-56.6 L354.2,-57.6Z" vector-effect="non-scaling-stroke"/><path d="M350,-51.7 L351,-51.5 L353.7,-52.1 L354,-53.3 L354.1,-54 L354.4,-54.6 L354,-55.2 L352.5,-55.3 L351.5,-54.6 L350.3,-54.2 L350.7,-53.5 L350,-53.3 L350.6,-52.5Z" vector-effect="non-scaling-stroke"/><path d="M361,-51 L360,-49.7 L358.5,-49.5 L358,-48.7 L355.5,-48.5 L356,-47.7 L357.8,-47.2 L358.8,-46 L358.7,-44.5 L358.2,-43.5 L356,-43.4 L353,-43.8 L351,-43.2 L351.2,-42 L351.2,-40.5 L350.8,-39 L351.2,-38 L351.2,-37 L352,-37 L353.5,-37.2 L354.5,-36.2 L354.6,-36 L354.4,-35.9 L353.5,-35.8 L353.2,-35 L352.5,-34 L351.5,-33.4 L350.7,-32.5 L350.5,-31.5 L350.3,-30.5 L350.2,-30 L349.2,-28.8 L347,-28 L346,-27.5 L345.3,-26.2 L344.5,-25 L344,-24 L343.4,-22.5 L343,-21 L343.9,-20 L343.6,-19.2 L344,-18 L343.8,-16.5 L343.5,-15.5 L342.6,-14.7 L343.2,-14 L343.3,-12.3 L344.5,-11.5 L345.5,-10.5 L346.5,-9.5 L347,-9 L348,-8 L349.5,-6.8 L351,-5.2 L352.5,-4.4 L354,-5 L356,-5.1 L358,-4.8 L360,-5.5 L362,-6 L365,-6 L365,-60 L361,-60Z" vector-effect="non-scaling-stroke"/><path d="M275.5,-21.8 L277,-22 L279,-23 L281,-23.2 L283,-22.5 L285,-21 L285.9,-20.2 L283.5,-19.9 L282.5,-20.5 L281,-21.5 L278.5,-21.5 L277.5,-22.3 L275.6,-21.5Z" vector-effect="non-scaling-stroke"/><path d="M285.5,-18.2 L286.5,-19.9 L288,-19.9 L289.5,-19.6 L291,-19 L291.6,-18.5 L290.5,-18.2 L288.5,-18.3 L287,-17.7 L286,-18Z" vector-effect="non-scaling-stroke"/><path d="M281.6,-18.4 L283.7,-18.4 L283.8,-17.9 L282,-18.1Z" vector-effect="non-scaling-stroke"/><path d="M292.8,-18.5 L294.3,-18.4 L294.3,-18 L292.8,-18Z" vector-effect="non-scaling-stroke"/><path d="M298.4,-10.7 L299.1,-10.8 L299,-10.1 L298.3,-10.1Z" vector-effect="non-scaling-stroke"/></g></svg><circle cx="435.7" cy="350.6" r="1.35" fill="#000"/><circle cx="440.02" cy="346.28" r="1.35" fill="#000"/><circle cx="440.02" cy="354.92" r="1.35" fill="#000"/><circle cx="444.34" cy="350.6" r="1.35" fill="#000"/><circle cx="444.34" cy="359.24" r="1.35" fill="#000"/><circle cx="448.66" cy="346.28" r="1.35" fill="#000"/><circle cx="448.66" cy="354.92" r="1.35" fill="#000"/><circle cx="448.66" cy="363.56" r="1.35" fill="#000"/><circle cx="452.98" cy="350.6" r="1.35" fill="#000"/><circle cx="452.98" cy="359.24" r="1.35" fill="#000"/><circle cx="457.3" cy="346.28" r="1.35" fill="#000"/><circle cx="457.3" cy="354.92" r="1.35" fill="#000"/><circle cx="457.3" cy="363.56" r="1.35" fill="#000"/><circle cx="461.62" cy="350.6" r="1.35" fill="#000"/><circle cx="461.62" cy="359.24" r="1.35" fill="#000"/><circle cx="461.62" cy="367.88" r="1.35" fill="#000"/><circle cx="465.94" cy="346.28" r="1.35" fill="#000"/><circle cx="465.94" cy="354.92" r="1.35" fill="#000"/><circle cx="465.94" cy="363.56" r="1.35" fill="#000"/><circle cx="470.26" cy="341.96" r="1.35" fill="#000"/><circle cx="470.26" cy="350.6" r="1.35" fill="#000"/><circle cx="470.26" cy="359.24" r="1.35" fill="#000"/><circle cx="470.26" cy="367.88" r="1.35" fill="#000"/><circle cx="474.58" cy="346.28" r="1.35" fill="#000"/><circle cx="474.58" cy="354.92" r="1.35" fill="#000"/><circle cx="474.58" cy="363.56" r="1.35" fill="#000"/><circle cx="474.58" cy="372.2" r="1.35" fill="#000"/><circle cx="478.9" cy="341.96" r="1.35" fill="#000"/><circle cx="478.9" cy="350.6" r="1.35" fill="#000"/><circle cx="478.9" cy="359.24" r="1.35" fill="#000"/><circle cx="478.9" cy="367.88" r="1.35" fill="#000"/><circle cx="483.22" cy="337.64" r="1.35" fill="#000"/><circle cx="483.22" cy="346.28" r="1.35" fill="#000"/><circle cx="483.22" cy="354.92" r="1.35" fill="#000"/><circle cx="483.22" cy="363.56" r="1.35" fill="#000"/><circle cx="483.22" cy="372.2" r="1.35" fill="#000"/><circle cx="487.54" cy="341.96" r="1.35" fill="#000"/><circle cx="487.54" cy="350.6" r="1.35" fill="#000"/><circle cx="487.54" cy="359.24" r="1.35" fill="#000"/><circle cx="487.54" cy="367.88" r="1.35" fill="#000"/><circle cx="487.54" cy="376.52" r="1.35" fill="#000"/><circle cx="491.86" cy="337.64" r="1.35" fill="#000"/><circle cx="491.86" cy="346.28" r="1.35" fill="#000"/><circle cx="491.86" cy="354.92" r="1.35" fill="#000"/><circle cx="491.86" cy="363.56" r="1.35" fill="#000"/><circle cx="491.86" cy="372.2" r="1.35" fill="#000"/><circle cx="427.06" cy="281.48" r="1.35" fill="#000"/><circle cx="444.34" cy="290.12" r="1.35" fill="#000"/><circle cx="448.66" cy="294.44" r="1.35" fill="#000"/><circle cx="427.06" cy="316.04" r="1.35" fill="#000"/><circle cx="435.7" cy="316.04" r="1.35" fill="#000"/><circle cx="422.74" cy="320.36" r="1.35" fill="#000"/><circle cx="431.38" cy="320.36" r="1.35" fill="#000"/><circle cx="418.42" cy="324.68" r="1.35" fill="#000"/><circle cx="427.06" cy="324.68" r="1.35" fill="#000"/><circle cx="405.46" cy="329" r="1.35" fill="#000"/><circle cx="414.1" cy="329" r="1.35" fill="#000"/><circle cx="401.14" cy="333.32" r="1.35" fill="#000"/><circle cx="409.78" cy="333.32" r="1.35" fill="#000"/><circle cx="418.42" cy="333.32" r="1.35" fill="#000"/><circle cx="396.82" cy="337.64" r="1.35" fill="#000"/><circle cx="405.46" cy="337.64" r="1.35" fill="#000"/><circle cx="414.1" cy="337.64" r="1.35" fill="#000"/><circle cx="422.74" cy="337.64" r="1.35" fill="#000"/><circle cx="409.78" cy="341.96" r="1.35" fill="#000"/><circle cx="418.42" cy="341.96" r="1.35" fill="#000"/><circle cx="427.06" cy="341.96" r="1.35" fill="#000"/><circle cx="405.46" cy="346.28" r="1.35" fill="#000"/><circle cx="414.1" cy="346.28" r="1.35" fill="#000"/><circle cx="409.78" cy="350.6" r="1.35" fill="#000"/><circle cx="418.42" cy="350.6" r="1.35" fill="#000"/><circle cx="383.86" cy="333.32" r="1.35" fill="#000"/><circle cx="383.86" cy="341.96" r="1.35" fill="#000"/><circle cx="379.54" cy="346.28" r="1.35" fill="#000"/><circle cx="375.22" cy="359.24" r="1.35" fill="#000"/><circle cx="383.86" cy="359.24" r="1.35" fill="#000"/><circle cx="392.5" cy="359.24" r="1.35" fill="#000"/><circle cx="388.18" cy="363.56" r="1.35" fill="#000"/><circle cx="383.86" cy="367.88" r="1.35" fill="#000"/><circle cx="392.5" cy="367.88" r="1.35" fill="#000"/><circle cx="379.54" cy="363.56" r="1.35" fill="#000"/><circle cx="440.02" cy="372.2" r="1.35" fill="#000"/><circle cx="444.34" cy="376.52" r="1.35" fill="#000"/><circle cx="452.98" cy="376.52" r="1.35" fill="#000"/><circle cx="569.62" cy="277.16" r="1.35" fill="#000"/><circle cx="573.94" cy="272.84" r="1.35" fill="#000"/><circle cx="578.26" cy="277.16" r="1.35" fill="#000"/><circle cx="582.58" cy="272.84" r="1.35" fill="#000"/><circle cx="586.9" cy="277.16" r="1.35" fill="#000"/><circle cx="573.94" cy="281.48" r="1.35" fill="#000"/><circle cx="582.58" cy="281.48" r="1.35" fill="#000"/><circle cx="595.54" cy="259.88" r="1.35" fill="#000"/><circle cx="604.18" cy="259.88" r="1.35" fill="#000"/><circle cx="535.06" cy="277.16" r="1.35" fill="#000"/><circle cx="500.5" cy="311.72" r="1.35" fill="#000"/><circle cx="504.82" cy="316.04" r="1.35" fill="#000"/><circle cx="500.5" cy="320.36" r="1.35" fill="#000"/><circle cx="509.14" cy="320.36" r="1.35" fill="#000"/><circle cx="504.82" cy="324.68" r="1.35" fill="#000"/><circle cx="500.5" cy="329" r="1.35" fill="#000"/><circle cx="496.18" cy="333.32" r="1.35" fill="#000"/><circle cx="491.86" cy="337.64" r="1.35" fill="#000"/><circle cx="500.5" cy="337.64" r="1.35" fill="#000"/><circle cx="504.82" cy="341.96" r="1.35" fill="#000"/><circle cx="491.86" cy="346.28" r="1.35" fill="#000"/><circle cx="500.5" cy="346.28" r="1.35" fill="#000"/><circle cx="509.14" cy="346.28" r="1.35" fill="#000"/><circle cx="517.78" cy="346.28" r="1.35" fill="#000"/><circle cx="522.1" cy="341.96" r="1.35" fill="#000"/><circle cx="526.42" cy="337.64" r="1.35" fill="#000"/><circle cx="496.18" cy="350.6" r="1.35" fill="#000"/><circle cx="504.82" cy="350.6" r="1.35" fill="#000"/><circle cx="513.46" cy="350.6" r="1.35" fill="#000"/><circle cx="522.1" cy="350.6" r="1.35" fill="#000"/><circle cx="530.74" cy="350.6" r="1.35" fill="#000"/><circle cx="491.86" cy="354.92" r="1.35" fill="#000"/><circle cx="500.5" cy="354.92" r="1.35" fill="#000"/><circle cx="509.14" cy="354.92" r="1.35" fill="#000"/><circle cx="517.78" cy="354.92" r="1.35" fill="#000"/><circle cx="526.42" cy="354.92" r="1.35" fill="#000"/><circle cx="496.18" cy="359.24" r="1.35" fill="#000"/><circle cx="504.82" cy="359.24" r="1.35" fill="#000"/><circle cx="513.46" cy="359.24" r="1.35" fill="#000"/><circle cx="491.86" cy="363.56" r="1.35" fill="#000"/><circle cx="500.5" cy="363.56" r="1.35" fill="#000"/><circle cx="509.14" cy="363.56" r="1.35" fill="#000"/><circle cx="517.78" cy="363.56" r="1.35" fill="#000"/><circle cx="535.06" cy="363.56" r="1.35" fill="#000"/><circle cx="496.18" cy="367.88" r="1.35" fill="#000"/><circle cx="504.82" cy="367.88" r="1.35" fill="#000"/><circle cx="513.46" cy="367.88" r="1.35" fill="#000"/><circle cx="491.86" cy="372.2" r="1.35" fill="#000"/><circle cx="500.5" cy="372.2" r="1.35" fill="#000"/><circle cx="509.14" cy="372.2" r="1.35" fill="#000"/><circle cx="517.78" cy="372.2" r="1.35" fill="#000"/><circle cx="526.42" cy="372.2" r="1.35" fill="#000"/><circle cx="496.18" cy="376.52" r="1.35" fill="#000"/><circle cx="504.82" cy="376.52" r="1.35" fill="#000"/><circle cx="513.46" cy="376.52" r="1.35" fill="#000"/><circle cx="522.1" cy="376.52" r="1.35" fill="#000"/><circle cx="530.74" cy="376.52" r="1.35" fill="#000"/><circle cx="539.38" cy="376.52" r="1.35" fill="#000"/>
<rect x="373.4" y="255.3" width="233.9" height="124.8" fill="none" stroke="#2a2a2a" stroke-width="1.1" />
<line x1="368.8" y1="269.17" x2="373.4" y2="269.17" stroke="#2a2a2a" stroke-width="1.1" />
<text x="361.2" y="272.87" font-size="10.3" text-anchor="end" fill="#000" >60N</text>
<line x1="368.8" y1="296.9" x2="373.4" y2="296.9" stroke="#2a2a2a" stroke-width="1.1" />
<text x="361.2" y="300.6" font-size="10.3" text-anchor="end" fill="#000" >40N</text>
<line x1="368.8" y1="324.63" x2="373.4" y2="324.63" stroke="#2a2a2a" stroke-width="1.1" />
<text x="361.2" y="328.33" font-size="10.3" text-anchor="end" fill="#000" >20N</text>
<line x1="368.8" y1="352.37" x2="373.4" y2="352.37" stroke="#2a2a2a" stroke-width="1.1" />
<text x="361.2" y="356.07" font-size="10.3" text-anchor="end" fill="#000" >0</text>
<line x1="368.8" y1="380.1" x2="373.4" y2="380.1" stroke="#2a2a2a" stroke-width="1.1" />
<text x="361.2" y="383.8" font-size="10.3" text-anchor="end" fill="#000" >20S</text>
<line x1="373.4" y1="380.1" x2="373.4" y2="384.7" stroke="#2a2a2a" stroke-width="1.1" />
<text x="373.4" y="399.6" font-size="10.3" text-anchor="middle" fill="#000" >100E</text>
<line x1="418.38" y1="380.1" x2="418.38" y2="384.7" stroke="#2a2a2a" stroke-width="1.1" />
<text x="418.38" y="399.6" font-size="10.3" text-anchor="middle" fill="#000" >150E</text>
<line x1="463.36" y1="380.1" x2="463.36" y2="384.7" stroke="#2a2a2a" stroke-width="1.1" />
<text x="463.36" y="399.6" font-size="10.3" text-anchor="middle" fill="#000" >160W</text>
<line x1="508.34" y1="380.1" x2="508.34" y2="384.7" stroke="#2a2a2a" stroke-width="1.1" />
<text x="508.34" y="399.6" font-size="10.3" text-anchor="middle" fill="#000" >110W</text>
<line x1="553.32" y1="380.1" x2="553.32" y2="384.7" stroke="#2a2a2a" stroke-width="1.1" />
<text x="553.32" y="399.6" font-size="10.3" text-anchor="middle" fill="#000" >60W</text>
<line x1="598.3" y1="380.1" x2="598.3" y2="384.7" stroke="#2a2a2a" stroke-width="1.1" />
<text x="598.3" y="399.6" font-size="10.3" text-anchor="middle" fill="#000" >10W</text>
<text x="373.2" y="249.4" font-size="12.9" text-anchor="start" fill="#000" letter-spacing="0.06">(d) Corr. NATSI vs DJF SST</text>
<svg x="101.5" y="427.8" width="234.2" height="124.8" viewBox="100 -70 260 90" preserveAspectRatio="none" overflow="hidden"><rect x="95" y="-75" width="270" height="100" fill="#fff"/><path d="M139.57,-56.76 C140.44,-57.65 143.31,-58.16 145.47,-58.29 C147.63,-58.41 150.57,-57.9 152.54,-57.52 C154.5,-57.14 156.27,-57.01 157.25,-55.99 C158.23,-54.97 158.82,-52.93 158.43,-51.4 C158.03,-49.87 155.87,-48.34 154.89,-46.81 C153.91,-45.27 153.52,-43.62 152.54,-42.21 C151.55,-40.81 150.18,-39.41 149,-38.39 C147.82,-37.37 146.64,-36.22 145.47,-36.09 C144.29,-35.96 142.72,-36.6 141.93,-37.62 C141.15,-38.64 140.95,-40.43 140.75,-42.21 C140.56,-44 140.83,-46.55 140.75,-48.34 C140.67,-50.12 140.48,-51.53 140.28,-52.93 C140.09,-54.33 138.71,-55.86 139.57,-56.76Z" fill="#ffff00"/><path d="M119.54,-39.92 C120.21,-40.55 122.29,-41.19 123.08,-40.68 C123.86,-40.17 124.45,-37.88 124.26,-36.85 C124.06,-35.83 122.76,-34.56 121.9,-34.56 C121.04,-34.56 119.47,-35.96 119.07,-36.85 C118.68,-37.75 118.88,-39.28 119.54,-39.92Z" fill="#ffff00"/><path d="M133.68,-34.56 C134.27,-35.58 136.24,-36.47 137.22,-36.09 C138.2,-35.71 139.57,-33.54 139.57,-32.26 C139.57,-30.99 138.2,-28.82 137.22,-28.44 C136.24,-28.05 134.27,-28.95 133.68,-29.97 C133.09,-30.99 133.09,-33.54 133.68,-34.56Z" fill="#ffff00"/><path d="M107.76,-20.78 C108.35,-21.8 110.71,-23.08 112.47,-23.84 C114.24,-24.61 117.19,-25.63 118.37,-25.37 C119.54,-25.12 120.13,-23.46 119.54,-22.31 C118.95,-21.16 116.6,-19.25 114.83,-18.49 C113.06,-17.72 110.12,-17.34 108.94,-17.72 C107.76,-18.1 107.17,-19.76 107.76,-20.78Z" fill="#ffff00"/><path d="M192.6,-55.99 C193.58,-57.01 196.92,-58.29 199.67,-59.05 C202.42,-59.82 205.95,-60.45 209.09,-60.58 C212.24,-60.71 215.77,-60.07 218.52,-59.82 C221.27,-59.56 223.43,-59.31 225.59,-59.05 C227.75,-58.8 230.5,-63.9 231.48,-58.29 C232.46,-52.67 232.46,-30.6 231.48,-25.37 C230.5,-20.14 227.36,-26.14 225.59,-26.9 C223.82,-27.67 222.45,-28.95 220.88,-29.97 C219.31,-30.99 217.34,-31.75 216.16,-33.03 C214.98,-34.3 214.98,-36.6 213.81,-37.62 C212.63,-38.64 210.66,-38.64 209.09,-39.15 C207.52,-39.66 205.95,-39.66 204.38,-40.68 C202.81,-41.7 200.85,-43.74 199.67,-45.27 C198.49,-46.81 198.29,-48.59 197.31,-49.87 C196.33,-51.14 194.56,-51.91 193.78,-52.93 C192.99,-53.95 191.62,-54.97 192.6,-55.99Z" fill="#ffff00"/><path d="M166.68,-13.13 C167.26,-15.42 167.85,-16.19 169.03,-17.72 C170.21,-19.25 171.78,-21.04 173.74,-22.31 C175.71,-23.59 178.07,-24.86 180.81,-25.37 C183.56,-25.88 187.49,-25.37 190.24,-25.37 C192.99,-25.37 194.95,-25.12 197.31,-25.37 C199.67,-25.63 202.02,-26.14 204.38,-26.9 C206.74,-27.67 209.09,-28.95 211.45,-29.97 C213.81,-30.99 216.16,-32.01 218.52,-33.03 C220.88,-34.05 223.43,-35.32 225.59,-36.09 C227.75,-36.85 230.5,-47.14 231.48,-37.62 C232.46,-28.1 236.39,11.24 231.48,21.01 C226.57,30.78 208.5,21.85 202.02,21.01 C195.54,20.17 195.74,17.57 192.6,15.96 C189.46,14.35 186.31,12.9 183.17,11.37 C180.03,9.83 176.1,8.3 173.74,6.77 C171.39,5.24 170.41,3.97 169.03,2.18 C167.66,0.39 165.89,-1.39 165.5,-3.94 C165.1,-6.49 166.09,-10.83 166.68,-13.13Z" fill="#ffff00"/><path d="M120.72,-20.78 C121.9,-22.31 124.06,-23.08 126.61,-23.84 C129.17,-24.61 133.29,-24.86 136.04,-25.37 C138.79,-25.88 140.75,-26.78 143.11,-26.9 C145.47,-27.03 147.82,-26.39 150.18,-26.14 C152.54,-25.88 154.89,-26.01 157.25,-25.37 C159.61,-24.74 162.35,-23.59 164.32,-22.31 C166.28,-21.04 167.85,-19.25 169.03,-17.72 C170.21,-16.19 171.39,-14.91 171.39,-13.13 C171.39,-11.34 169.82,-9.05 169.03,-7 C168.25,-4.96 167.46,-2.92 166.68,-0.88 C165.89,1.16 165.1,3.2 164.32,5.24 C163.53,7.28 161.96,9.32 161.96,11.37 C161.96,13.41 164.32,15.88 164.32,17.49 C164.32,19.1 172.96,20.42 161.96,21.01 C150.96,21.6 108.94,23.64 98.33,21.01 C87.73,18.38 97.55,8.64 98.33,5.24 C99.12,1.85 101.48,2.18 103.05,0.65 C104.62,-0.88 106.19,-2.67 107.76,-3.94 C109.33,-5.22 110.9,-5.98 112.47,-7 C114.05,-8.02 116.01,-8.79 117.19,-10.07 C118.37,-11.34 118.95,-12.87 119.54,-14.66 C120.13,-16.44 119.54,-19.25 120.72,-20.78Z" fill="#7fd77f"/><path d="M157.25,-36.09 C157.84,-37.88 160.39,-39.28 161.96,-40.68 C163.53,-42.09 164.71,-43.62 166.68,-44.51 C168.64,-45.4 171,-45.78 173.74,-46.04 C176.49,-46.29 180.03,-46.42 183.17,-46.04 C186.31,-45.66 189.85,-44.64 192.6,-43.74 C195.35,-42.85 198.1,-41.96 199.67,-40.68 C201.24,-39.41 202.02,-37.62 202.02,-36.09 C202.02,-34.56 201.24,-32.39 199.67,-31.5 C198.1,-30.6 194.95,-30.73 192.6,-30.73 C190.24,-30.73 187.88,-31.62 185.53,-31.5 C183.17,-31.37 180.81,-30.48 178.46,-29.97 C176.1,-29.46 173.74,-28.95 171.39,-28.44 C169.03,-27.93 166.48,-26.65 164.32,-26.9 C162.16,-27.16 159.61,-28.44 158.43,-29.97 C157.25,-31.5 156.66,-34.3 157.25,-36.09Z" fill="#7fd77f"/><path d="M133.68,-25.37 C134.08,-26.39 138,-26.78 140.75,-26.9 C143.5,-27.03 147.43,-26.9 150.18,-26.14 C152.93,-25.37 156.46,-23.46 157.25,-22.31 C158.03,-21.16 156.86,-19.63 154.89,-19.25 C152.93,-18.87 148.22,-19.76 145.47,-20.02 C142.72,-20.27 140.36,-19.89 138.4,-20.78 C136.43,-21.67 133.29,-24.35 133.68,-25.37Z" fill="#7fd77f"/><path d="M227.11,-55.99 C228.1,-68.06 231.43,-53.18 233,-51.4 C234.58,-49.61 235.56,-47.32 236.54,-45.27 C237.52,-43.23 237.91,-40.94 238.9,-39.15 C239.88,-37.37 240.86,-36.22 242.43,-34.56 C244,-32.9 246.16,-30.99 248.32,-29.2 C250.48,-27.41 253.04,-25.5 255.39,-23.84 C257.75,-22.18 260.11,-20.53 262.46,-19.25 C264.82,-17.97 267.37,-17.21 269.53,-16.19 C271.69,-15.17 273.66,-14.15 275.42,-13.13 C277.19,-12.11 278.96,-11.6 280.14,-10.07 C281.31,-8.53 281.9,-6.49 282.49,-3.94 C283.08,-1.39 283.08,2.18 283.67,5.24 C284.26,8.3 285.24,11.8 286.03,14.43 C286.81,17.06 298.2,19.91 288.38,21.01 C278.57,22.11 237.33,33.84 227.11,21.01 C216.9,8.18 226.13,-43.92 227.11,-55.99Z" fill="#ffff00"/><path d="M282.49,-37.62 C282.89,-38.77 284.46,-40.43 286.03,-41.45 C287.6,-42.47 289.56,-43.49 291.92,-43.74 C294.28,-44 297.61,-43.23 300.17,-42.98 C302.72,-42.72 304.88,-42.6 307.24,-42.21 C309.59,-41.83 312.93,-41.45 314.31,-40.68 C315.68,-39.92 316.27,-38.39 315.48,-37.62 C314.7,-36.85 311.36,-36.85 309.59,-36.09 C307.83,-35.32 306.06,-34.3 304.88,-33.03 C303.7,-31.75 303.7,-29.46 302.52,-28.44 C301.35,-27.41 299.38,-26.65 297.81,-26.9 C296.24,-27.16 294.67,-28.95 293.1,-29.97 C291.53,-30.99 289.96,-32.26 288.38,-33.03 C286.81,-33.79 284.65,-33.79 283.67,-34.56 C282.69,-35.32 282.1,-36.47 282.49,-37.62Z" fill="#ffff00"/><path d="M316.66,-26.9 C317.25,-27.93 319.02,-29.07 321.38,-29.97 C323.73,-30.86 327.66,-31.5 330.8,-32.26 C333.94,-33.03 337.48,-33.79 340.23,-34.56 C342.98,-35.32 345.33,-36.73 347.3,-36.85 C349.26,-36.98 351.62,-36.22 352.01,-35.32 C352.4,-34.43 351.23,-32.65 349.65,-31.5 C348.08,-30.35 345.33,-29.46 342.59,-28.44 C339.84,-27.41 336.3,-26.27 333.16,-25.37 C330.02,-24.48 326.29,-23.33 323.73,-23.08 C321.18,-22.82 319.02,-23.21 317.84,-23.84 C316.66,-24.48 316.07,-25.88 316.66,-26.9Z" fill="#ffff00"/><path d="M262.46,-28.44 C263.25,-29.33 265.21,-29.84 267.18,-29.97 C269.14,-30.09 272.67,-29.97 274.24,-29.2 C275.82,-28.44 276.6,-26.78 276.6,-25.37 C276.6,-23.97 275.42,-21.8 274.24,-20.78 C273.07,-19.76 271.1,-19.25 269.53,-19.25 C267.96,-19.25 266,-19.89 264.82,-20.78 C263.64,-21.67 262.85,-23.33 262.46,-24.61 C262.07,-25.88 261.68,-27.54 262.46,-28.44Z" fill="#ffff00"/><path d="M349.65,-62.11 C350.24,-64.15 353.78,-63.39 355.55,-63.64 C357.31,-63.9 359.47,-67.47 360.26,-63.64 C361.04,-59.82 360.85,-44.51 360.26,-40.68 C359.67,-36.85 357.71,-39.92 356.72,-40.68 C355.74,-41.45 355.15,-43.49 354.37,-45.27 C353.58,-47.06 352.8,-48.59 352.01,-51.4 C351.23,-54.2 349.07,-60.07 349.65,-62.11Z" fill="#ffff00"/><path d="M335.52,-69.77 C335.91,-70.41 340.82,-71.04 344.94,-71.3 C349.07,-71.55 357.71,-72.32 360.26,-71.3 C362.81,-70.28 361.63,-65.94 360.26,-65.17 C358.88,-64.41 354.96,-66.32 352.01,-66.71 C349.07,-67.09 345.33,-66.96 342.59,-67.47 C339.84,-67.98 335.12,-69.13 335.52,-69.77Z" fill="#ffff00"/><path d="M321.38,11.37 C322.16,9.3 324.52,8.87 326.09,8.61 C327.66,8.35 329.94,8.61 330.8,9.83 C331.67,11.06 331.67,14.1 331.27,15.96 C330.88,17.82 330.1,20.17 328.45,21.01 C326.8,21.85 322.55,22.62 321.38,21.01 C320.2,19.4 320.59,13.43 321.38,11.37Z" fill="#ffff00"/><path d="M337.87,19.02 C339.05,18.05 342.59,16.03 344.94,15.19 C347.3,14.35 349.85,14.1 352.01,13.97 C354.17,13.84 356.53,13.25 357.9,14.43 C359.28,15.6 363.6,19.91 360.26,21.01 C356.92,22.11 341.6,21.34 337.87,21.01 C334.14,20.68 336.69,19.99 337.87,19.02Z" fill="#ffff00"/><path d="M300.17,-60.58 C301.74,-60.84 304.49,-59.05 307.24,-59.05 C309.99,-59.05 313.52,-60.58 316.66,-60.58 C319.81,-60.58 322.95,-59.56 326.09,-59.05 C329.23,-58.54 332.77,-58.29 335.52,-57.52 C338.26,-56.76 340.62,-55.73 342.59,-54.46 C344.55,-53.18 346.51,-51.65 347.3,-49.87 C348.08,-48.08 348.08,-45.53 347.3,-43.74 C346.51,-41.96 344.16,-40.17 342.59,-39.15 C341.01,-38.13 339.84,-38.13 337.87,-37.62 C335.91,-37.11 332.96,-36.6 330.8,-36.09 C328.64,-35.58 326.48,-34.43 324.91,-34.56 C323.34,-34.69 322.16,-35.83 321.38,-36.85 C320.59,-37.88 320.98,-39.28 320.2,-40.68 C319.41,-42.09 318.04,-44 316.66,-45.27 C315.29,-46.55 313.52,-47.32 311.95,-48.34 C310.38,-49.36 308.81,-50.38 307.24,-51.4 C305.67,-52.42 304.09,-53.44 302.52,-54.46 C300.95,-55.48 298.2,-56.5 297.81,-57.52 C297.42,-58.54 298.6,-60.33 300.17,-60.58Z" fill="#7fd77f"/><path d="M281.31,-14.66 C280.92,-15.81 284.06,-17.72 286.03,-18.49 C287.99,-19.25 290.35,-19.25 293.1,-19.25 C295.85,-19.25 300.17,-18.74 302.52,-18.49 C304.88,-18.23 305.67,-18.36 307.24,-17.72 C308.81,-17.08 310.38,-15.93 311.95,-14.66 C313.52,-13.38 314.7,-11.34 316.66,-10.07 C318.63,-8.79 320.98,-7.64 323.73,-7 C326.48,-6.37 330.02,-6.24 333.16,-6.24 C336.3,-6.24 339.44,-6.88 342.59,-7 C345.73,-7.13 349.07,-7 352.01,-7 C354.96,-7 358.88,-9.56 360.26,-7 C361.63,-4.45 362.03,5.5 360.26,8.3 C358.49,11.11 352.99,9.83 349.65,9.83 C346.32,9.83 342.98,8.81 340.23,8.3 C337.48,7.79 335.52,7.54 333.16,6.77 C330.8,6.01 328.45,4.73 326.09,3.71 C323.73,2.69 321.38,1.42 319.02,0.65 C316.66,-0.12 313.91,-0.12 311.95,-0.88 C309.99,-1.65 308.81,-2.92 307.24,-3.94 C305.67,-4.96 304.49,-5.98 302.52,-7 C300.56,-8.02 297.81,-9.3 295.45,-10.07 C293.1,-10.83 290.74,-10.83 288.38,-11.6 C286.03,-12.36 281.71,-13.51 281.31,-14.66Z" fill="#7fd77f"/><path d="M124.26,2.18 C125.44,1.42 129.36,0.91 131.33,1.42 C133.29,1.93 136.43,4.09 136.04,5.24 C135.65,6.39 130.93,8.18 128.97,8.3 C127.01,8.43 125.04,7.03 124.26,6.01 C123.47,4.99 123.08,2.95 124.26,2.18Z" fill="#ffffff"/><path d="M103.05,11.37 C103.75,10.47 106.39,8.94 107.76,9.07 C109.14,9.2 111.3,11.11 111.3,12.13 C111.3,13.15 109.06,14.81 107.76,15.19 C106.46,15.58 104.3,15.06 103.52,14.43 C102.73,13.79 102.34,12.26 103.05,11.37Z" fill="#ffffff"/><path d="M227.11,-48.34 C227.7,-50.25 229.86,-47.95 230.65,-46.81 C231.43,-45.66 231.94,-43.23 231.83,-41.45 C231.71,-39.66 230.73,-37.11 229.94,-36.09 C229.16,-35.07 227.58,-33.28 227.11,-35.32 C226.64,-37.37 226.52,-46.42 227.11,-48.34Z" fill="#ffffff"/><path d="M144.29,-48.34 C144.68,-49.74 147.55,-50.12 149,-49.87 C150.45,-49.61 152.5,-48.08 153.01,-46.81 C153.52,-45.53 153.12,-43.11 152.06,-42.21 C151,-41.32 147.94,-40.43 146.64,-41.45 C145.35,-42.47 143.89,-46.93 144.29,-48.34Z" fill="#ffc800"/><path d="M199.67,-54.46 C200.65,-55.48 205.95,-55.99 209.09,-55.99 C212.24,-55.99 215.77,-54.97 218.52,-54.46 C221.27,-53.95 223.43,-53.18 225.59,-52.93 C227.75,-52.67 230.5,-55.73 231.48,-52.93 C232.46,-50.12 232.46,-38.64 231.48,-36.09 C230.5,-33.54 227.75,-36.85 225.59,-37.62 C223.43,-38.39 220.88,-39.92 218.52,-40.68 C216.16,-41.45 213.41,-41.45 211.45,-42.21 C209.49,-42.98 208.11,-44 206.74,-45.27 C205.36,-46.55 204.38,-48.34 203.2,-49.87 C202.02,-51.4 198.69,-53.44 199.67,-54.46Z" fill="#ffc800"/><path d="M171.39,-10.07 C171.98,-12.62 174.14,-15.93 176.1,-17.72 C178.07,-19.51 180.42,-20.27 183.17,-20.78 C185.92,-21.29 189.46,-21.04 192.6,-20.78 C195.74,-20.53 199.27,-19.25 202.02,-19.25 C204.77,-19.25 206.74,-19.76 209.09,-20.78 C211.45,-21.8 213.81,-23.84 216.16,-25.37 C218.52,-26.9 220.68,-28.82 223.23,-29.97 C225.79,-31.11 230.11,-40.76 231.48,-32.26 C232.86,-23.77 235.21,12.13 231.48,21.01 C227.75,29.89 214.4,21.85 209.09,21.01 C203.79,20.17 202.42,17.57 199.67,15.96 C196.92,14.35 195.35,12.64 192.6,11.37 C189.85,10.09 185.92,9.58 183.17,8.3 C180.42,7.03 177.87,5.5 176.1,3.71 C174.33,1.93 173.35,-0.12 172.57,-2.41 C171.78,-4.71 170.8,-7.51 171.39,-10.07Z" fill="#ffc800"/><path d="M121.9,-11.6 C122.49,-13.38 124.65,-13.89 126.61,-14.66 C128.58,-15.42 131.33,-15.81 133.68,-16.19 C136.04,-16.57 138.4,-16.95 140.75,-16.95 C143.11,-16.95 145.47,-16.57 147.82,-16.19 C150.18,-15.81 152.54,-15.42 154.89,-14.66 C157.25,-13.89 160,-12.87 161.96,-11.6 C163.93,-10.32 166.28,-8.53 166.68,-7 C167.07,-5.47 165.89,-3.43 164.32,-2.41 C162.75,-1.39 159.61,-0.88 157.25,-0.88 C154.89,-0.88 152.54,-2.16 150.18,-2.41 C147.82,-2.67 145.07,-2.92 143.11,-2.41 C141.15,-1.9 139.97,-0.12 138.4,0.65 C136.83,1.42 135.65,2.18 133.68,2.18 C131.72,2.18 128.38,1.67 126.61,0.65 C124.85,-0.37 123.86,-1.9 123.08,-3.94 C122.29,-5.98 121.31,-9.81 121.9,-11.6Z" fill="#2fbb2f"/><path d="M133.68,5.24 C135.65,3.71 138.4,4.73 140.75,5.24 C143.11,5.75 145.47,7.28 147.82,8.3 C150.18,9.32 153.32,9.83 154.89,11.37 C156.46,12.9 157.25,15.88 157.25,17.49 C157.25,19.1 159.21,20.42 154.89,21.01 C150.57,21.6 135.65,22.11 131.33,21.01 C127.01,19.91 128.58,17.06 128.97,14.43 C129.36,11.8 131.72,6.77 133.68,5.24Z" fill="#2fbb2f"/><path d="M166.68,-42.21 C167.85,-43.11 171,-43.62 173.74,-43.74 C176.49,-43.87 180.42,-43.49 183.17,-42.98 C185.92,-42.47 188.67,-41.7 190.24,-40.68 C191.81,-39.66 192.99,-37.88 192.6,-36.85 C192.2,-35.83 189.85,-34.94 187.88,-34.56 C185.92,-34.18 183.17,-34.81 180.81,-34.56 C178.46,-34.3 175.71,-33.03 173.74,-33.03 C171.78,-33.03 170.21,-33.67 169.03,-34.56 C167.85,-35.45 167.07,-37.11 166.68,-38.39 C166.28,-39.66 165.5,-41.32 166.68,-42.21Z" fill="#2fbb2f"/><path d="M227.11,-36.09 C227.9,-45.99 230.45,-37.62 231.83,-38.39 C233.2,-39.15 234.38,-41.06 235.36,-40.68 C236.34,-40.3 236.74,-37.62 237.72,-36.09 C238.7,-34.56 239.68,-33.03 241.25,-31.5 C242.82,-29.97 244.98,-28.44 247.14,-26.9 C249.3,-25.37 251.86,-23.72 254.21,-22.31 C256.57,-20.91 258.93,-19.63 261.28,-18.49 C263.64,-17.34 266.19,-16.44 268.35,-15.42 C270.51,-14.4 272.48,-13.51 274.24,-12.36 C276.01,-11.21 277.78,-10.19 278.96,-8.53 C280.14,-6.88 280.73,-4.71 281.31,-2.41 C281.9,-0.12 282.1,2.44 282.49,5.24 C282.89,8.05 283.08,11.8 283.67,14.43 C284.26,17.06 295.45,19.91 286.03,21.01 C276.6,22.11 236.93,30.53 227.11,21.01 C217.29,11.49 226.33,-26.19 227.11,-36.09Z" fill="#ffc800"/><path d="M286.03,-40.68 C286.81,-41.45 290.35,-42.47 291.92,-42.21 C293.49,-41.96 295.45,-40.04 295.45,-39.15 C295.45,-38.26 293.29,-37.11 291.92,-36.85 C290.54,-36.6 288.19,-36.98 287.21,-37.62 C286.22,-38.26 285.24,-39.92 286.03,-40.68Z" fill="#ffc800"/><path d="M295.45,-34.56 C295.85,-35.32 298.6,-34.43 300.17,-33.79 C301.74,-33.16 304.49,-31.75 304.88,-30.73 C305.27,-29.71 303.7,-27.93 302.52,-27.67 C301.35,-27.41 298.99,-28.05 297.81,-29.2 C296.63,-30.35 295.06,-33.79 295.45,-34.56Z" fill="#ffc800"/><path d="M321.38,-27.67 C321.77,-28.44 325.7,-29.33 328.45,-29.97 C331.2,-30.6 335.12,-30.86 337.87,-31.5 C340.62,-32.13 343.17,-33.54 344.94,-33.79 C346.71,-34.05 348.67,-33.67 348.48,-33.03 C348.28,-32.39 345.92,-30.86 343.76,-29.97 C341.6,-29.07 338.46,-28.44 335.52,-27.67 C332.57,-26.9 328.45,-25.37 326.09,-25.37 C323.73,-25.37 320.98,-26.9 321.38,-27.67Z" fill="#ffc800"/><path d="M263.64,-26.9 C264.03,-27.93 267.76,-28.69 269.53,-28.44 C271.3,-28.18 273.85,-26.39 274.24,-25.37 C274.64,-24.35 273.07,-22.82 271.89,-22.31 C270.71,-21.8 268.55,-21.55 267.18,-22.31 C265.8,-23.08 263.25,-25.88 263.64,-26.9Z" fill="#ffc800"/><path d="M323.73,-48.34 C324.91,-49.87 328.45,-49.87 330.8,-49.87 C333.16,-49.87 335.91,-49.1 337.87,-48.34 C339.84,-47.57 342,-46.55 342.59,-45.27 C343.17,-44 342.59,-41.83 341.41,-40.68 C340.23,-39.53 337.68,-38.9 335.52,-38.39 C333.36,-37.88 330.41,-37.24 328.45,-37.62 C326.48,-38 324.52,-38.9 323.73,-40.68 C322.95,-42.47 322.55,-46.81 323.73,-48.34Z" fill="#2fbb2f"/><path d="M266,-61.35 C266.78,-62.24 269.92,-63.01 271.89,-62.88 C273.85,-62.75 276.21,-61.48 277.78,-60.58 C279.35,-59.69 281.12,-58.54 281.31,-57.52 C281.51,-56.5 280.33,-54.84 278.96,-54.46 C277.58,-54.08 275.03,-54.71 273.07,-55.22 C271.1,-55.73 268.35,-56.5 267.18,-57.52 C266,-58.54 265.21,-60.45 266,-61.35Z" fill="#2fbb2f"/><path d="M283.67,-15.42 C284.06,-16.32 287.6,-16.83 289.56,-16.95 C291.53,-17.08 294.08,-16.83 295.45,-16.19 C296.83,-15.55 298.2,-14.02 297.81,-13.13 C297.42,-12.23 294.86,-11.09 293.1,-10.83 C291.33,-10.58 288.78,-10.83 287.21,-11.6 C285.63,-12.36 283.28,-14.53 283.67,-15.42Z" fill="#2fbb2f"/><path d="M309.59,-5.47 C310.58,-6.24 314.31,-5.98 316.66,-5.47 C319.02,-4.96 320.98,-2.92 323.73,-2.41 C326.48,-1.9 330.02,-2.16 333.16,-2.41 C336.3,-2.67 339.44,-3.69 342.59,-3.94 C345.73,-4.2 349.07,-3.94 352.01,-3.94 C354.96,-3.94 358.88,-5.47 360.26,-3.94 C361.63,-2.41 361.63,3.46 360.26,5.24 C358.88,7.03 354.96,6.65 352.01,6.77 C349.07,6.9 345.73,6.39 342.59,6.01 C339.44,5.62 336.3,4.99 333.16,4.48 C330.02,3.97 326.48,3.58 323.73,2.95 C320.98,2.31 318.82,1.29 316.66,0.65 C314.5,0.01 311.95,0.14 310.77,-0.88 C309.59,-1.9 308.61,-4.71 309.59,-5.47Z" fill="#2fbb2f"/><path d="M200.34,-34.68 C201.99,-37.01 205.86,-37.01 208.62,-37.91 C211.38,-38.81 213.87,-39.43 216.91,-40.06 C219.94,-40.69 224.92,-42.22 226.85,-41.68 C228.78,-41.14 229.06,-38.36 228.51,-36.83 C227.95,-35.31 225.05,-33.96 223.53,-32.53 C222.02,-31.09 220.63,-29.66 219.39,-28.22 C218.15,-26.79 217.6,-25.17 216.08,-23.92 C214.56,-22.66 212.63,-21.41 210.28,-20.69 C207.93,-19.97 203.93,-19.07 201.99,-19.61 C200.06,-20.15 198.96,-21.41 198.68,-23.92 C198.4,-26.43 198.68,-32.35 200.34,-34.68Z" fill="#ffffff"/><path d="M146.64,-46.81 C147.12,-47.42 149.86,-47.57 150.65,-47.11 C151.44,-46.65 151.83,-44.66 151.36,-44.05 C150.89,-43.44 148.61,-42.98 147.82,-43.44 C147.04,-43.9 146.17,-46.19 146.64,-46.81Z" fill="#ff8000"/><path d="M179.64,-15.42 C180.03,-16.83 183.56,-18.23 185.53,-18.49 C187.49,-18.74 190.04,-17.85 191.42,-16.95 C192.79,-16.06 193.97,-14.28 193.78,-13.13 C193.58,-11.98 192.01,-10.58 190.24,-10.07 C188.47,-9.56 184.94,-9.17 183.17,-10.07 C181.4,-10.96 179.24,-14.02 179.64,-15.42Z" fill="#ff8000"/><path d="M192.6,-3.94 C193.78,-5.22 198.88,-5.47 202.02,-5.47 C205.17,-5.47 208.31,-4.45 211.45,-3.94 C214.59,-3.43 217.54,-2.41 220.88,-2.41 C224.21,-2.41 229.71,-7.85 231.48,-3.94 C233.25,-0.04 234.82,16.85 231.48,21.01 C228.14,25.17 215.97,21.6 211.45,21.01 C206.93,20.42 206.34,18.84 204.38,17.49 C202.42,16.14 200.85,14.43 199.67,12.9 C198.49,11.37 198.1,10.09 197.31,8.3 C196.52,6.52 195.74,4.22 194.95,2.18 C194.17,0.14 191.42,-2.67 192.6,-3.94Z" fill="#ff8000"/><path d="M125.44,-13.13 C126.42,-13.77 129.17,-13.89 131.33,-13.89 C133.49,-13.89 136.04,-13.51 138.4,-13.13 C140.75,-12.74 143.89,-12.36 145.47,-11.6 C147.04,-10.83 148.22,-9.43 147.82,-8.53 C147.43,-7.64 145.07,-6.75 143.11,-6.24 C141.15,-5.73 138.4,-5.35 136.04,-5.47 C133.68,-5.6 130.74,-6.24 128.97,-7 C127.2,-7.77 126.02,-9.05 125.44,-10.07 C124.85,-11.09 124.45,-12.49 125.44,-13.13Z" fill="#0c8f3b"/><path d="M170.21,-40.68 C171,-41.45 174.53,-41.7 176.1,-41.45 C177.67,-41.19 179.64,-40.04 179.64,-39.15 C179.64,-38.26 177.48,-36.47 176.1,-36.09 C174.73,-35.71 172.37,-36.09 171.39,-36.85 C170.41,-37.62 169.42,-39.92 170.21,-40.68Z" fill="#0c8f3b"/><path d="M180.81,-39.92 C181.4,-40.55 184.55,-41.06 185.53,-40.68 C186.51,-40.3 187.3,-38.26 186.71,-37.62 C186.12,-36.98 182.97,-36.47 181.99,-36.85 C181.01,-37.24 180.23,-39.28 180.81,-39.92Z" fill="#0c8f3b"/><path d="M227.11,-33.03 C228.29,-35.32 232.22,-34.81 234.18,-34.56 C236.15,-34.3 237.72,-32.77 238.9,-31.5 C240.07,-30.22 241.25,-28.44 241.25,-26.9 C241.25,-25.37 240.47,-23.33 238.9,-22.31 C237.33,-21.29 233.79,-21.04 231.83,-20.78 C229.86,-20.53 227.9,-18.74 227.11,-20.78 C226.33,-22.82 225.94,-30.73 227.11,-33.03Z" fill="#ff8000"/><path d="M227.11,-14.66 C228.29,-16.44 231.83,-16.44 234.18,-16.19 C236.54,-15.93 239.29,-14.4 241.25,-13.13 C243.22,-11.85 245.97,-10.07 245.97,-8.53 C245.97,-7 243.22,-4.71 241.25,-3.94 C239.29,-3.18 236.54,-3.69 234.18,-3.94 C231.83,-4.2 228.29,-3.69 227.11,-5.47 C225.94,-7.26 225.94,-12.87 227.11,-14.66Z" fill="#ff8000"/><path d="M248.32,-13.13 C249.7,-13.89 253.43,-12.62 255.39,-11.6 C257.36,-10.58 259.71,-8.53 260.11,-7 C260.5,-5.47 259.32,-3.18 257.75,-2.41 C256.18,-1.65 252.45,-1.65 250.68,-2.41 C248.91,-3.18 247.54,-5.22 247.14,-7 C246.75,-8.79 246.95,-12.36 248.32,-13.13Z" fill="#ff8000"/><path d="M257.75,-3.94 C258.14,-5.22 262.46,-5.47 264.82,-5.47 C267.18,-5.47 270.32,-4.96 271.89,-3.94 C273.46,-2.92 274.64,-0.63 274.24,0.65 C273.85,1.93 271.5,3.46 269.53,3.71 C267.57,3.97 264.43,3.46 262.46,2.18 C260.5,0.91 257.36,-2.67 257.75,-3.94Z" fill="#ff8000"/><path d="M227.11,3.71 C228.68,1.93 233.4,1.93 236.54,2.18 C239.68,2.44 243.61,3.97 245.97,5.24 C248.32,6.52 250.68,8.3 250.68,9.83 C250.68,11.37 248.32,13.66 245.97,14.43 C243.61,15.19 239.68,14.68 236.54,14.43 C233.4,14.17 228.68,14.68 227.11,12.9 C225.54,11.11 225.54,5.5 227.11,3.71Z" fill="#ff8000"/><path d="M250.68,11.37 C251.86,9.5 256.96,9.58 260.11,9.83 C263.25,10.09 267.18,11.62 269.53,12.9 C271.89,14.17 274.24,16.14 274.24,17.49 C274.24,18.84 273.07,20.42 269.53,21.01 C266,21.6 256.18,22.62 253.04,21.01 C249.89,19.4 249.5,13.23 250.68,11.37Z" fill="#ff8000"/><path d="M297.81,-32.26 C298.12,-32.82 301.07,-32.31 302.05,-31.8 C303.03,-31.29 304.02,-29.76 303.7,-29.2 C303.39,-28.64 301.15,-27.93 300.17,-28.44 C299.19,-28.95 297.5,-31.7 297.81,-32.26Z" fill="#ff8000"/><path d="M327.27,-29.2 C327.66,-29.76 331.78,-30.45 333.16,-30.27 C334.53,-30.09 335.91,-28.69 335.52,-28.13 C335.12,-27.57 332.18,-26.73 330.8,-26.9 C329.43,-27.08 326.87,-28.64 327.27,-29.2Z" fill="#ff8000"/><path d="M267.18,-24.61 C267.57,-25.12 269.92,-24.99 270.71,-24.61 C271.5,-24.23 272.28,-22.82 271.89,-22.31 C271.5,-21.8 269.14,-21.16 268.35,-21.55 C267.57,-21.93 266.78,-24.1 267.18,-24.61Z" fill="#ff8000"/><path d="M270.71,-61.35 C270.91,-62.11 274.24,-61.86 275.42,-61.35 C276.6,-60.84 277.98,-59.05 277.78,-58.29 C277.58,-57.52 275.42,-56.25 274.24,-56.76 C273.07,-57.27 270.51,-60.58 270.71,-61.35Z" fill="#0c8f3b"/><path d="M309.59,-3.94 C309.99,-4.84 313.13,-5.22 314.31,-4.71 C315.48,-4.2 317.06,-1.77 316.66,-0.88 C316.27,0.01 313.13,1.16 311.95,0.65 C310.77,0.14 309.2,-3.05 309.59,-3.94Z" fill="#0c8f3b"/><path d="M212.63,15.19 C213.22,14.43 216.28,13.92 217.34,14.43 C218.4,14.94 219.58,17.49 218.99,18.25 C218.4,19.02 214.87,19.53 213.81,19.02 C212.75,18.51 212.04,15.96 212.63,15.19Z" fill="#ff2000"/><path d="M183.17,-14.66 C183.45,-15.25 185.84,-16.09 186.71,-15.88 C187.57,-15.68 188.63,-14.02 188.36,-13.43 C188.08,-12.85 185.92,-12.16 185.06,-12.36 C184.19,-12.57 182.9,-14.07 183.17,-14.66Z" fill="#ff2000"/><path d="M137.22,-11.6 C137.81,-12.23 140.95,-11.47 141.93,-10.83 C142.91,-10.19 143.7,-8.41 143.11,-7.77 C142.52,-7.13 139.38,-6.37 138.4,-7 C137.41,-7.64 136.63,-10.96 137.22,-11.6Z" fill="#05706c"/><path d="M231.83,-40.68 C232.02,-41.96 234.58,-42.98 235.36,-42.21 C236.15,-41.45 236.74,-37.37 236.54,-36.09 C236.34,-34.81 234.97,-33.79 234.18,-34.56 C233.4,-35.32 231.63,-39.41 231.83,-40.68Z" fill="#ff2000"/><path d="M269.53,15.96 C270.12,15.19 274.17,15.14 275.42,15.65 C276.68,16.16 277.66,18.25 277.07,19.02 C276.48,19.78 273.15,20.75 271.89,20.24 C270.63,19.73 268.94,16.72 269.53,15.96Z" fill="#ff2000"/><g fill="#cdcdcd" stroke="#8c8c8c" stroke-width="0.5" vector-effect="non-scaling-stroke" stroke-linejoin="round"><path d="M95,-75 L180,-75 L180.8,-69.4 L179.5,-66 L178.5,-64.8 L176,-63.3 L169,-62.5 L164,-62 L163.5,-60 L163.5,-58 L162,-56 L161,-54 L158.5,-52.5 L156.7,-51 L156,-52.5 L156,-57 L155,-57.5 L150,-57.5 L145,-57.2 L141,-57 L138,-56 L137,-54 L140,-53.5 L141.2,-53 L141.5,-52 L140.5,-49 L140,-48 L138,-46 L135,-43.5 L132,-43 L130.7,-42.3 L129.7,-40.8 L129.5,-40.5 L128,-39 L129.4,-37 L129.3,-35.3 L127.5,-34.6 L126.3,-34.5 L126.5,-36 L126.6,-37.5 L125,-38 L125,-39.5 L124.5,-39.9 L122,-40.5 L121.2,-38.8 L121.7,-39.8 L121.5,-40.8 L119.5,-39.8 L118,-39 L117.7,-38.3 L119,-37.2 L120.5,-37.8 L122.5,-37.4 L121,-36.5 L120,-35.5 L119.5,-34.5 L120.5,-33 L121.5,-32 L121.9,-30.9 L122,-30 L121.5,-28.5 L120.5,-27 L119.5,-25.5 L118.5,-24.5 L117,-23.5 L116,-22.8 L114,-22.3 L113.5,-22.2 L111.5,-21.5 L110.5,-20.4 L110,-21.5 L108.5,-21.6 L106.4,-21 L105.5,-17 L104.4,-13.3 L101.1,-10.4 L99,-8 L95,-8 L95,-75Z" vector-effect="non-scaling-stroke"/><path d="M108.6,-19.1 L109.5,-18.2 L110.5,-18.6 L111,-19.6 L110.5,-20.1 L109.6,-20 L108.7,-19.5Z" vector-effect="non-scaling-stroke"/><path d="M120.1,-23 L120.7,-22 L121,-22.5 L121.9,-24.5 L121.5,-25.3 L121,-25 L120.2,-23.8Z" vector-effect="non-scaling-stroke"/><path d="M129.8,-33.3 L130.3,-31.2 L131,-31.3 L131.8,-32.5 L132,-33.5 L131,-33.9 L130.5,-33.9Z" vector-effect="non-scaling-stroke"/><path d="M132.4,-33.3 L133.5,-33.2 L134.7,-33.8 L134.2,-34.3 L133,-34.1Z" vector-effect="non-scaling-stroke"/><path d="M131,-34.3 L132.5,-35.3 L135,-35.7 L136,-35.9 L136.8,-37.3 L138,-37.2 L139.5,-38.5 L140,-40 L140.3,-41.3 L141.4,-41.4 L141.5,-40 L142,-39.4 L141,-38.3 L141,-37 L140.8,-35.7 L140,-35 L139.2,-35.2 L138.7,-34.6 L137,-34.6 L136.8,-34.3 L135.8,-33.5 L135.1,-34.3 L134,-34.6 L132.5,-34.1 L131.2,-33.9Z" vector-effect="non-scaling-stroke"/><path d="M140,-41.6 L141,-41.8 L141.5,-42.6 L143.3,-41.9 L144.5,-42.9 L145.8,-43.3 L145.2,-44.1 L144,-44.1 L142.5,-45.4 L141.7,-45.4 L141.8,-44 L141.3,-43.2 L140.3,-43.3 L140.1,-42.3Z" vector-effect="non-scaling-stroke"/><path d="M142,-46 L143.5,-46.2 L143,-47.5 L142.7,-49.5 L143.2,-51.5 L143,-53.5 L142.6,-54.3 L142.2,-53.4 L141.7,-51 L142,-48 L141.9,-46.6Z" vector-effect="non-scaling-stroke"/><path d="M120.6,-18.5 L122.2,-18.5 L122.3,-17 L121.6,-15.8 L121.6,-14.3 L122.5,-14 L124,-13 L124.2,-12.6 L123.3,-12.9 L122,-13.7 L120.7,-13.8 L120.6,-14.5 L120,-15.3 L119.8,-16.3 L120.4,-16.7Z" vector-effect="non-scaling-stroke"/><path d="M122,-7 L123.5,-7.5 L124,-7.1 L125.4,-5.7 L126.3,-6.3 L126.6,-7.3 L126.2,-9 L125.5,-9.8 L124.5,-8.6 L123.5,-8.6 L122.2,-7.6Z" vector-effect="non-scaling-stroke"/><path d="M124.5,-12.5 L125.7,-11.2 L125,-10 L124.3,-10.2 L123.3,-10.6 L122,-10.5 L121.9,-11.8 L123,-11.7 L124,-12.5Z" vector-effect="non-scaling-stroke"/><path d="M117.2,-8.4 L118.5,-9.3 L119.6,-10.5 L119.3,-11 L118,-10 L117.1,-8.6Z" vector-effect="non-scaling-stroke"/><path d="M120.3,-13.5 L121.5,-13.2 L121.2,-12.2 L120.4,-12.6Z" vector-effect="non-scaling-stroke"/><path d="M109,-1.5 L109.6,-2 L111,-1.7 L113,-3.1 L114,-4.6 L115.3,-5 L116,-6 L117,-7 L117.7,-6.2 L119.2,-5.3 L118,-4.5 L117.8,-3.5 L118,-2 L118.9,-1 L117.8,-0.8 L117.5,0.5 L116.6,1.5 L116.3,3.5 L114.5,4 L113,3.3 L111.5,3 L110.3,2.9 L110,1.5 L109.2,0.5Z" vector-effect="non-scaling-stroke"/><path d="M119.5,5.5 L120.5,5.5 L120.4,3 L121.2,2.8 L121.5,4.6 L122.8,4.7 L122,3 L122.5,1.5 L121,1.4 L120.7,-0.5 L123,-0.5 L124.5,-1 L125.2,-1.5 L124.3,-0.3 L121.5,-0.5 L120,-0.8 L119.7,0.5 L118.8,2.7 L119.5,3.5Z" vector-effect="non-scaling-stroke"/><path d="M95.3,-5.6 L97.5,-5.2 L98.7,-3.8 L100.4,-2.2 L101.5,-1.7 L103.5,0.5 L104.5,2 L106,3 L105.9,5.8 L104.5,5.7 L102,4 L100.5,1.5 L99,-0.2 L97.5,-2.2 L96,-4Z" vector-effect="non-scaling-stroke"/><path d="M105.2,6.8 L106,5.9 L108.3,6.3 L110.5,6.8 L112.6,6.9 L114.5,7.7 L114.4,8.7 L112,8.3 L108.5,7.8 L106.4,7.4 L105.5,6.9Z" vector-effect="non-scaling-stroke"/><path d="M115,8.2 L116.5,8.5 L119,8.3 L121,8.4 L123,8.3 L125,8.3 L127,8.5 L127.2,8.9 L125,9.5 L124,10.2 L123.5,10.3 L121,8.8 L119,8.8 L116.5,9 L115,8.8Z" vector-effect="non-scaling-stroke"/><path d="M127.5,-1.5 L128.5,-2 L128.2,-0.5 L128.7,0.7 L127.5,0.8 L127.7,-0.8Z" vector-effect="non-scaling-stroke"/><path d="M128,3 L130.8,3.3 L130.5,3.8 L128.2,3.7Z" vector-effect="non-scaling-stroke"/><path d="M126,3.2 L127.2,3.3 L127,3.8 L126.1,3.7Z" vector-effect="non-scaling-stroke"/><path d="M131,1 L132.5,0.4 L134,0.8 L135,3.3 L137.5,1.5 L140,2.4 L144.5,3.8 L146,5.5 L147.5,6 L147.7,8 L150,10.2 L148,10.2 L146,8 L144,7.7 L143,9 L141,9.2 L139,8.1 L138,8.4 L137.7,6 L135,4.4 L134,4 L133,4.1 L132,2.9 L133.5,2.2 L132,2 L131,1.4Z" vector-effect="non-scaling-stroke"/><path d="M148.5,5.5 L151,5 L152,4.2 L152.4,5.5 L150.5,6.2 L148.8,6.2Z" vector-effect="non-scaling-stroke"/><path d="M150.5,2.5 L152,3.5 L153,4.6 L152.5,4.5 L151,3Z" vector-effect="non-scaling-stroke"/><path d="M155,6 L157,7.5 L159,8 L161,9.5 L162,10.5 L160,9.5 L157,8.5 L155.5,7Z" vector-effect="non-scaling-stroke"/><path d="M177.5,17.5 L178.6,17.7 L178.4,18.2 L177.3,18.1Z" vector-effect="non-scaling-stroke"/><path d="M113.5,22 L114,21.8 L116.7,20.6 L119,20 L121,19.5 L122.3,18 L122.2,17 L123.5,16.3 L124.5,15.3 L126,14 L127.5,14 L128.2,15 L129.5,14.8 L129.8,13.5 L130.6,12.4 L132,11.5 L133,11.6 L134,11.9 L135.5,12.1 L136.7,12 L136.5,13.3 L135.9,14.8 L137,15.8 L139,17 L140.8,17.4 L141.6,15 L141.5,13 L142,11 L142.5,10.7 L143.5,12.5 L143.7,14 L145.3,14.9 L145.4,16.4 L146.1,17.8 L146.3,19 L148.8,20.3 L149.5,22 L150,23 L145,25 L113,25Z" vector-effect="non-scaling-stroke"/><path d="M204.2,-19.9 L205,-19.5 L204.5,-18.9 L204,-19.3Z" vector-effect="non-scaling-stroke"/><path d="M203.4,-21 L204,-20.7 L203.6,-20.5Z" vector-effect="non-scaling-stroke"/><path d="M201.8,-21.6 L202.3,-21.4 L201.9,-21.3Z" vector-effect="non-scaling-stroke"/><path d="M186,-69.4 L186,-75 L266,-75 L277,-75 L275,-70 L277,-69.5 L277.5,-68 L276.5,-67 L275.3,-66.6 L274.5,-66 L273,-65.8 L272,-65.3 L270.5,-64.5 L269.5,-63.5 L267.5,-62.5 L266,-61.5 L265.5,-60 L265.5,-58.8 L266.5,-58.7 L267,-57.5 L268,-57 L270,-57 L272,-56 L273.5,-55.4 L275,-55.3 L277,-55.2 L278.5,-54.5 L281.3,-54.5 L282.5,-55.3 L283.5,-56.5 L283.7,-57.5 L283,-58.5 L282,-59.7 L282,-61 L282.5,-62.3 L283,-62.5 L285,-62.3 L287,-61.8 L289,-61 L290.3,-60 L290,-59 L290.5,-58.5 L292,-58.2 L293,-58.8 L294,-59.3 L295.5,-60.3 L296,-59.5 L297.5,-58.5 L298,-57.5 L298,-56.5 L299,-56 L300.5,-55.3 L302.5,-54.5 L303.5,-53.5 L304.5,-52.5 L304,-52 L303,-51.5 L301.5,-51 L300,-50.3 L298.5,-50.2 L296,-50.2 L293.5,-50 L292.5,-49.3 L291.5,-48.7 L290,-48 L289,-47.2 L288.5,-46.8 L289.5,-47 L290.5,-47.8 L292,-48.2 L293.5,-48.8 L294.5,-48.9 L295.8,-48.7 L295.3,-47.8 L295,-47 L295.5,-46.2 L296,-46.2 L296.5,-45.8 L298,-45.7 L298.5,-46 L299,-46.8 L299.6,-47 L300,-46 L299,-45.2 L298,-44.6 L296.5,-44.3 L295.5,-43.5 L294.3,-43.5 L294,-44.5 L295.5,-45 L295.5,-45.7 L295,-45.3 L294.5,-45.3 L293.8,-45 L293,-44.7 L291.7,-44.3 L290.5,-43.7 L289.5,-43 L289.8,-42 L290,-41.7 L289,-41.2 L287.5,-40.7 L286,-40.5 L285.5,-39.5 L285,-38.8 L284.5,-38 L284,-37 L284.2,-36 L284.3,-35.2 L282.5,-34.5 L281.5,-33.7 L280,-32.5 L279,-31.5 L278.7,-30.3 L279.5,-28.5 L280,-27 L279.9,-25.8 L279.3,-25.2 L278.5,-25.3 L278,-26.5 L277.7,-27.5 L277.3,-28.5 L275.8,-29.8 L274,-30 L272.5,-30.4 L271,-30 L270.8,-29 L269,-29.3 L268,-29.6 L266.5,-29.7 L265.2,-29.3 L263.7,-28 L263,-27 L262.5,-25.5 L262.3,-23.5 L262.7,-21.3 L264,-19.3 L265.5,-18.3 L266.5,-18.6 L268.3,-18.6 L269.5,-19.8 L269.8,-21.2 L271.5,-21.4 L273,-21.5 L272.5,-18.5 L271.8,-17.5 L272,-16.2 L273,-15.8 L275,-16 L276.8,-15 L276.5,-14 L276.5,-12 L277.5,-10.5 L279,-9 L280,-9.5 L281,-9.2 L282.5,-9.2 L283,-10 L284,-11 L285.5,-11.5 L287,-12.3 L288,-11.5 L287.7,-11 L288.5,-11.6 L289.5,-12.2 L290,-11.3 L292,-10.6 L295,-10.5 L297,-10.6 L298.5,-10.2 L300,-8.6 L301,-7.7 L303,-6.7 L305,-5.9 L307.5,-5.7 L309,-4 L310,-2 L310.5,-0.5 L311.5,0.5 L314,0.3 L316,1 L318,1.5 L320,2.5 L322.7,3.7 L324,5 L325,5.5 L325,7.5 L324,9 L322.5,11 L321,13 L321,16 L320.5,18.5 L319.5,20 L320,25 L289.8,25 L289.7,20 L288.5,18 L287.5,17 L286,16 L284.5,15 L283.5,13.3 L282,11 L281,9 L280.2,7.5 L279,6 L278.7,4.5 L279,3 L279.7,2.2 L279.9,0 L281,-1.2 L282,-2.5 L282.5,-4 L282.3,-6 L281.5,-7.5 L280.8,-8.5 L280,-8.5 L279.5,-7.5 L278,-8 L277,-8.2 L275.5,-9.2 L274.3,-10 L273.5,-11 L272.5,-12.5 L270.5,-13.3 L269,-14 L268,-15 L267,-16.1 L265.5,-15.8 L264,-16 L262,-16.8 L260,-17.5 L258.5,-18 L257,-18.5 L255.5,-19.2 L254.6,-20.5 L254.5,-21.5 L253.5,-23 L252.5,-24 L251.5,-25.5 L251,-26.5 L250,-27.5 L249,-28.5 L248,-29 L247.5,-30 L246.5,-31.5 L245.2,-31.7 L245.5,-30.5 L246.2,-29 L247.5,-27.5 L248,-26.5 L249,-25.5 L249.5,-24.5 L250.5,-23.5 L249.8,-23 L248,-24.3 L246,-26 L245.2,-27 L245,-28 L244,-29.5 L243.5,-31 L242.8,-32.5 L242,-33.7 L241,-34 L239,-35 L238,-36.5 L237.5,-37.8 L236.3,-39 L235.7,-40.4 L235.6,-42 L236,-44 L235.8,-46.2 L235.3,-48.2 L235,-48.8 L232.5,-49.5 L231,-50.8 L229.5,-52.5 L228,-54 L226,-54.5 L224.8,-55.5 L223.5,-57 L222,-58 L221,-59 L219.5,-59.5 L217,-59.7 L215,-60 L213,-60.2 L211,-60.5 L209,-60.2 L208,-60.5 L205.5,-60 L202,-60 L199,-61.5 L197.3,-62.5 L195,-63.5 L192.7,-64.8 L190.5,-66.5 L189.5,-68 L189,-69.4Z" vector-effect="non-scaling-stroke"/><path d="M240,-70 L245,-69.2 L250,-69.3 L253,-69.3 L255,-70 L255,-72 L240,-72Z" vector-effect="non-scaling-stroke"/><path d="M273.5,-64 L275,-65.5 L276,-65.8 L277,-65.2 L279,-64.2 L277.5,-63.8 L276,-63.5 L274,-63.7Z" vector-effect="non-scaling-stroke"/><path d="M279.5,-70 L279.5,-72 L292,-72 L292,-70 L293,-69 L296,-67.5 L298,-66.5 L297,-66 L294,-65 L296,-64.5 L295,-63 L293,-63.5 L292,-62.5 L288,-62.5 L286,-63.5 L283,-64.5 L282,-65.5 L287,-66.5 L285,-67.5 L280,-68.5Z" vector-effect="non-scaling-stroke"/><path d="M300.6,-47.6 L301,-48.5 L302.4,-49.5 L303,-50.5 L304.5,-51.6 L304.4,-51 L304,-49.8 L304.5,-49.5 L306,-49.5 L306.5,-48.5 L307.2,-47.6 L306.8,-46.7 L306,-47 L305.1,-47 L304.5,-47.5 L303.5,-47.6 L302,-47.6Z" vector-effect="non-scaling-stroke"/><path d="M295.5,-49.9 L298.2,-49.3 L298.2,-49.1 L295.6,-49.6Z" vector-effect="non-scaling-stroke"/><path d="M296,-46.5 L297.5,-46.9 L298,-46.4 L296.5,-46.1Z" vector-effect="non-scaling-stroke"/><path d="M306.5,-70 L306,-68.5 L306.5,-67 L307,-66 L308,-64.8 L309.2,-63.5 L310.3,-62.5 L312,-61 L314,-60.5 L316.5,-59.8 L317.5,-60.3 L318,-61 L319.5,-62.5 L320.5,-64 L322,-65.2 L323,-65.5 L325,-66 L328,-68 L331,-68.5 L334,-69 L337,-70 L337,-75 L306,-75Z" vector-effect="non-scaling-stroke"/><path d="M336,-65.5 L337.5,-66.4 L342,-66.1 L345,-66.5 L346.5,-65.3 L345.5,-64.4 L342,-63.4 L337.5,-63.8 L338,-64.5 L336,-65Z" vector-effect="non-scaling-stroke"/><path d="M354.3,-58.6 L356.8,-58.6 L358,-57.6 L358,-57 L357.8,-56 L358.5,-55.5 L358.5,-54 L359.5,-53.5 L360.3,-53 L361.7,-52.8 L361.4,-51.5 L361,-51 L359.5,-50.8 L358,-50.6 L355,-50 L354.3,-50.2 L355.5,-51.3 L356.5,-51.6 L355.5,-51.8 L354.8,-51.7 L355.7,-53 L355.4,-53.4 L357,-53.3 L357,-54 L356.6,-54.5 L355,-54.8 L354.4,-55.8 L354.2,-56.6 L354.2,-57.6Z" vector-effect="non-scaling-stroke"/><path d="M350,-51.7 L351,-51.5 L353.7,-52.1 L354,-53.3 L354.1,-54 L354.4,-54.6 L354,-55.2 L352.5,-55.3 L351.5,-54.6 L350.3,-54.2 L350.7,-53.5 L350,-53.3 L350.6,-52.5Z" vector-effect="non-scaling-stroke"/><path d="M361,-51 L360,-49.7 L358.5,-49.5 L358,-48.7 L355.5,-48.5 L356,-47.7 L357.8,-47.2 L358.8,-46 L358.7,-44.5 L358.2,-43.5 L356,-43.4 L353,-43.8 L351,-43.2 L351.2,-42 L351.2,-40.5 L350.8,-39 L351.2,-38 L351.2,-37 L352,-37 L353.5,-37.2 L354.5,-36.2 L354.6,-36 L354.4,-35.9 L353.5,-35.8 L353.2,-35 L352.5,-34 L351.5,-33.4 L350.7,-32.5 L350.5,-31.5 L350.3,-30.5 L350.2,-30 L349.2,-28.8 L347,-28 L346,-27.5 L345.3,-26.2 L344.5,-25 L344,-24 L343.4,-22.5 L343,-21 L343.9,-20 L343.6,-19.2 L344,-18 L343.8,-16.5 L343.5,-15.5 L342.6,-14.7 L343.2,-14 L343.3,-12.3 L344.5,-11.5 L345.5,-10.5 L346.5,-9.5 L347,-9 L348,-8 L349.5,-6.8 L351,-5.2 L352.5,-4.4 L354,-5 L356,-5.1 L358,-4.8 L360,-5.5 L362,-6 L365,-6 L365,-60 L361,-60Z" vector-effect="non-scaling-stroke"/><path d="M275.5,-21.8 L277,-22 L279,-23 L281,-23.2 L283,-22.5 L285,-21 L285.9,-20.2 L283.5,-19.9 L282.5,-20.5 L281,-21.5 L278.5,-21.5 L277.5,-22.3 L275.6,-21.5Z" vector-effect="non-scaling-stroke"/><path d="M285.5,-18.2 L286.5,-19.9 L288,-19.9 L289.5,-19.6 L291,-19 L291.6,-18.5 L290.5,-18.2 L288.5,-18.3 L287,-17.7 L286,-18Z" vector-effect="non-scaling-stroke"/><path d="M281.6,-18.4 L283.7,-18.4 L283.8,-17.9 L282,-18.1Z" vector-effect="non-scaling-stroke"/><path d="M292.8,-18.5 L294.3,-18.4 L294.3,-18 L292.8,-18Z" vector-effect="non-scaling-stroke"/><path d="M298.4,-10.7 L299.1,-10.8 L299,-10.1 L298.3,-10.1Z" vector-effect="non-scaling-stroke"/></g></svg><circle cx="176.5" cy="523.4" r="1.35" fill="#000"/><circle cx="176.5" cy="532.04" r="1.35" fill="#000"/><circle cx="180.82" cy="527.72" r="1.35" fill="#000"/><circle cx="185.14" cy="523.4" r="1.35" fill="#000"/><circle cx="185.14" cy="532.04" r="1.35" fill="#000"/><circle cx="189.46" cy="519.08" r="1.35" fill="#000"/><circle cx="189.46" cy="527.72" r="1.35" fill="#000"/><circle cx="189.46" cy="536.36" r="1.35" fill="#000"/><circle cx="193.78" cy="514.76" r="1.35" fill="#000"/><circle cx="193.78" cy="523.4" r="1.35" fill="#000"/><circle cx="193.78" cy="532.04" r="1.35" fill="#000"/><circle cx="193.78" cy="540.68" r="1.35" fill="#000"/><circle cx="198.1" cy="519.08" r="1.35" fill="#000"/><circle cx="198.1" cy="527.72" r="1.35" fill="#000"/><circle cx="198.1" cy="536.36" r="1.35" fill="#000"/><circle cx="198.1" cy="545" r="1.35" fill="#000"/><circle cx="202.42" cy="514.76" r="1.35" fill="#000"/><circle cx="202.42" cy="523.4" r="1.35" fill="#000"/><circle cx="202.42" cy="532.04" r="1.35" fill="#000"/><circle cx="202.42" cy="540.68" r="1.35" fill="#000"/><circle cx="202.42" cy="549.32" r="1.35" fill="#000"/><circle cx="206.74" cy="510.44" r="1.35" fill="#000"/><circle cx="206.74" cy="519.08" r="1.35" fill="#000"/><circle cx="206.74" cy="527.72" r="1.35" fill="#000"/><circle cx="206.74" cy="536.36" r="1.35" fill="#000"/><circle cx="206.74" cy="545" r="1.35" fill="#000"/><circle cx="211.06" cy="514.76" r="1.35" fill="#000"/><circle cx="211.06" cy="523.4" r="1.35" fill="#000"/><circle cx="211.06" cy="532.04" r="1.35" fill="#000"/><circle cx="211.06" cy="540.68" r="1.35" fill="#000"/><circle cx="211.06" cy="549.32" r="1.35" fill="#000"/><circle cx="215.38" cy="510.44" r="1.35" fill="#000"/><circle cx="215.38" cy="519.08" r="1.35" fill="#000"/><circle cx="215.38" cy="527.72" r="1.35" fill="#000"/><circle cx="215.38" cy="536.36" r="1.35" fill="#000"/><circle cx="215.38" cy="545" r="1.35" fill="#000"/><circle cx="219.7" cy="514.76" r="1.35" fill="#000"/><circle cx="219.7" cy="523.4" r="1.35" fill="#000"/><circle cx="219.7" cy="532.04" r="1.35" fill="#000"/><circle cx="219.7" cy="540.68" r="1.35" fill="#000"/><circle cx="219.7" cy="549.32" r="1.35" fill="#000"/><circle cx="219.7" cy="480.2" r="1.35" fill="#000"/><circle cx="219.7" cy="488.84" r="1.35" fill="#000"/><circle cx="219.7" cy="497.48" r="1.35" fill="#000"/><circle cx="219.7" cy="506.12" r="1.35" fill="#000"/><circle cx="219.7" cy="514.76" r="1.35" fill="#000"/><circle cx="219.7" cy="523.4" r="1.35" fill="#000"/><circle cx="219.7" cy="532.04" r="1.35" fill="#000"/><circle cx="219.7" cy="540.68" r="1.35" fill="#000"/><circle cx="219.7" cy="549.32" r="1.35" fill="#000"/><circle cx="224.02" cy="484.52" r="1.35" fill="#000"/><circle cx="224.02" cy="493.16" r="1.35" fill="#000"/><circle cx="224.02" cy="501.8" r="1.35" fill="#000"/><circle cx="224.02" cy="510.44" r="1.35" fill="#000"/><circle cx="224.02" cy="519.08" r="1.35" fill="#000"/><circle cx="224.02" cy="527.72" r="1.35" fill="#000"/><circle cx="224.02" cy="536.36" r="1.35" fill="#000"/><circle cx="224.02" cy="545" r="1.35" fill="#000"/><circle cx="228.34" cy="488.84" r="1.35" fill="#000"/><circle cx="228.34" cy="497.48" r="1.35" fill="#000"/><circle cx="228.34" cy="506.12" r="1.35" fill="#000"/><circle cx="228.34" cy="514.76" r="1.35" fill="#000"/><circle cx="228.34" cy="523.4" r="1.35" fill="#000"/><circle cx="228.34" cy="532.04" r="1.35" fill="#000"/><circle cx="228.34" cy="540.68" r="1.35" fill="#000"/><circle cx="228.34" cy="549.32" r="1.35" fill="#000"/><circle cx="232.66" cy="493.16" r="1.35" fill="#000"/><circle cx="232.66" cy="501.8" r="1.35" fill="#000"/><circle cx="232.66" cy="510.44" r="1.35" fill="#000"/><circle cx="232.66" cy="519.08" r="1.35" fill="#000"/><circle cx="232.66" cy="527.72" r="1.35" fill="#000"/><circle cx="232.66" cy="536.36" r="1.35" fill="#000"/><circle cx="232.66" cy="545" r="1.35" fill="#000"/><circle cx="236.98" cy="497.48" r="1.35" fill="#000"/><circle cx="236.98" cy="506.12" r="1.35" fill="#000"/><circle cx="236.98" cy="514.76" r="1.35" fill="#000"/><circle cx="236.98" cy="523.4" r="1.35" fill="#000"/><circle cx="236.98" cy="532.04" r="1.35" fill="#000"/><circle cx="236.98" cy="540.68" r="1.35" fill="#000"/><circle cx="236.98" cy="549.32" r="1.35" fill="#000"/><circle cx="241.3" cy="501.8" r="1.35" fill="#000"/><circle cx="241.3" cy="510.44" r="1.35" fill="#000"/><circle cx="241.3" cy="519.08" r="1.35" fill="#000"/><circle cx="241.3" cy="527.72" r="1.35" fill="#000"/><circle cx="241.3" cy="536.36" r="1.35" fill="#000"/><circle cx="241.3" cy="545" r="1.35" fill="#000"/><circle cx="245.62" cy="506.12" r="1.35" fill="#000"/><circle cx="245.62" cy="514.76" r="1.35" fill="#000"/><circle cx="245.62" cy="523.4" r="1.35" fill="#000"/><circle cx="245.62" cy="532.04" r="1.35" fill="#000"/><circle cx="245.62" cy="540.68" r="1.35" fill="#000"/><circle cx="245.62" cy="549.32" r="1.35" fill="#000"/><circle cx="249.94" cy="510.44" r="1.35" fill="#000"/><circle cx="249.94" cy="519.08" r="1.35" fill="#000"/><circle cx="249.94" cy="527.72" r="1.35" fill="#000"/><circle cx="249.94" cy="536.36" r="1.35" fill="#000"/><circle cx="249.94" cy="545" r="1.35" fill="#000"/><circle cx="254.26" cy="514.76" r="1.35" fill="#000"/><circle cx="254.26" cy="523.4" r="1.35" fill="#000"/><circle cx="254.26" cy="532.04" r="1.35" fill="#000"/><circle cx="254.26" cy="540.68" r="1.35" fill="#000"/><circle cx="254.26" cy="549.32" r="1.35" fill="#000"/><circle cx="258.58" cy="519.08" r="1.35" fill="#000"/><circle cx="258.58" cy="527.72" r="1.35" fill="#000"/><circle cx="258.58" cy="536.36" r="1.35" fill="#000"/><circle cx="258.58" cy="545" r="1.35" fill="#000"/><circle cx="262.9" cy="523.4" r="1.35" fill="#000"/><circle cx="262.9" cy="532.04" r="1.35" fill="#000"/><circle cx="262.9" cy="540.68" r="1.35" fill="#000"/><circle cx="262.9" cy="549.32" r="1.35" fill="#000"/><circle cx="167.86" cy="471.56" r="1.35" fill="#000"/><circle cx="176.5" cy="471.56" r="1.35" fill="#000"/><circle cx="206.74" cy="458.6" r="1.35" fill="#000"/><circle cx="128.98" cy="510.44" r="1.35" fill="#000"/><circle cx="137.62" cy="510.44" r="1.35" fill="#000"/><circle cx="146.26" cy="510.44" r="1.35" fill="#000"/><circle cx="141.94" cy="514.76" r="1.35" fill="#000"/><circle cx="154.9" cy="519.08" r="1.35" fill="#000"/><circle cx="180.82" cy="501.8" r="1.35" fill="#000"/><circle cx="176.5" cy="506.12" r="1.35" fill="#000"/><circle cx="185.14" cy="506.12" r="1.35" fill="#000"/><circle cx="215.38" cy="484.52" r="1.35" fill="#000"/><circle cx="211.06" cy="488.84" r="1.35" fill="#000"/><circle cx="215.38" cy="493.16" r="1.35" fill="#000"/><circle cx="219.7" cy="480.2" r="1.35" fill="#000"/><circle cx="258.58" cy="441.32" r="1.35" fill="#000"/><circle cx="262.9" cy="445.64" r="1.35" fill="#000"/><circle cx="271.54" cy="471.56" r="1.35" fill="#000"/><circle cx="280.18" cy="480.2" r="1.35" fill="#000"/><circle cx="284.5" cy="484.52" r="1.35" fill="#000"/><circle cx="310.42" cy="467.24" r="1.35" fill="#000"/><circle cx="310.42" cy="484.52" r="1.35" fill="#000"/><circle cx="249.94" cy="493.16" r="1.35" fill="#000"/><circle cx="254.26" cy="497.48" r="1.35" fill="#000"/><circle cx="293.14" cy="519.08" r="1.35" fill="#000"/><circle cx="314.74" cy="523.4" r="1.35" fill="#000"/><circle cx="224.02" cy="475.88" r="1.35" fill="#000"/>
<rect x="101.5" y="427.8" width="234.2" height="124.8" fill="none" stroke="#2a2a2a" stroke-width="1.1" />
<line x1="96.9" y1="441.67" x2="101.5" y2="441.67" stroke="#2a2a2a" stroke-width="1.1" />
<text x="90.2" y="445.37" font-size="10.3" text-anchor="end" fill="#000" >60N</text>
<line x1="96.9" y1="469.4" x2="101.5" y2="469.4" stroke="#2a2a2a" stroke-width="1.1" />
<text x="90.2" y="473.1" font-size="10.3" text-anchor="end" fill="#000" >40N</text>
<line x1="96.9" y1="497.13" x2="101.5" y2="497.13" stroke="#2a2a2a" stroke-width="1.1" />
<text x="90.2" y="500.83" font-size="10.3" text-anchor="end" fill="#000" >20N</text>
<line x1="96.9" y1="524.87" x2="101.5" y2="524.87" stroke="#2a2a2a" stroke-width="1.1" />
<text x="90.2" y="528.57" font-size="10.3" text-anchor="end" fill="#000" >0</text>
<line x1="96.9" y1="552.6" x2="101.5" y2="552.6" stroke="#2a2a2a" stroke-width="1.1" />
<text x="90.2" y="556.3" font-size="10.3" text-anchor="end" fill="#000" >20S</text>
<line x1="101.5" y1="552.6" x2="101.5" y2="557.2" stroke="#2a2a2a" stroke-width="1.1" />
<text x="101.5" y="572.6" font-size="10.3" text-anchor="middle" fill="#000" >100E</text>
<line x1="146.54" y1="552.6" x2="146.54" y2="557.2" stroke="#2a2a2a" stroke-width="1.1" />
<text x="146.54" y="572.6" font-size="10.3" text-anchor="middle" fill="#000" >150E</text>
<line x1="191.58" y1="552.6" x2="191.58" y2="557.2" stroke="#2a2a2a" stroke-width="1.1" />
<text x="191.58" y="572.6" font-size="10.3" text-anchor="middle" fill="#000" >160W</text>
<line x1="236.62" y1="552.6" x2="236.62" y2="557.2" stroke="#2a2a2a" stroke-width="1.1" />
<text x="236.62" y="572.6" font-size="10.3" text-anchor="middle" fill="#000" >110W</text>
<line x1="281.65" y1="552.6" x2="281.65" y2="557.2" stroke="#2a2a2a" stroke-width="1.1" />
<text x="281.65" y="572.6" font-size="10.3" text-anchor="middle" fill="#000" >60W</text>
<line x1="326.69" y1="552.6" x2="326.69" y2="557.2" stroke="#2a2a2a" stroke-width="1.1" />
<text x="326.69" y="572.6" font-size="10.3" text-anchor="middle" fill="#000" >10W</text>
<text x="101.3" y="422.1" font-size="12.9" text-anchor="start" fill="#000" letter-spacing="0.06">(e) PCorr. NATSI vs SON SST</text>
<svg x="373.4" y="427.8" width="234" height="124.8" viewBox="100 -70 260 90" preserveAspectRatio="none" overflow="hidden"><rect x="95" y="-75" width="270" height="100" fill="#fff"/><path d="M100.8,-20.78 C102.38,-21.29 105.91,-22.31 107.88,-22.31 C109.84,-22.31 111.22,-21.8 112.6,-20.78 C113.97,-19.76 115.35,-17.97 116.13,-16.19 C116.92,-14.4 116.72,-12.11 117.31,-10.07 C117.9,-8.02 118.49,-5.73 119.67,-3.94 C120.85,-2.16 122.42,-0.63 124.39,0.65 C126.35,1.93 129.7,2.44 131.46,3.71 C133.23,4.99 134.61,6.52 135,8.3 C135.4,10.09 135.2,12.64 133.82,14.43 C132.45,16.21 130.29,18 126.75,19.02 C123.21,20.04 116.92,20.3 112.6,20.55 C108.27,20.81 103.16,21.06 100.8,20.55 C98.44,20.04 98.84,24.12 98.44,17.49 C98.05,10.86 98.05,-12.87 98.44,-19.25 C98.84,-25.63 99.23,-20.27 100.8,-20.78Z" fill="#ffff00"/><path d="M120.85,-38.39 C121.64,-39.28 124.19,-40.55 125.57,-40.68 C126.94,-40.81 128.71,-40.17 129.11,-39.15 C129.5,-38.13 128.91,-35.58 127.93,-34.56 C126.94,-33.54 124.39,-32.9 123.21,-33.03 C122.03,-33.16 121.24,-34.43 120.85,-35.32 C120.46,-36.22 120.06,-37.49 120.85,-38.39Z" fill="#ffff00"/><path d="M133.82,-45.27 C135,-46.42 137.75,-47.32 139.72,-48.34 C141.69,-49.36 144.04,-50.63 145.62,-51.4 C147.19,-52.16 148.17,-53.69 149.15,-52.93 C150.14,-52.16 150.53,-48.85 151.51,-46.81 C152.5,-44.76 154.26,-42.47 155.05,-40.68 C155.84,-38.9 156.62,-37.62 156.23,-36.09 C155.84,-34.56 154.07,-32.52 152.69,-31.5 C151.32,-30.48 149.74,-30.09 147.97,-29.97 C146.21,-29.84 143.85,-30.22 142.08,-30.73 C140.31,-31.24 138.74,-31.88 137.36,-33.03 C135.99,-34.18 134.61,-36.22 133.82,-37.62 C133.04,-39.02 132.64,-40.17 132.64,-41.45 C132.64,-42.72 132.64,-44.13 133.82,-45.27Z" fill="#ffff00"/><path d="M192.79,-55.99 C193.18,-56.63 197.5,-57.65 199.86,-58.29 C202.22,-58.92 204.19,-59.69 206.94,-59.82 C209.69,-59.94 213.62,-59.43 216.37,-59.05 C219.12,-58.67 220.89,-58.03 223.45,-57.52 C226,-57.01 230.33,-57.14 231.7,-55.99 C233.08,-54.84 233.08,-51.27 231.7,-50.63 C230.33,-49.99 226.4,-51.73 223.45,-52.16 C220.5,-52.6 217.16,-52.9 214.01,-53.23 C210.87,-53.57 207.33,-53.95 204.58,-54.15 C201.83,-54.36 199.47,-54.15 197.5,-54.46 C195.54,-54.77 192.39,-55.35 192.79,-55.99Z" fill="#ffff00"/><path d="M162.13,-7 C163.7,-8.28 166.45,-8.28 169.2,-8.53 C171.95,-8.79 175.49,-8.41 178.64,-8.53 C181.78,-8.66 184.93,-9.05 188.07,-9.3 C191.22,-9.56 194.36,-9.81 197.5,-10.07 C200.65,-10.32 203.79,-10.45 206.94,-10.83 C210.08,-11.21 213.23,-11.98 216.37,-12.36 C219.52,-12.74 223.25,-12.87 225.81,-13.13 C228.36,-13.38 230.72,-19.58 231.7,-13.89 C232.69,-8.2 237.01,15.19 231.7,21.01 C226.4,26.83 206.35,21.6 199.86,21.01 C193.38,20.42 195.93,18.59 192.79,17.49 C189.64,16.39 184.93,15.06 180.99,14.43 C177.06,13.79 172.35,14.17 169.2,13.66 C166.06,13.15 163.89,12.77 162.13,11.37 C160.36,9.96 158.98,7.28 158.59,5.24 C158.2,3.2 159.18,1.16 159.77,-0.88 C160.36,-2.92 160.55,-5.73 162.13,-7Z" fill="#ffff00"/><path d="M168.02,14.43 C169.01,12.82 171.36,11.88 173.92,11.37 C176.47,10.86 180.21,11.11 183.35,11.37 C186.5,11.62 190.43,12 192.79,12.9 C195.15,13.79 197.11,15.37 197.5,16.72 C197.9,18.08 200.06,20.3 195.15,21.01 C190.23,21.72 172.54,22.11 168.02,21.01 C163.5,19.91 167.04,16.03 168.02,14.43Z" fill="#7fd77f"/><path d="M122.03,-10.07 C122.23,-11.6 123.21,-13.13 124.39,-14.66 C125.57,-16.19 127.14,-17.97 129.11,-19.25 C131.07,-20.53 133.43,-21.29 136.18,-22.31 C138.93,-23.33 142.86,-24.35 145.62,-25.37 C148.37,-26.39 150.33,-27.41 152.69,-28.44 C155.05,-29.46 157.8,-30.48 159.77,-31.5 C161.73,-32.52 163.31,-33.54 164.48,-34.56 C165.66,-35.58 166.06,-36.6 166.84,-37.62 C167.63,-38.64 169.2,-39.41 169.2,-40.68 C169.2,-41.96 167.63,-44 166.84,-45.27 C166.06,-46.55 165.66,-47.57 164.48,-48.34 C163.31,-49.1 161.14,-49.1 159.77,-49.87 C158.39,-50.63 156.23,-51.91 156.23,-52.93 C156.23,-53.95 158.39,-55.1 159.77,-55.99 C161.14,-56.88 162.13,-57.78 164.48,-58.29 C166.84,-58.8 170.77,-58.92 173.92,-59.05 C177.06,-59.18 180.21,-59.43 183.35,-59.05 C186.5,-58.67 190.04,-57.52 192.79,-56.76 C195.54,-55.99 197.5,-55.22 199.86,-54.46 C202.22,-53.69 204.97,-53.18 206.94,-52.16 C208.9,-51.14 211.26,-49.74 211.66,-48.34 C212.05,-46.93 210.87,-45.02 209.3,-43.74 C207.73,-42.47 204.19,-41.7 202.22,-40.68 C200.26,-39.66 197.5,-38.64 197.5,-37.62 C197.5,-36.6 200.65,-35.58 202.22,-34.56 C203.79,-33.54 205.76,-32.77 206.94,-31.5 C208.12,-30.22 209.3,-28.44 209.3,-26.9 C209.3,-25.37 208.12,-23.59 206.94,-22.31 C205.76,-21.04 203.79,-20.27 202.22,-19.25 C200.65,-18.23 199.08,-17.21 197.5,-16.19 C195.93,-15.17 194.75,-14.02 192.79,-13.13 C190.82,-12.23 188.07,-11.09 185.71,-10.83 C183.35,-10.58 180.99,-11.21 178.64,-11.6 C176.28,-11.98 173.13,-13.38 171.56,-13.13 C169.99,-12.87 170.38,-11.09 169.2,-10.07 C168.02,-9.05 166.06,-8.02 164.48,-7 C162.91,-5.98 160.95,-5.22 159.77,-3.94 C158.59,-2.67 158.2,-0.88 157.41,0.65 C156.62,2.18 156.23,3.97 155.05,5.24 C153.87,6.52 152.69,8.3 150.33,8.3 C147.97,8.3 143.65,6.26 140.9,5.24 C138.15,4.22 136.18,3.2 133.82,2.18 C131.46,1.16 128.52,0.39 126.75,-0.88 C124.98,-2.16 124,-3.94 123.21,-5.47 C122.42,-7 121.83,-8.53 122.03,-10.07Z" fill="#7fd77f"/><path d="M212.12,-57.32 C212.99,-57.64 223.82,-56.98 227.33,-55.99 C230.85,-55 231.66,-53.18 233.23,-51.4 C234.8,-49.61 235.78,-47.32 236.77,-45.27 C237.75,-43.23 238.14,-40.94 239.13,-39.15 C240.11,-37.37 241.09,-36.22 242.66,-34.56 C244.24,-32.9 246.4,-30.99 248.56,-29.2 C250.72,-27.41 253.28,-25.5 255.64,-23.84 C257.99,-22.18 260.35,-20.53 262.71,-19.25 C265.07,-17.97 267.63,-17.21 269.79,-16.19 C271.95,-15.17 273.92,-14.15 275.68,-13.13 C277.45,-12.11 279.22,-11.6 280.4,-10.07 C281.58,-8.53 282.17,-6.49 282.76,-3.94 C283.35,-1.39 283.35,2.18 283.94,5.24 C284.53,8.3 285.51,11.8 286.3,14.43 C287.08,17.06 301.24,19.91 288.66,21.01 C276.08,22.11 223.8,26.5 210.82,21.01 C197.85,15.52 209.76,-6.37 210.82,-11.9 C211.88,-17.44 214.75,-11.62 217.19,-12.21 C219.63,-12.8 223.39,-13.99 225.45,-15.42 C227.51,-16.85 228.59,-19 229.55,-20.78 C230.51,-22.57 230.82,-24.17 231.22,-26.14 C231.63,-28.1 232.15,-30.25 232,-32.57 C231.85,-34.89 231.15,-37.57 230.33,-40.07 C229.51,-42.57 228.46,-45.24 227.1,-47.57 C225.73,-49.91 224.64,-52.45 222.14,-54.08 C219.65,-55.7 211.26,-57 212.12,-57.32Z" fill="#ffff00"/><path d="M278.04,-25.37 C278.44,-27.16 280.4,-27.93 281.58,-29.97 C282.76,-32.01 283.55,-35.83 285.12,-37.62 C286.69,-39.41 288.85,-40.04 291.01,-40.68 C293.18,-41.32 295.73,-41.45 298.09,-41.45 C300.45,-41.45 302.81,-41.06 305.17,-40.68 C307.52,-40.3 310.28,-39.92 312.24,-39.15 C314.21,-38.39 314.6,-36.6 316.96,-36.09 C319.32,-35.58 323.25,-36.09 326.39,-36.09 C329.54,-36.09 333.08,-36.22 335.83,-36.09 C338.58,-35.96 341.72,-36.09 342.9,-35.32 C344.08,-34.56 343.69,-32.65 342.9,-31.5 C342.12,-30.35 340.15,-29.46 338.19,-28.44 C336.22,-27.41 333.47,-26.39 331.11,-25.37 C328.75,-24.35 326.39,-23.33 324.04,-22.31 C321.68,-21.29 319.32,-20.27 316.96,-19.25 C314.6,-18.23 312.24,-16.95 309.88,-16.19 C307.52,-15.42 305.17,-14.91 302.81,-14.66 C300.45,-14.4 298.09,-14.91 295.73,-14.66 C293.37,-14.4 290.82,-13.13 288.66,-13.13 C286.49,-13.13 284.33,-13.64 282.76,-14.66 C281.19,-15.68 280.01,-17.46 279.22,-19.25 C278.44,-21.04 277.65,-23.59 278.04,-25.37Z" fill="#ffff00"/><path d="M262.71,-28.44 C263.5,-29.71 266.45,-29.97 268.61,-29.97 C270.77,-29.97 274.31,-29.33 275.68,-28.44 C277.06,-27.54 277.06,-25.88 276.86,-24.61 C276.67,-23.33 275.88,-21.55 274.5,-20.78 C273.13,-20.02 270.38,-19.76 268.61,-20.02 C266.84,-20.27 264.87,-20.91 263.89,-22.31 C262.91,-23.72 261.93,-27.16 262.71,-28.44Z" fill="#ffff00"/><path d="M266.25,-62.88 C267.04,-64.03 271.16,-63.77 273.33,-63.64 C275.49,-63.52 277.65,-62.88 279.22,-62.11 C280.79,-61.35 282.56,-60.07 282.76,-59.05 C282.96,-58.03 281.78,-56.63 280.4,-55.99 C279.03,-55.35 276.47,-55.1 274.5,-55.22 C272.54,-55.35 269.98,-55.48 268.61,-56.76 C267.23,-58.03 265.46,-61.73 266.25,-62.88Z" fill="#ffff00"/><path d="M324.04,2.18 C324.82,-1.65 326.79,-7.51 328.75,-10.07 C330.72,-12.62 333.47,-12.87 335.83,-13.13 C338.19,-13.38 340.55,-12.62 342.9,-11.6 C345.26,-10.58 348.01,-8.28 349.98,-7 C351.94,-5.73 352.93,-4.71 354.7,-3.94 C356.47,-3.18 359.61,-6.57 360.59,-2.41 C361.58,1.75 367.08,17.11 360.59,21.01 C354.11,24.91 327.77,22.36 321.68,21.01 C315.58,19.66 323.64,16.03 324.04,12.9 C324.43,9.76 323.25,6.01 324.04,2.18Z" fill="#ffff00"/><path d="M321.68,-69 C323.25,-69.64 329.54,-69.51 333.47,-69.77 C337.4,-70.02 340.74,-70.28 345.26,-70.53 C349.78,-70.79 358.04,-76.27 360.59,-71.3 C363.15,-66.32 361.38,-45.02 360.59,-40.68 C359.81,-36.34 357.64,-43.23 355.88,-45.27 C354.11,-47.32 352.14,-50.12 349.98,-52.93 C347.82,-55.73 346.05,-60.07 342.9,-62.11 C339.76,-64.15 334.26,-64.54 331.11,-65.17 C327.97,-65.81 325.61,-65.3 324.04,-65.94 C322.46,-66.58 320.1,-68.36 321.68,-69Z" fill="#ffff00"/><path d="M302.81,-57.52 C304.38,-58.8 306.74,-59.82 309.88,-60.58 C313.03,-61.35 317.75,-61.73 321.68,-62.11 C325.61,-62.5 329.93,-62.88 333.47,-62.88 C337.01,-62.88 340.15,-62.75 342.9,-62.11 C345.66,-61.48 348.41,-60.33 349.98,-59.05 C351.55,-57.78 352.73,-55.99 352.34,-54.46 C351.94,-52.93 349.59,-51.01 347.62,-49.87 C345.66,-48.72 343.3,-48.08 340.55,-47.57 C337.79,-47.06 334.26,-47.19 331.11,-46.81 C327.97,-46.42 324.43,-46.04 321.68,-45.27 C318.92,-44.51 316.57,-42.98 314.6,-42.21 C312.64,-41.45 311.26,-40.43 309.88,-40.68 C308.51,-40.94 307.52,-42.47 306.35,-43.74 C305.17,-45.02 303.79,-46.81 302.81,-48.34 C301.83,-49.87 300.45,-51.4 300.45,-52.93 C300.45,-54.46 301.24,-56.25 302.81,-57.52Z" fill="#7fd77f"/><path d="M295.73,-65.17 C296.52,-66.32 299.07,-67.47 300.45,-67.47 C301.83,-67.47 303.59,-66.32 303.99,-65.17 C304.38,-64.03 303.59,-61.73 302.81,-60.58 C302.02,-59.43 300.45,-58.29 299.27,-58.29 C298.09,-58.29 296.32,-59.43 295.73,-60.58 C295.14,-61.73 294.95,-64.03 295.73,-65.17Z" fill="#7fd77f"/><path d="M138.54,-42.21 C139.6,-43.23 142.67,-44.64 144.44,-44.51 C146.21,-44.38 148.76,-42.85 149.15,-41.45 C149.55,-40.04 148.17,-37.11 146.8,-36.09 C145.42,-35.07 142.35,-34.94 140.9,-35.32 C139.44,-35.71 138.46,-37.24 138.07,-38.39 C137.68,-39.53 137.48,-41.19 138.54,-42.21Z" fill="#ffffff"/><path d="M183.35,-26.14 C184.41,-26.9 187.48,-27.67 189.25,-27.67 C191.02,-27.67 192.98,-27.03 193.97,-26.14 C194.95,-25.25 195.54,-23.33 195.15,-22.31 C194.75,-21.29 193.1,-20.32 191.61,-20.02 C190.11,-19.71 187.64,-19.96 186.18,-20.48 C184.73,-20.99 183.35,-22.13 182.88,-23.08 C182.41,-24.02 182.29,-25.37 183.35,-26.14Z" fill="#ffffff"/><path d="M209.3,-40.68 C210.28,-41.83 214.41,-42.21 216.37,-41.45 C218.34,-40.68 221.09,-37.75 221.09,-36.09 C221.09,-34.43 218.14,-31.75 216.37,-31.5 C214.6,-31.24 211.66,-33.03 210.48,-34.56 C209.3,-36.09 208.31,-39.53 209.3,-40.68Z" fill="#ffffff"/><path d="M293.37,-31.5 C294.16,-32.52 298.09,-32.52 300.45,-32.26 C302.81,-32.01 305.95,-30.86 307.52,-29.97 C309.1,-29.07 310.67,-27.67 309.88,-26.9 C309.1,-26.14 305.17,-25.5 302.81,-25.37 C300.45,-25.25 297.3,-25.12 295.73,-26.14 C294.16,-27.16 292.59,-30.48 293.37,-31.5Z" fill="#ffffff"/><path d="M335.83,-3.94 C336.81,-5.22 340.94,-5.98 342.9,-5.47 C344.87,-4.96 347.62,-2.41 347.62,-0.88 C347.62,0.65 344.67,3.2 342.9,3.71 C341.13,4.22 338.19,3.46 337.01,2.18 C335.83,0.91 334.85,-2.67 335.83,-3.94Z" fill="#ffffff"/><path d="M222.27,-55.22 C223.25,-56.25 230.13,-55.99 231.7,-54.46 C233.28,-52.93 232.69,-47.06 231.7,-46.04 C230.72,-45.02 227.38,-46.81 225.81,-48.34 C224.24,-49.87 221.29,-54.2 222.27,-55.22Z" fill="#ffc800"/><path d="M166.84,-3.94 C168.22,-5.6 171.17,-5.86 173.92,-6.24 C176.67,-6.62 180.21,-6.11 183.35,-6.24 C186.5,-6.37 189.64,-6.75 192.79,-7 C195.93,-7.26 199.08,-7.39 202.22,-7.77 C205.37,-8.15 208.51,-8.92 211.66,-9.3 C214.8,-9.68 217.75,-9.81 221.09,-10.07 C224.43,-10.32 229.94,-16.01 231.7,-10.83 C233.47,-5.65 236.22,15.7 231.7,21.01 C227.18,26.32 210.28,21.6 204.58,21.01 C198.88,20.42 200.26,18.59 197.5,17.49 C194.75,16.39 191.61,15.32 188.07,14.43 C184.53,13.53 179.42,12.9 176.28,12.13 C173.13,11.37 170.97,11.24 169.2,9.83 C167.43,8.43 166.06,6.01 165.66,3.71 C165.27,1.42 165.47,-2.28 166.84,-3.94Z" fill="#ffc800"/><path d="M170.38,15.96 C171.76,14.73 175.69,13.92 178.64,13.66 C181.58,13.41 185.91,13.53 188.07,14.43 C190.23,15.32 191.41,17.92 191.61,19.02 C191.8,20.12 192.79,20.68 189.25,21.01 C185.71,21.34 173.53,21.85 170.38,21.01 C167.24,20.17 169.01,17.18 170.38,15.96Z" fill="#2fbb2f"/><path d="M126.75,-11.6 C127.14,-13.64 129.11,-16.19 131.46,-17.72 C133.82,-19.25 137.75,-19.76 140.9,-20.78 C144.04,-21.8 147.58,-22.82 150.33,-23.84 C153.08,-24.86 155.44,-25.88 157.41,-26.9 C159.37,-27.93 160.55,-28.95 162.13,-29.97 C163.7,-30.99 165.27,-32.01 166.84,-33.03 C168.42,-34.05 169.99,-35.32 171.56,-36.09 C173.13,-36.85 175.1,-36.85 176.28,-37.62 C177.46,-38.39 179.03,-39.41 178.64,-40.68 C178.24,-41.96 175.49,-44 173.92,-45.27 C172.35,-46.55 170.38,-47.32 169.2,-48.34 C168.02,-49.36 166.84,-50.5 166.84,-51.4 C166.84,-52.29 167.63,-53.18 169.2,-53.69 C170.77,-54.2 173.53,-54.46 176.28,-54.46 C179.03,-54.46 182.57,-54.08 185.71,-53.69 C188.86,-53.31 192.39,-52.8 195.15,-52.16 C197.9,-51.53 200.26,-50.76 202.22,-49.87 C204.19,-48.97 206.55,-48.08 206.94,-46.81 C207.33,-45.53 206.15,-43.23 204.58,-42.21 C203.01,-41.19 199.86,-41.19 197.5,-40.68 C195.15,-40.17 192.79,-39.66 190.43,-39.15 C188.07,-38.64 185.32,-38.39 183.35,-37.62 C181.39,-36.85 180.21,-35.58 178.64,-34.56 C177.06,-33.54 175.49,-32.77 173.92,-31.5 C172.35,-30.22 169.99,-28.69 169.2,-26.9 C168.42,-25.12 169.59,-22.57 169.2,-20.78 C168.81,-19 167.63,-17.72 166.84,-16.19 C166.06,-14.66 165.66,-13.13 164.48,-11.6 C163.31,-10.07 161.34,-8.28 159.77,-7 C158.2,-5.73 156.23,-4.96 155.05,-3.94 C153.87,-2.92 153.87,-1.65 152.69,-0.88 C151.51,-0.12 149.55,0.65 147.97,0.65 C146.4,0.65 145.22,-0.37 143.26,-0.88 C141.29,-1.39 138.54,-1.65 136.18,-2.41 C133.82,-3.18 130.68,-3.94 129.11,-5.47 C127.53,-7 126.35,-9.56 126.75,-11.6Z" fill="#2fbb2f"/><path d="M232,-21.85 C232.87,-24.05 232.87,-27.21 233.7,-29.35 C234.53,-31.5 235.71,-34.1 237,-34.71 C238.3,-35.32 240.34,-34.33 241.48,-33.03 C242.62,-31.73 242.66,-28.44 243.84,-26.9 C245.02,-25.37 246.99,-24.86 248.56,-23.84 C250.13,-22.82 251.31,-21.8 253.28,-20.78 C255.24,-19.76 257.99,-18.74 260.35,-17.72 C262.71,-16.7 265.07,-15.68 267.43,-14.66 C269.79,-13.64 272.54,-12.87 274.5,-11.6 C276.47,-10.32 278.04,-8.79 279.22,-7 C280.4,-5.22 280.99,-3.43 281.58,-0.88 C282.17,1.67 282.17,5.24 282.76,8.3 C283.35,11.37 284.53,15.37 285.12,17.49 C285.71,19.61 298.68,20.42 286.3,21.01 C273.92,21.6 223.4,26.32 210.82,21.01 C198.24,15.7 208.86,-5.14 210.82,-10.83 C212.79,-16.52 219.67,-12.23 222.62,-13.13 C225.56,-14.02 226.95,-14.73 228.51,-16.19 C230.08,-17.64 231.14,-19.66 232,-21.85Z" fill="#ffc800"/><path d="M286.3,-37.62 C286.97,-38.77 290.62,-39.92 292.19,-39.92 C293.77,-39.92 295.54,-38.77 295.73,-37.62 C295.93,-36.47 294.63,-33.79 293.37,-33.03 C292.12,-32.26 289.36,-32.26 288.18,-33.03 C287.01,-33.79 285.63,-36.47 286.3,-37.62Z" fill="#ffc800"/><path d="M302.81,-36.09 C303.59,-36.98 307.13,-37.88 308.7,-37.62 C310.28,-37.37 312.44,-35.58 312.24,-34.56 C312.05,-33.54 308.9,-31.88 307.52,-31.5 C306.15,-31.11 304.77,-31.5 303.99,-32.26 C303.2,-33.03 302.02,-35.2 302.81,-36.09Z" fill="#ffc800"/><path d="M312.24,-26.9 C313.22,-27.8 316.96,-28.18 319.32,-28.44 C321.68,-28.69 324.43,-28.69 326.39,-28.44 C328.36,-28.18 331.11,-27.67 331.11,-26.9 C331.11,-26.14 328.36,-24.61 326.39,-23.84 C324.43,-23.08 321.48,-22.44 319.32,-22.31 C317.16,-22.18 314.6,-22.31 313.42,-23.08 C312.24,-23.84 311.26,-26.01 312.24,-26.9Z" fill="#ffc800"/><path d="M265.07,-26.9 C265.74,-27.67 269.39,-28.38 270.97,-28.13 C272.54,-27.87 274.5,-26.29 274.5,-25.37 C274.5,-24.46 272.22,-22.92 270.97,-22.62 C269.71,-22.31 267.94,-22.82 266.96,-23.54 C265.97,-24.25 264.4,-26.14 265.07,-26.9Z" fill="#ffc800"/><path d="M324.04,11.37 C325.41,9.5 329.15,9.32 331.11,9.83 C333.08,10.34 335.43,12.9 335.83,14.43 C336.22,15.96 335.04,17.92 333.47,19.02 C331.9,20.12 328.16,20.68 326.39,21.01 C324.62,21.34 323.25,22.62 322.86,21.01 C322.46,19.4 322.66,13.23 324.04,11.37Z" fill="#ffc800"/><path d="M345.26,8.3 C344.87,6.77 349.78,7.28 352.34,6.77 C354.89,6.26 359.22,3.46 360.59,5.24 C361.97,7.03 361.58,15.7 360.59,17.49 C359.61,19.27 357.25,17.49 354.7,15.96 C352.14,14.43 345.66,9.83 345.26,8.3Z" fill="#ffc800"/><path d="M309.88,-56.76 C311.65,-57.78 315.78,-58.54 319.32,-59.05 C322.86,-59.56 327.57,-59.82 331.11,-59.82 C334.65,-59.82 337.99,-59.69 340.55,-59.05 C343.1,-58.41 345.66,-57.27 346.44,-55.99 C347.23,-54.71 346.64,-52.55 345.26,-51.4 C343.89,-50.25 340.94,-49.61 338.19,-49.1 C335.43,-48.59 331.9,-48.46 328.75,-48.34 C325.61,-48.21 322.07,-48.08 319.32,-48.34 C316.57,-48.59 314.01,-49.1 312.24,-49.87 C310.47,-50.63 309.1,-51.78 308.7,-52.93 C308.31,-54.08 308.11,-55.73 309.88,-56.76Z" fill="#2fbb2f"/><path d="M100.8,-10.07 C101.98,-9.81 104.34,-8.53 105.52,-7 C106.7,-5.47 106.7,-2.16 107.88,-0.88 C109.06,0.39 110.24,0.14 112.6,0.65 C114.95,1.16 119.28,1.42 122.03,2.18 C124.78,2.95 127.73,3.97 129.11,5.24 C130.48,6.52 131.07,8.3 130.29,9.83 C129.5,11.37 126.94,13.41 124.39,14.43 C121.83,15.45 118.1,15.7 114.95,15.96 C111.81,16.21 108.27,16.21 105.52,15.96 C102.77,15.7 99.62,18.51 98.44,14.43 C97.27,10.34 98.05,-4.45 98.44,-8.53 C98.84,-12.62 99.62,-10.32 100.8,-10.07Z" fill="#ff8000"/><path d="M104.34,-19.25 C105.32,-20.14 107.88,-20.53 109.06,-20.02 C110.24,-19.51 111.22,-17.85 111.42,-16.19 C111.61,-14.53 110.63,-12.11 110.24,-10.07 C109.84,-8.02 109.84,-5.22 109.06,-3.94 C108.27,-2.67 106.5,-1.9 105.52,-2.41 C104.54,-2.92 103.55,-4.96 103.16,-7 C102.77,-9.05 102.97,-12.62 103.16,-14.66 C103.36,-16.7 103.36,-18.36 104.34,-19.25Z" fill="#ff8000"/><path d="M176.28,-3.18 C177.85,-4.33 182.17,-4.33 185.71,-4.71 C189.25,-5.09 193.57,-5.22 197.5,-5.47 C201.44,-5.73 205.37,-5.86 209.3,-6.24 C213.23,-6.62 217.36,-7.39 221.09,-7.77 C224.82,-8.15 229.94,-13.25 231.7,-8.53 C233.47,-3.81 233.47,15.96 231.7,20.55 C229.94,25.14 224.43,19.66 221.09,19.02 C217.75,18.38 214.8,17.49 211.66,16.72 C208.51,15.96 205.37,15.06 202.22,14.43 C199.08,13.79 195.93,13.53 192.79,12.9 C189.64,12.26 185.71,11.62 183.35,10.6 C180.99,9.58 179.82,8.18 178.64,6.77 C177.46,5.37 176.67,3.84 176.28,2.18 C175.88,0.52 174.71,-2.03 176.28,-3.18Z" fill="#ff8000"/><path d="M129.11,-14.66 C129.89,-15.93 133.43,-16.7 136.18,-17.72 C138.93,-18.74 142.47,-19.89 145.62,-20.78 C148.76,-21.67 152.3,-22.31 155.05,-23.08 C157.8,-23.84 160.16,-24.74 162.13,-25.37 C164.09,-26.01 166.45,-27.67 166.84,-26.9 C167.24,-26.14 165.66,-22.57 164.48,-20.78 C163.31,-19 161.34,-17.72 159.77,-16.19 C158.2,-14.66 156.23,-13.13 155.05,-11.6 C153.87,-10.07 153.67,-8.28 152.69,-7 C151.71,-5.73 150.53,-4.2 149.15,-3.94 C147.78,-3.69 146.21,-4.71 144.44,-5.47 C142.67,-6.24 140.7,-7.77 138.54,-8.53 C136.38,-9.3 133.04,-9.05 131.46,-10.07 C129.89,-11.09 128.32,-13.38 129.11,-14.66Z" fill="#0c8f3b"/><path d="M172.27,-49.87 C173.05,-51.32 176,-51.4 178.64,-51.7 C181.27,-52.01 184.93,-51.88 188.07,-51.7 C191.22,-51.53 194.56,-51.19 197.5,-50.63 C200.45,-50.07 204.19,-49.48 205.76,-48.34 C207.33,-47.19 207.53,-45.02 206.94,-43.74 C206.35,-42.47 204.19,-41.57 202.22,-40.68 C200.26,-39.79 197.5,-38.9 195.15,-38.39 C192.79,-37.88 190.43,-37.49 188.07,-37.62 C185.71,-37.75 183.35,-38.26 180.99,-39.15 C178.64,-40.04 175.37,-41.19 173.92,-42.98 C172.46,-44.76 171.48,-48.41 172.27,-49.87Z" fill="#0c8f3b"/><path d="M158.59,-54.46 C159.77,-55.22 165.07,-55.61 166.84,-55.22 C168.61,-54.84 169.59,-53.06 169.2,-52.16 C168.81,-51.27 166.06,-50.12 164.48,-49.87 C162.91,-49.61 160.75,-49.87 159.77,-50.63 C158.78,-51.4 157.41,-53.69 158.59,-54.46Z" fill="#0c8f3b"/><path d="M237.95,-15.42 C239.05,-17.24 238.26,-21.5 238.65,-24 C239.05,-26.5 239.48,-29 240.31,-30.43 C241.13,-31.85 242.23,-33.41 243.61,-32.57 C244.98,-31.73 246.95,-27.59 248.56,-25.37 C250.17,-23.15 251.71,-21.29 253.28,-19.25 C254.85,-17.21 257.21,-15.17 257.99,-13.13 C258.78,-11.09 258.39,-8.79 257.99,-7 C257.6,-5.22 254.85,-3.69 255.64,-2.41 C256.42,-1.14 260.35,-0.12 262.71,0.65 C265.07,1.42 268.22,1.16 269.79,2.18 C271.36,3.2 272.54,5.24 272.15,6.77 C271.75,8.3 269.79,10.6 267.43,11.37 C265.07,12.13 261.14,11.88 257.99,11.37 C254.85,10.86 251.31,9.07 248.56,8.3 C245.81,7.54 243.84,7.54 241.48,6.77 C239.13,6.01 236.77,4.48 234.41,3.71 C232.05,2.95 231.26,2.44 227.33,2.18 C223.4,1.93 213.57,3.97 210.82,2.18 C208.07,0.39 208.86,-6.37 210.82,-8.53 C212.79,-10.7 219.08,-10.07 222.62,-10.83 C226.15,-11.6 229.5,-12.36 232.05,-13.13 C234.61,-13.89 236.85,-13.61 237.95,-15.42Z" fill="#ff8000"/><path d="M227.33,9.83 C228.91,7.72 233.23,8.05 236.77,8.3 C240.31,8.56 245.02,10.34 248.56,11.37 C252.1,12.39 255.24,13.41 257.99,14.43 C260.75,15.45 263.5,16.39 265.07,17.49 C266.64,18.59 273.72,20.42 267.43,21.01 C261.14,21.6 234.02,22.87 227.33,21.01 C220.65,19.15 225.76,11.95 227.33,9.83Z" fill="#ff8000"/><path d="M241.48,-26.9 C241.88,-27.54 244.63,-26.9 246.2,-26.14 C247.77,-25.37 250.53,-23.33 250.92,-22.31 C251.31,-21.29 249.74,-20.02 248.56,-20.02 C247.38,-20.02 245.02,-21.16 243.84,-22.31 C242.66,-23.46 241.09,-26.27 241.48,-26.9Z" fill="#ff8000"/><path d="M314.6,-26.14 C315.07,-26.7 318.34,-27.16 319.32,-26.9 C320.3,-26.65 320.97,-25.17 320.5,-24.61 C320.03,-24.05 317.47,-23.28 316.49,-23.54 C315.5,-23.79 314.13,-25.58 314.6,-26.14Z" fill="#ff8000"/><path d="M286.77,-36.85 C287.16,-37.49 289.76,-38 290.54,-37.62 C291.33,-37.24 291.88,-35.2 291.49,-34.56 C291.09,-33.92 288.97,-33.41 288.18,-33.79 C287.4,-34.18 286.38,-36.22 286.77,-36.85Z" fill="#ff8000"/><path d="M273.33,-62.11 C273.72,-62.78 277.06,-62.27 278.04,-61.81 C279.03,-61.35 279.62,-60.02 279.22,-59.36 C278.83,-58.69 276.67,-57.37 275.68,-57.83 C274.7,-58.29 272.93,-61.45 273.33,-62.11Z" fill="#ff8000"/><path d="M340.55,-69.77 C341.13,-70.41 346.64,-70.41 349.98,-70.53 C353.32,-70.66 358.82,-71.94 360.59,-70.53 C362.36,-69.13 361.58,-63.13 360.59,-62.11 C359.61,-61.09 357.06,-63.64 354.7,-64.41 C352.34,-65.17 348.8,-65.81 346.44,-66.71 C344.08,-67.6 339.96,-69.13 340.55,-69.77Z" fill="#ff8000"/><path d="M313.42,-56.76 C314.6,-57.78 318.73,-58.03 321.68,-58.29 C324.62,-58.54 328.16,-58.54 331.11,-58.29 C334.06,-58.03 337.6,-57.52 339.37,-56.76 C341.13,-55.99 342.12,-54.71 341.72,-53.69 C341.33,-52.67 339.17,-51.27 337.01,-50.63 C334.85,-49.99 331.5,-49.99 328.75,-49.87 C326,-49.74 322.86,-49.48 320.5,-49.87 C318.14,-50.25 315.78,-51.01 314.6,-52.16 C313.42,-53.31 312.24,-55.73 313.42,-56.76Z" fill="#0c8f3b"/><path d="M103.16,3.71 C104.14,2.44 107.49,2.18 110.24,2.18 C112.99,2.18 116.92,3.07 119.67,3.71 C122.42,4.35 125.57,4.99 126.75,6.01 C127.93,7.03 127.93,8.81 126.75,9.83 C125.57,10.86 122.42,11.75 119.67,12.13 C116.92,12.51 112.79,12.51 110.24,12.13 C107.68,11.75 105.52,11.24 104.34,9.83 C103.16,8.43 102.18,4.99 103.16,3.71Z" fill="#ff2000"/><path d="M216.37,11.37 C217.36,10.34 220.89,10.22 223.45,9.83 C226,9.45 230.33,7.28 231.7,9.07 C233.08,10.86 233.08,18.89 231.7,20.55 C230.33,22.21 225.81,19.78 223.45,19.02 C221.09,18.25 218.73,17.23 217.55,15.96 C216.37,14.68 215.39,12.39 216.37,11.37Z" fill="#ff2000"/><path d="M188.07,-46.81 C188.35,-47.24 190.82,-47.77 191.61,-47.57 C192.39,-47.37 193.06,-46.01 192.79,-45.58 C192.51,-45.15 190.74,-44.76 189.96,-44.97 C189.17,-45.17 187.8,-46.37 188.07,-46.81Z" fill="#05706c"/><path d="M193.97,-42.98 C194.36,-43.36 196.44,-43.69 197.03,-43.44 C197.62,-43.18 197.9,-41.83 197.5,-41.45 C197.11,-41.06 195.26,-40.89 194.67,-41.14 C194.08,-41.4 193.57,-42.6 193.97,-42.98Z" fill="#05706c"/><path d="M227.33,11.37 C228.91,9.5 233.62,9.71 236.77,9.83 C239.91,9.96 243.06,11.24 246.2,12.13 C249.35,13.02 253.28,14.04 255.64,15.19 C257.99,16.34 259.96,18.05 260.35,19.02 C260.75,19.99 263.5,20.68 257.99,21.01 C252.49,21.34 232.44,22.62 227.33,21.01 C222.22,19.4 225.76,13.23 227.33,11.37Z" fill="#ff2000"/><path d="M232.05,-11.6 C233.03,-12.23 237.16,-12.62 239.13,-12.36 C241.09,-12.11 243.65,-10.83 243.84,-10.07 C244.04,-9.3 242.07,-8.02 240.31,-7.77 C238.54,-7.51 234.61,-7.9 233.23,-8.53 C231.85,-9.17 231.07,-10.96 232.05,-11.6Z" fill="#ff2000"/><path d="M347.62,-70.53 C348.6,-71.3 358.43,-72.19 360.59,-71.3 C362.75,-70.41 361.58,-65.94 360.59,-65.17 C359.61,-64.41 356.86,-65.81 354.7,-66.71 C352.53,-67.6 346.64,-69.77 347.62,-70.53Z" fill="#ff2000"/><path d="M315.78,-55.99 C316.96,-56.7 321.28,-57.09 324.04,-57.21 C326.79,-57.34 330.32,-57.21 332.29,-56.76 C334.26,-56.3 336.02,-55.22 335.83,-54.46 C335.63,-53.69 333.27,-52.62 331.11,-52.16 C328.95,-51.7 325.21,-51.58 322.86,-51.7 C320.5,-51.83 318.14,-52.21 316.96,-52.93 C315.78,-53.64 314.6,-55.28 315.78,-55.99Z" fill="#05706c"/><g fill="#cdcdcd" stroke="#8c8c8c" stroke-width="0.5" vector-effect="non-scaling-stroke" stroke-linejoin="round"><path d="M95,-75 L180,-75 L180.8,-69.4 L179.5,-66 L178.5,-64.8 L176,-63.3 L169,-62.5 L164,-62 L163.5,-60 L163.5,-58 L162,-56 L161,-54 L158.5,-52.5 L156.7,-51 L156,-52.5 L156,-57 L155,-57.5 L150,-57.5 L145,-57.2 L141,-57 L138,-56 L137,-54 L140,-53.5 L141.2,-53 L141.5,-52 L140.5,-49 L140,-48 L138,-46 L135,-43.5 L132,-43 L130.7,-42.3 L129.7,-40.8 L129.5,-40.5 L128,-39 L129.4,-37 L129.3,-35.3 L127.5,-34.6 L126.3,-34.5 L126.5,-36 L126.6,-37.5 L125,-38 L125,-39.5 L124.5,-39.9 L122,-40.5 L121.2,-38.8 L121.7,-39.8 L121.5,-40.8 L119.5,-39.8 L118,-39 L117.7,-38.3 L119,-37.2 L120.5,-37.8 L122.5,-37.4 L121,-36.5 L120,-35.5 L119.5,-34.5 L120.5,-33 L121.5,-32 L121.9,-30.9 L122,-30 L121.5,-28.5 L120.5,-27 L119.5,-25.5 L118.5,-24.5 L117,-23.5 L116,-22.8 L114,-22.3 L113.5,-22.2 L111.5,-21.5 L110.5,-20.4 L110,-21.5 L108.5,-21.6 L106.4,-21 L105.5,-17 L104.4,-13.3 L101.1,-10.4 L99,-8 L95,-8 L95,-75Z" vector-effect="non-scaling-stroke"/><path d="M108.6,-19.1 L109.5,-18.2 L110.5,-18.6 L111,-19.6 L110.5,-20.1 L109.6,-20 L108.7,-19.5Z" vector-effect="non-scaling-stroke"/><path d="M120.1,-23 L120.7,-22 L121,-22.5 L121.9,-24.5 L121.5,-25.3 L121,-25 L120.2,-23.8Z" vector-effect="non-scaling-stroke"/><path d="M129.8,-33.3 L130.3,-31.2 L131,-31.3 L131.8,-32.5 L132,-33.5 L131,-33.9 L130.5,-33.9Z" vector-effect="non-scaling-stroke"/><path d="M132.4,-33.3 L133.5,-33.2 L134.7,-33.8 L134.2,-34.3 L133,-34.1Z" vector-effect="non-scaling-stroke"/><path d="M131,-34.3 L132.5,-35.3 L135,-35.7 L136,-35.9 L136.8,-37.3 L138,-37.2 L139.5,-38.5 L140,-40 L140.3,-41.3 L141.4,-41.4 L141.5,-40 L142,-39.4 L141,-38.3 L141,-37 L140.8,-35.7 L140,-35 L139.2,-35.2 L138.7,-34.6 L137,-34.6 L136.8,-34.3 L135.8,-33.5 L135.1,-34.3 L134,-34.6 L132.5,-34.1 L131.2,-33.9Z" vector-effect="non-scaling-stroke"/><path d="M140,-41.6 L141,-41.8 L141.5,-42.6 L143.3,-41.9 L144.5,-42.9 L145.8,-43.3 L145.2,-44.1 L144,-44.1 L142.5,-45.4 L141.7,-45.4 L141.8,-44 L141.3,-43.2 L140.3,-43.3 L140.1,-42.3Z" vector-effect="non-scaling-stroke"/><path d="M142,-46 L143.5,-46.2 L143,-47.5 L142.7,-49.5 L143.2,-51.5 L143,-53.5 L142.6,-54.3 L142.2,-53.4 L141.7,-51 L142,-48 L141.9,-46.6Z" vector-effect="non-scaling-stroke"/><path d="M120.6,-18.5 L122.2,-18.5 L122.3,-17 L121.6,-15.8 L121.6,-14.3 L122.5,-14 L124,-13 L124.2,-12.6 L123.3,-12.9 L122,-13.7 L120.7,-13.8 L120.6,-14.5 L120,-15.3 L119.8,-16.3 L120.4,-16.7Z" vector-effect="non-scaling-stroke"/><path d="M122,-7 L123.5,-7.5 L124,-7.1 L125.4,-5.7 L126.3,-6.3 L126.6,-7.3 L126.2,-9 L125.5,-9.8 L124.5,-8.6 L123.5,-8.6 L122.2,-7.6Z" vector-effect="non-scaling-stroke"/><path d="M124.5,-12.5 L125.7,-11.2 L125,-10 L124.3,-10.2 L123.3,-10.6 L122,-10.5 L121.9,-11.8 L123,-11.7 L124,-12.5Z" vector-effect="non-scaling-stroke"/><path d="M117.2,-8.4 L118.5,-9.3 L119.6,-10.5 L119.3,-11 L118,-10 L117.1,-8.6Z" vector-effect="non-scaling-stroke"/><path d="M120.3,-13.5 L121.5,-13.2 L121.2,-12.2 L120.4,-12.6Z" vector-effect="non-scaling-stroke"/><path d="M109,-1.5 L109.6,-2 L111,-1.7 L113,-3.1 L114,-4.6 L115.3,-5 L116,-6 L117,-7 L117.7,-6.2 L119.2,-5.3 L118,-4.5 L117.8,-3.5 L118,-2 L118.9,-1 L117.8,-0.8 L117.5,0.5 L116.6,1.5 L116.3,3.5 L114.5,4 L113,3.3 L111.5,3 L110.3,2.9 L110,1.5 L109.2,0.5Z" vector-effect="non-scaling-stroke"/><path d="M119.5,5.5 L120.5,5.5 L120.4,3 L121.2,2.8 L121.5,4.6 L122.8,4.7 L122,3 L122.5,1.5 L121,1.4 L120.7,-0.5 L123,-0.5 L124.5,-1 L125.2,-1.5 L124.3,-0.3 L121.5,-0.5 L120,-0.8 L119.7,0.5 L118.8,2.7 L119.5,3.5Z" vector-effect="non-scaling-stroke"/><path d="M95.3,-5.6 L97.5,-5.2 L98.7,-3.8 L100.4,-2.2 L101.5,-1.7 L103.5,0.5 L104.5,2 L106,3 L105.9,5.8 L104.5,5.7 L102,4 L100.5,1.5 L99,-0.2 L97.5,-2.2 L96,-4Z" vector-effect="non-scaling-stroke"/><path d="M105.2,6.8 L106,5.9 L108.3,6.3 L110.5,6.8 L112.6,6.9 L114.5,7.7 L114.4,8.7 L112,8.3 L108.5,7.8 L106.4,7.4 L105.5,6.9Z" vector-effect="non-scaling-stroke"/><path d="M115,8.2 L116.5,8.5 L119,8.3 L121,8.4 L123,8.3 L125,8.3 L127,8.5 L127.2,8.9 L125,9.5 L124,10.2 L123.5,10.3 L121,8.8 L119,8.8 L116.5,9 L115,8.8Z" vector-effect="non-scaling-stroke"/><path d="M127.5,-1.5 L128.5,-2 L128.2,-0.5 L128.7,0.7 L127.5,0.8 L127.7,-0.8Z" vector-effect="non-scaling-stroke"/><path d="M128,3 L130.8,3.3 L130.5,3.8 L128.2,3.7Z" vector-effect="non-scaling-stroke"/><path d="M126,3.2 L127.2,3.3 L127,3.8 L126.1,3.7Z" vector-effect="non-scaling-stroke"/><path d="M131,1 L132.5,0.4 L134,0.8 L135,3.3 L137.5,1.5 L140,2.4 L144.5,3.8 L146,5.5 L147.5,6 L147.7,8 L150,10.2 L148,10.2 L146,8 L144,7.7 L143,9 L141,9.2 L139,8.1 L138,8.4 L137.7,6 L135,4.4 L134,4 L133,4.1 L132,2.9 L133.5,2.2 L132,2 L131,1.4Z" vector-effect="non-scaling-stroke"/><path d="M148.5,5.5 L151,5 L152,4.2 L152.4,5.5 L150.5,6.2 L148.8,6.2Z" vector-effect="non-scaling-stroke"/><path d="M150.5,2.5 L152,3.5 L153,4.6 L152.5,4.5 L151,3Z" vector-effect="non-scaling-stroke"/><path d="M155,6 L157,7.5 L159,8 L161,9.5 L162,10.5 L160,9.5 L157,8.5 L155.5,7Z" vector-effect="non-scaling-stroke"/><path d="M177.5,17.5 L178.6,17.7 L178.4,18.2 L177.3,18.1Z" vector-effect="non-scaling-stroke"/><path d="M113.5,22 L114,21.8 L116.7,20.6 L119,20 L121,19.5 L122.3,18 L122.2,17 L123.5,16.3 L124.5,15.3 L126,14 L127.5,14 L128.2,15 L129.5,14.8 L129.8,13.5 L130.6,12.4 L132,11.5 L133,11.6 L134,11.9 L135.5,12.1 L136.7,12 L136.5,13.3 L135.9,14.8 L137,15.8 L139,17 L140.8,17.4 L141.6,15 L141.5,13 L142,11 L142.5,10.7 L143.5,12.5 L143.7,14 L145.3,14.9 L145.4,16.4 L146.1,17.8 L146.3,19 L148.8,20.3 L149.5,22 L150,23 L145,25 L113,25Z" vector-effect="non-scaling-stroke"/><path d="M204.2,-19.9 L205,-19.5 L204.5,-18.9 L204,-19.3Z" vector-effect="non-scaling-stroke"/><path d="M203.4,-21 L204,-20.7 L203.6,-20.5Z" vector-effect="non-scaling-stroke"/><path d="M201.8,-21.6 L202.3,-21.4 L201.9,-21.3Z" vector-effect="non-scaling-stroke"/><path d="M186,-69.4 L186,-75 L266,-75 L277,-75 L275,-70 L277,-69.5 L277.5,-68 L276.5,-67 L275.3,-66.6 L274.5,-66 L273,-65.8 L272,-65.3 L270.5,-64.5 L269.5,-63.5 L267.5,-62.5 L266,-61.5 L265.5,-60 L265.5,-58.8 L266.5,-58.7 L267,-57.5 L268,-57 L270,-57 L272,-56 L273.5,-55.4 L275,-55.3 L277,-55.2 L278.5,-54.5 L281.3,-54.5 L282.5,-55.3 L283.5,-56.5 L283.7,-57.5 L283,-58.5 L282,-59.7 L282,-61 L282.5,-62.3 L283,-62.5 L285,-62.3 L287,-61.8 L289,-61 L290.3,-60 L290,-59 L290.5,-58.5 L292,-58.2 L293,-58.8 L294,-59.3 L295.5,-60.3 L296,-59.5 L297.5,-58.5 L298,-57.5 L298,-56.5 L299,-56 L300.5,-55.3 L302.5,-54.5 L303.5,-53.5 L304.5,-52.5 L304,-52 L303,-51.5 L301.5,-51 L300,-50.3 L298.5,-50.2 L296,-50.2 L293.5,-50 L292.5,-49.3 L291.5,-48.7 L290,-48 L289,-47.2 L288.5,-46.8 L289.5,-47 L290.5,-47.8 L292,-48.2 L293.5,-48.8 L294.5,-48.9 L295.8,-48.7 L295.3,-47.8 L295,-47 L295.5,-46.2 L296,-46.2 L296.5,-45.8 L298,-45.7 L298.5,-46 L299,-46.8 L299.6,-47 L300,-46 L299,-45.2 L298,-44.6 L296.5,-44.3 L295.5,-43.5 L294.3,-43.5 L294,-44.5 L295.5,-45 L295.5,-45.7 L295,-45.3 L294.5,-45.3 L293.8,-45 L293,-44.7 L291.7,-44.3 L290.5,-43.7 L289.5,-43 L289.8,-42 L290,-41.7 L289,-41.2 L287.5,-40.7 L286,-40.5 L285.5,-39.5 L285,-38.8 L284.5,-38 L284,-37 L284.2,-36 L284.3,-35.2 L282.5,-34.5 L281.5,-33.7 L280,-32.5 L279,-31.5 L278.7,-30.3 L279.5,-28.5 L280,-27 L279.9,-25.8 L279.3,-25.2 L278.5,-25.3 L278,-26.5 L277.7,-27.5 L277.3,-28.5 L275.8,-29.8 L274,-30 L272.5,-30.4 L271,-30 L270.8,-29 L269,-29.3 L268,-29.6 L266.5,-29.7 L265.2,-29.3 L263.7,-28 L263,-27 L262.5,-25.5 L262.3,-23.5 L262.7,-21.3 L264,-19.3 L265.5,-18.3 L266.5,-18.6 L268.3,-18.6 L269.5,-19.8 L269.8,-21.2 L271.5,-21.4 L273,-21.5 L272.5,-18.5 L271.8,-17.5 L272,-16.2 L273,-15.8 L275,-16 L276.8,-15 L276.5,-14 L276.5,-12 L277.5,-10.5 L279,-9 L280,-9.5 L281,-9.2 L282.5,-9.2 L283,-10 L284,-11 L285.5,-11.5 L287,-12.3 L288,-11.5 L287.7,-11 L288.5,-11.6 L289.5,-12.2 L290,-11.3 L292,-10.6 L295,-10.5 L297,-10.6 L298.5,-10.2 L300,-8.6 L301,-7.7 L303,-6.7 L305,-5.9 L307.5,-5.7 L309,-4 L310,-2 L310.5,-0.5 L311.5,0.5 L314,0.3 L316,1 L318,1.5 L320,2.5 L322.7,3.7 L324,5 L325,5.5 L325,7.5 L324,9 L322.5,11 L321,13 L321,16 L320.5,18.5 L319.5,20 L320,25 L289.8,25 L289.7,20 L288.5,18 L287.5,17 L286,16 L284.5,15 L283.5,13.3 L282,11 L281,9 L280.2,7.5 L279,6 L278.7,4.5 L279,3 L279.7,2.2 L279.9,0 L281,-1.2 L282,-2.5 L282.5,-4 L282.3,-6 L281.5,-7.5 L280.8,-8.5 L280,-8.5 L279.5,-7.5 L278,-8 L277,-8.2 L275.5,-9.2 L274.3,-10 L273.5,-11 L272.5,-12.5 L270.5,-13.3 L269,-14 L268,-15 L267,-16.1 L265.5,-15.8 L264,-16 L262,-16.8 L260,-17.5 L258.5,-18 L257,-18.5 L255.5,-19.2 L254.6,-20.5 L254.5,-21.5 L253.5,-23 L252.5,-24 L251.5,-25.5 L251,-26.5 L250,-27.5 L249,-28.5 L248,-29 L247.5,-30 L246.5,-31.5 L245.2,-31.7 L245.5,-30.5 L246.2,-29 L247.5,-27.5 L248,-26.5 L249,-25.5 L249.5,-24.5 L250.5,-23.5 L249.8,-23 L248,-24.3 L246,-26 L245.2,-27 L245,-28 L244,-29.5 L243.5,-31 L242.8,-32.5 L242,-33.7 L241,-34 L239,-35 L238,-36.5 L237.5,-37.8 L236.3,-39 L235.7,-40.4 L235.6,-42 L236,-44 L235.8,-46.2 L235.3,-48.2 L235,-48.8 L232.5,-49.5 L231,-50.8 L229.5,-52.5 L228,-54 L226,-54.5 L224.8,-55.5 L223.5,-57 L222,-58 L221,-59 L219.5,-59.5 L217,-59.7 L215,-60 L213,-60.2 L211,-60.5 L209,-60.2 L208,-60.5 L205.5,-60 L202,-60 L199,-61.5 L197.3,-62.5 L195,-63.5 L192.7,-64.8 L190.5,-66.5 L189.5,-68 L189,-69.4Z" vector-effect="non-scaling-stroke"/><path d="M240,-70 L245,-69.2 L250,-69.3 L253,-69.3 L255,-70 L255,-72 L240,-72Z" vector-effect="non-scaling-stroke"/><path d="M273.5,-64 L275,-65.5 L276,-65.8 L277,-65.2 L279,-64.2 L277.5,-63.8 L276,-63.5 L274,-63.7Z" vector-effect="non-scaling-stroke"/><path d="M279.5,-70 L279.5,-72 L292,-72 L292,-70 L293,-69 L296,-67.5 L298,-66.5 L297,-66 L294,-65 L296,-64.5 L295,-63 L293,-63.5 L292,-62.5 L288,-62.5 L286,-63.5 L283,-64.5 L282,-65.5 L287,-66.5 L285,-67.5 L280,-68.5Z" vector-effect="non-scaling-stroke"/><path d="M300.6,-47.6 L301,-48.5 L302.4,-49.5 L303,-50.5 L304.5,-51.6 L304.4,-51 L304,-49.8 L304.5,-49.5 L306,-49.5 L306.5,-48.5 L307.2,-47.6 L306.8,-46.7 L306,-47 L305.1,-47 L304.5,-47.5 L303.5,-47.6 L302,-47.6Z" vector-effect="non-scaling-stroke"/><path d="M295.5,-49.9 L298.2,-49.3 L298.2,-49.1 L295.6,-49.6Z" vector-effect="non-scaling-stroke"/><path d="M296,-46.5 L297.5,-46.9 L298,-46.4 L296.5,-46.1Z" vector-effect="non-scaling-stroke"/><path d="M306.5,-70 L306,-68.5 L306.5,-67 L307,-66 L308,-64.8 L309.2,-63.5 L310.3,-62.5 L312,-61 L314,-60.5 L316.5,-59.8 L317.5,-60.3 L318,-61 L319.5,-62.5 L320.5,-64 L322,-65.2 L323,-65.5 L325,-66 L328,-68 L331,-68.5 L334,-69 L337,-70 L337,-75 L306,-75Z" vector-effect="non-scaling-stroke"/><path d="M336,-65.5 L337.5,-66.4 L342,-66.1 L345,-66.5 L346.5,-65.3 L345.5,-64.4 L342,-63.4 L337.5,-63.8 L338,-64.5 L336,-65Z" vector-effect="non-scaling-stroke"/><path d="M354.3,-58.6 L356.8,-58.6 L358,-57.6 L358,-57 L357.8,-56 L358.5,-55.5 L358.5,-54 L359.5,-53.5 L360.3,-53 L361.7,-52.8 L361.4,-51.5 L361,-51 L359.5,-50.8 L358,-50.6 L355,-50 L354.3,-50.2 L355.5,-51.3 L356.5,-51.6 L355.5,-51.8 L354.8,-51.7 L355.7,-53 L355.4,-53.4 L357,-53.3 L357,-54 L356.6,-54.5 L355,-54.8 L354.4,-55.8 L354.2,-56.6 L354.2,-57.6Z" vector-effect="non-scaling-stroke"/><path d="M350,-51.7 L351,-51.5 L353.7,-52.1 L354,-53.3 L354.1,-54 L354.4,-54.6 L354,-55.2 L352.5,-55.3 L351.5,-54.6 L350.3,-54.2 L350.7,-53.5 L350,-53.3 L350.6,-52.5Z" vector-effect="non-scaling-stroke"/><path d="M361,-51 L360,-49.7 L358.5,-49.5 L358,-48.7 L355.5,-48.5 L356,-47.7 L357.8,-47.2 L358.8,-46 L358.7,-44.5 L358.2,-43.5 L356,-43.4 L353,-43.8 L351,-43.2 L351.2,-42 L351.2,-40.5 L350.8,-39 L351.2,-38 L351.2,-37 L352,-37 L353.5,-37.2 L354.5,-36.2 L354.6,-36 L354.4,-35.9 L353.5,-35.8 L353.2,-35 L352.5,-34 L351.5,-33.4 L350.7,-32.5 L350.5,-31.5 L350.3,-30.5 L350.2,-30 L349.2,-28.8 L347,-28 L346,-27.5 L345.3,-26.2 L344.5,-25 L344,-24 L343.4,-22.5 L343,-21 L343.9,-20 L343.6,-19.2 L344,-18 L343.8,-16.5 L343.5,-15.5 L342.6,-14.7 L343.2,-14 L343.3,-12.3 L344.5,-11.5 L345.5,-10.5 L346.5,-9.5 L347,-9 L348,-8 L349.5,-6.8 L351,-5.2 L352.5,-4.4 L354,-5 L356,-5.1 L358,-4.8 L360,-5.5 L362,-6 L365,-6 L365,-60 L361,-60Z" vector-effect="non-scaling-stroke"/><path d="M275.5,-21.8 L277,-22 L279,-23 L281,-23.2 L283,-22.5 L285,-21 L285.9,-20.2 L283.5,-19.9 L282.5,-20.5 L281,-21.5 L278.5,-21.5 L277.5,-22.3 L275.6,-21.5Z" vector-effect="non-scaling-stroke"/><path d="M285.5,-18.2 L286.5,-19.9 L288,-19.9 L289.5,-19.6 L291,-19 L291.6,-18.5 L290.5,-18.2 L288.5,-18.3 L287,-17.7 L286,-18Z" vector-effect="non-scaling-stroke"/><path d="M281.6,-18.4 L283.7,-18.4 L283.8,-17.9 L282,-18.1Z" vector-effect="non-scaling-stroke"/><path d="M292.8,-18.5 L294.3,-18.4 L294.3,-18 L292.8,-18Z" vector-effect="non-scaling-stroke"/><path d="M298.4,-10.7 L299.1,-10.8 L299,-10.1 L298.3,-10.1Z" vector-effect="non-scaling-stroke"/></g></svg><circle cx="444.34" cy="523.4" r="1.35" fill="#000"/><circle cx="448.66" cy="519.08" r="1.35" fill="#000"/><circle cx="448.66" cy="527.72" r="1.35" fill="#000"/><circle cx="448.66" cy="536.36" r="1.35" fill="#000"/><circle cx="452.98" cy="523.4" r="1.35" fill="#000"/><circle cx="452.98" cy="532.04" r="1.35" fill="#000"/><circle cx="457.3" cy="519.08" r="1.35" fill="#000"/><circle cx="457.3" cy="527.72" r="1.35" fill="#000"/><circle cx="457.3" cy="536.36" r="1.35" fill="#000"/><circle cx="461.62" cy="523.4" r="1.35" fill="#000"/><circle cx="461.62" cy="532.04" r="1.35" fill="#000"/><circle cx="461.62" cy="540.68" r="1.35" fill="#000"/><circle cx="465.94" cy="519.08" r="1.35" fill="#000"/><circle cx="465.94" cy="527.72" r="1.35" fill="#000"/><circle cx="465.94" cy="536.36" r="1.35" fill="#000"/><circle cx="470.26" cy="523.4" r="1.35" fill="#000"/><circle cx="470.26" cy="532.04" r="1.35" fill="#000"/><circle cx="470.26" cy="540.68" r="1.35" fill="#000"/><circle cx="474.58" cy="519.08" r="1.35" fill="#000"/><circle cx="474.58" cy="527.72" r="1.35" fill="#000"/><circle cx="474.58" cy="536.36" r="1.35" fill="#000"/><circle cx="474.58" cy="545" r="1.35" fill="#000"/><circle cx="478.9" cy="514.76" r="1.35" fill="#000"/><circle cx="478.9" cy="523.4" r="1.35" fill="#000"/><circle cx="478.9" cy="532.04" r="1.35" fill="#000"/><circle cx="478.9" cy="540.68" r="1.35" fill="#000"/><circle cx="483.22" cy="519.08" r="1.35" fill="#000"/><circle cx="483.22" cy="527.72" r="1.35" fill="#000"/><circle cx="483.22" cy="536.36" r="1.35" fill="#000"/><circle cx="483.22" cy="545" r="1.35" fill="#000"/><circle cx="487.54" cy="514.76" r="1.35" fill="#000"/><circle cx="487.54" cy="523.4" r="1.35" fill="#000"/><circle cx="487.54" cy="532.04" r="1.35" fill="#000"/><circle cx="487.54" cy="540.68" r="1.35" fill="#000"/><circle cx="487.54" cy="549.32" r="1.35" fill="#000"/><circle cx="491.86" cy="519.08" r="1.35" fill="#000"/><circle cx="491.86" cy="527.72" r="1.35" fill="#000"/><circle cx="491.86" cy="536.36" r="1.35" fill="#000"/><circle cx="491.86" cy="545" r="1.35" fill="#000"/><circle cx="491.86" cy="510.44" r="1.35" fill="#000"/><circle cx="491.86" cy="519.08" r="1.35" fill="#000"/><circle cx="491.86" cy="527.72" r="1.35" fill="#000"/><circle cx="491.86" cy="536.36" r="1.35" fill="#000"/><circle cx="491.86" cy="545" r="1.35" fill="#000"/><circle cx="496.18" cy="506.12" r="1.35" fill="#000"/><circle cx="496.18" cy="514.76" r="1.35" fill="#000"/><circle cx="496.18" cy="523.4" r="1.35" fill="#000"/><circle cx="496.18" cy="532.04" r="1.35" fill="#000"/><circle cx="496.18" cy="540.68" r="1.35" fill="#000"/><circle cx="496.18" cy="549.32" r="1.35" fill="#000"/><circle cx="500.5" cy="510.44" r="1.35" fill="#000"/><circle cx="500.5" cy="519.08" r="1.35" fill="#000"/><circle cx="500.5" cy="527.72" r="1.35" fill="#000"/><circle cx="500.5" cy="536.36" r="1.35" fill="#000"/><circle cx="500.5" cy="545" r="1.35" fill="#000"/><circle cx="504.82" cy="514.76" r="1.35" fill="#000"/><circle cx="504.82" cy="523.4" r="1.35" fill="#000"/><circle cx="504.82" cy="532.04" r="1.35" fill="#000"/><circle cx="504.82" cy="540.68" r="1.35" fill="#000"/><circle cx="504.82" cy="549.32" r="1.35" fill="#000"/><circle cx="509.14" cy="510.44" r="1.35" fill="#000"/><circle cx="509.14" cy="519.08" r="1.35" fill="#000"/><circle cx="509.14" cy="527.72" r="1.35" fill="#000"/><circle cx="509.14" cy="536.36" r="1.35" fill="#000"/><circle cx="509.14" cy="545" r="1.35" fill="#000"/><circle cx="513.46" cy="514.76" r="1.35" fill="#000"/><circle cx="513.46" cy="523.4" r="1.35" fill="#000"/><circle cx="513.46" cy="532.04" r="1.35" fill="#000"/><circle cx="513.46" cy="540.68" r="1.35" fill="#000"/><circle cx="513.46" cy="549.32" r="1.35" fill="#000"/><circle cx="517.78" cy="519.08" r="1.35" fill="#000"/><circle cx="517.78" cy="527.72" r="1.35" fill="#000"/><circle cx="517.78" cy="536.36" r="1.35" fill="#000"/><circle cx="517.78" cy="545" r="1.35" fill="#000"/><circle cx="522.1" cy="514.76" r="1.35" fill="#000"/><circle cx="522.1" cy="523.4" r="1.35" fill="#000"/><circle cx="522.1" cy="532.04" r="1.35" fill="#000"/><circle cx="522.1" cy="540.68" r="1.35" fill="#000"/><circle cx="522.1" cy="549.32" r="1.35" fill="#000"/><circle cx="526.42" cy="519.08" r="1.35" fill="#000"/><circle cx="526.42" cy="527.72" r="1.35" fill="#000"/><circle cx="526.42" cy="536.36" r="1.35" fill="#000"/><circle cx="526.42" cy="545" r="1.35" fill="#000"/><circle cx="530.74" cy="514.76" r="1.35" fill="#000"/><circle cx="530.74" cy="523.4" r="1.35" fill="#000"/><circle cx="530.74" cy="532.04" r="1.35" fill="#000"/><circle cx="530.74" cy="540.68" r="1.35" fill="#000"/><circle cx="530.74" cy="549.32" r="1.35" fill="#000"/><circle cx="535.06" cy="536.36" r="1.35" fill="#000"/><circle cx="535.06" cy="545" r="1.35" fill="#000"/><circle cx="427.06" cy="454.28" r="1.35" fill="#000"/><circle cx="431.38" cy="449.96" r="1.35" fill="#000"/><circle cx="440.02" cy="449.96" r="1.35" fill="#000"/><circle cx="444.34" cy="454.28" r="1.35" fill="#000"/><circle cx="448.66" cy="458.6" r="1.35" fill="#000"/><circle cx="457.3" cy="458.6" r="1.35" fill="#000"/><circle cx="465.94" cy="458.6" r="1.35" fill="#000"/><circle cx="461.62" cy="454.28" r="1.35" fill="#000"/><circle cx="452.98" cy="462.92" r="1.35" fill="#000"/><circle cx="457.3" cy="467.24" r="1.35" fill="#000"/><circle cx="461.62" cy="462.92" r="1.35" fill="#000"/><circle cx="452.98" cy="471.56" r="1.35" fill="#000"/><circle cx="440.02" cy="475.88" r="1.35" fill="#000"/><circle cx="427.06" cy="488.84" r="1.35" fill="#000"/><circle cx="435.7" cy="488.84" r="1.35" fill="#000"/><circle cx="431.38" cy="493.16" r="1.35" fill="#000"/><circle cx="427.06" cy="497.48" r="1.35" fill="#000"/><circle cx="422.74" cy="501.8" r="1.35" fill="#000"/><circle cx="431.38" cy="501.8" r="1.35" fill="#000"/><circle cx="431.38" cy="501.8" r="1.35" fill="#000"/><circle cx="409.78" cy="506.12" r="1.35" fill="#000"/><circle cx="418.42" cy="506.12" r="1.35" fill="#000"/><circle cx="401.14" cy="506.12" r="1.35" fill="#000"/><circle cx="405.46" cy="510.44" r="1.35" fill="#000"/><circle cx="414.1" cy="510.44" r="1.35" fill="#000"/><circle cx="422.74" cy="510.44" r="1.35" fill="#000"/><circle cx="418.42" cy="514.76" r="1.35" fill="#000"/><circle cx="422.74" cy="519.08" r="1.35" fill="#000"/><circle cx="418.42" cy="523.4" r="1.35" fill="#000"/><circle cx="392.5" cy="471.56" r="1.35" fill="#000"/><circle cx="401.14" cy="471.56" r="1.35" fill="#000"/><circle cx="405.46" cy="467.24" r="1.35" fill="#000"/><circle cx="383.86" cy="506.12" r="1.35" fill="#000"/><circle cx="383.86" cy="514.76" r="1.35" fill="#000"/><circle cx="379.54" cy="519.08" r="1.35" fill="#000"/><circle cx="375.22" cy="532.04" r="1.35" fill="#000"/><circle cx="383.86" cy="532.04" r="1.35" fill="#000"/><circle cx="379.54" cy="536.36" r="1.35" fill="#000"/><circle cx="388.18" cy="536.36" r="1.35" fill="#000"/><circle cx="392.5" cy="540.68" r="1.35" fill="#000"/><circle cx="383.86" cy="540.68" r="1.35" fill="#000"/><circle cx="379.54" cy="545" r="1.35" fill="#000"/><circle cx="388.18" cy="545" r="1.35" fill="#000"/><circle cx="392.5" cy="549.32" r="1.35" fill="#000"/><circle cx="440.02" cy="545" r="1.35" fill="#000"/><circle cx="444.34" cy="549.32" r="1.35" fill="#000"/><circle cx="452.98" cy="549.32" r="1.35" fill="#000"/><circle cx="535.06" cy="441.32" r="1.35" fill="#000"/><circle cx="535.06" cy="449.96" r="1.35" fill="#000"/><circle cx="491.86" cy="458.6" r="1.35" fill="#000"/><circle cx="569.62" cy="449.96" r="1.35" fill="#000"/><circle cx="573.94" cy="445.64" r="1.35" fill="#000"/><circle cx="582.58" cy="445.64" r="1.35" fill="#000"/><circle cx="578.26" cy="449.96" r="1.35" fill="#000"/><circle cx="586.9" cy="449.96" r="1.35" fill="#000"/><circle cx="582.58" cy="454.28" r="1.35" fill="#000"/><circle cx="595.54" cy="432.68" r="1.35" fill="#000"/><circle cx="604.18" cy="432.68" r="1.35" fill="#000"/><circle cx="599.86" cy="437" r="1.35" fill="#000"/><circle cx="539.38" cy="471.56" r="1.35" fill="#000"/><circle cx="548.02" cy="471.56" r="1.35" fill="#000"/><circle cx="543.7" cy="475.88" r="1.35" fill="#000"/><circle cx="530.74" cy="488.84" r="1.35" fill="#000"/><circle cx="500.5" cy="484.52" r="1.35" fill="#000"/><circle cx="504.82" cy="488.84" r="1.35" fill="#000"/><circle cx="504.82" cy="497.48" r="1.35" fill="#000"/><circle cx="509.14" cy="493.16" r="1.35" fill="#000"/><circle cx="513.46" cy="497.48" r="1.35" fill="#000"/><circle cx="573.94" cy="549.32" r="1.35" fill="#000"/><circle cx="591.22" cy="549.32" r="1.35" fill="#000"/>
<rect x="373.4" y="427.8" width="234" height="124.8" fill="none" stroke="#2a2a2a" stroke-width="1.1" />
<line x1="368.8" y1="441.67" x2="373.4" y2="441.67" stroke="#2a2a2a" stroke-width="1.1" />
<text x="361.2" y="445.37" font-size="10.3" text-anchor="end" fill="#000" >60N</text>
<line x1="368.8" y1="469.4" x2="373.4" y2="469.4" stroke="#2a2a2a" stroke-width="1.1" />
<text x="361.2" y="473.1" font-size="10.3" text-anchor="end" fill="#000" >40N</text>
<line x1="368.8" y1="497.13" x2="373.4" y2="497.13" stroke="#2a2a2a" stroke-width="1.1" />
<text x="361.2" y="500.83" font-size="10.3" text-anchor="end" fill="#000" >20N</text>
<line x1="368.8" y1="524.87" x2="373.4" y2="524.87" stroke="#2a2a2a" stroke-width="1.1" />
<text x="361.2" y="528.57" font-size="10.3" text-anchor="end" fill="#000" >0</text>
<line x1="368.8" y1="552.6" x2="373.4" y2="552.6" stroke="#2a2a2a" stroke-width="1.1" />
<text x="361.2" y="556.3" font-size="10.3" text-anchor="end" fill="#000" >20S</text>
<line x1="373.4" y1="552.6" x2="373.4" y2="557.2" stroke="#2a2a2a" stroke-width="1.1" />
<text x="373.4" y="572.6" font-size="10.3" text-anchor="middle" fill="#000" >100E</text>
<line x1="418.4" y1="552.6" x2="418.4" y2="557.2" stroke="#2a2a2a" stroke-width="1.1" />
<text x="418.4" y="572.6" font-size="10.3" text-anchor="middle" fill="#000" >150E</text>
<line x1="463.4" y1="552.6" x2="463.4" y2="557.2" stroke="#2a2a2a" stroke-width="1.1" />
<text x="463.4" y="572.6" font-size="10.3" text-anchor="middle" fill="#000" >160W</text>
<line x1="508.4" y1="552.6" x2="508.4" y2="557.2" stroke="#2a2a2a" stroke-width="1.1" />
<text x="508.4" y="572.6" font-size="10.3" text-anchor="middle" fill="#000" >110W</text>
<line x1="553.4" y1="552.6" x2="553.4" y2="557.2" stroke="#2a2a2a" stroke-width="1.1" />
<text x="553.4" y="572.6" font-size="10.3" text-anchor="middle" fill="#000" >60W</text>
<line x1="598.4" y1="552.6" x2="598.4" y2="557.2" stroke="#2a2a2a" stroke-width="1.1" />
<text x="598.4" y="572.6" font-size="10.3" text-anchor="middle" fill="#000" >10W</text>
<text x="373.2" y="422.1" font-size="12.9" text-anchor="start" fill="#000" letter-spacing="0.06">(f) PCorr. NATSI vs DJF SST</text>
<rect x="206.1" y="581.2" width="29.76" height="10.4" fill="#05706c" stroke="none" stroke-width="1" />
<rect x="235.86" y="581.2" width="29.76" height="10.4" fill="#0c8f3b" stroke="none" stroke-width="1" />
<rect x="265.61" y="581.2" width="29.76" height="10.4" fill="#2fbb2f" stroke="none" stroke-width="1" />
<rect x="295.37" y="581.2" width="29.76" height="10.4" fill="#7fd77f" stroke="none" stroke-width="1" />
<rect x="325.12" y="581.2" width="29.76" height="10.4" fill="#ffffff" stroke="none" stroke-width="1" />
<rect x="354.88" y="581.2" width="29.76" height="10.4" fill="#ffff00" stroke="none" stroke-width="1" />
<rect x="384.63" y="581.2" width="29.76" height="10.4" fill="#ffc800" stroke="none" stroke-width="1" />
<rect x="414.39" y="581.2" width="29.76" height="10.4" fill="#ff8000" stroke="none" stroke-width="1" />
<rect x="444.14" y="581.2" width="29.76" height="10.4" fill="#ff2000" stroke="none" stroke-width="1" />
<line x1="235.86" y1="581.2" x2="235.86" y2="591.6" stroke="#000" stroke-width="1" />
<line x1="265.61" y1="581.2" x2="265.61" y2="591.6" stroke="#000" stroke-width="1" />
<line x1="295.37" y1="581.2" x2="295.37" y2="591.6" stroke="#000" stroke-width="1" />
<line x1="325.12" y1="581.2" x2="325.12" y2="591.6" stroke="#000" stroke-width="1" />
<line x1="354.88" y1="581.2" x2="354.88" y2="591.6" stroke="#000" stroke-width="1" />
<line x1="384.63" y1="581.2" x2="384.63" y2="591.6" stroke="#000" stroke-width="1" />
<line x1="414.39" y1="581.2" x2="414.39" y2="591.6" stroke="#000" stroke-width="1" />
<line x1="444.14" y1="581.2" x2="444.14" y2="591.6" stroke="#000" stroke-width="1" />
<rect x="206.1" y="581.2" width="267.8" height="10.4" fill="none" stroke="#000" stroke-width="1" />
<text x="235.86" y="603" font-size="11" text-anchor="middle" fill="#000" >-0.4</text>
<text x="265.61" y="603" font-size="11" text-anchor="middle" fill="#000" >-0.3</text>
<text x="295.37" y="603" font-size="11" text-anchor="middle" fill="#000" >-0.2</text>
<text x="325.12" y="603" font-size="11" text-anchor="middle" fill="#000" >-0.1</text>
<text x="354.88" y="603" font-size="11" text-anchor="middle" fill="#000" >0.1</text>
<text x="384.63" y="603" font-size="11" text-anchor="middle" fill="#000" >0.2</text>
<text x="414.39" y="603" font-size="11" text-anchor="middle" fill="#000" >0.3</text>
<text x="444.14" y="603" font-size="11" text-anchor="middle" fill="#000" >0.4</text>
</svg></body></html>
